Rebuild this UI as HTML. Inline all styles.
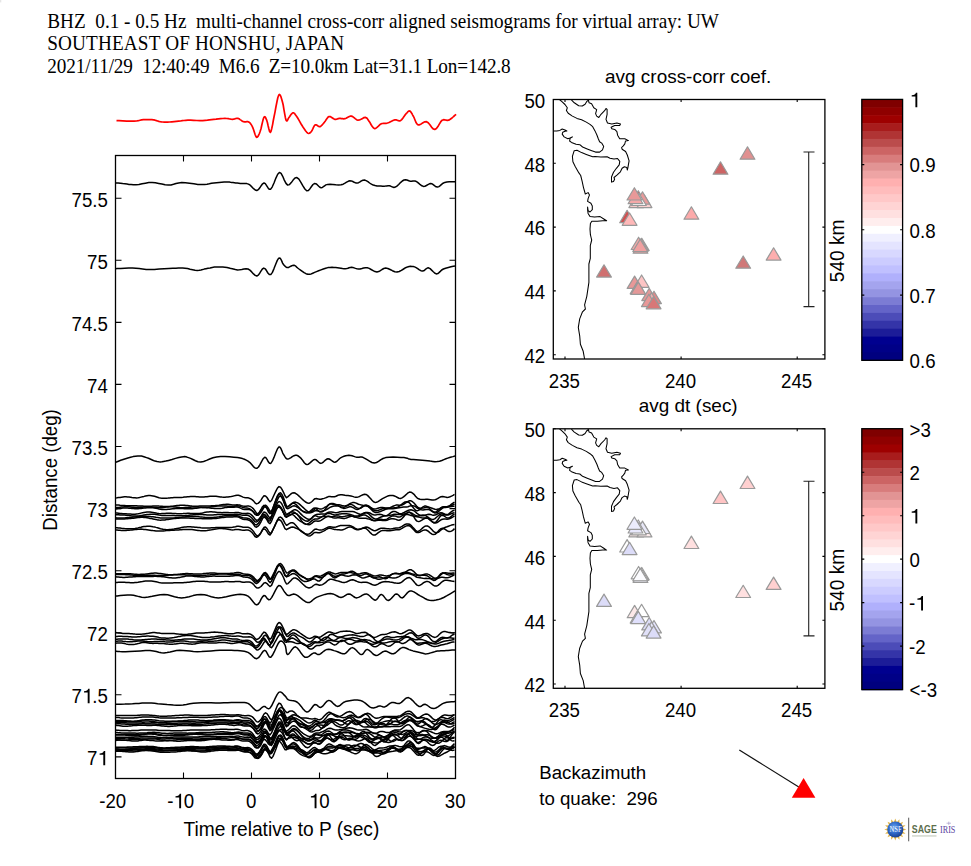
<!DOCTYPE html><html><head><meta charset="utf-8"><style>
html,body{margin:0;padding:0;background:#fff;overflow:hidden}svg{display:block}
.t{font-family:"Liberation Sans",sans-serif;font-size:18.7px;fill:#000;white-space:pre}
.s{font-family:"Liberation Serif",serif;font-size:19.2px;fill:#000;white-space:pre}
</style></head><body>
<svg width="971" height="866" viewBox="0 0 971 866">
<rect width="971" height="866" fill="#fff"/>
<rect x="0" y="0" width="1.3" height="2.4" fill="#e6e6e6"/>
<text transform="translate(47.3,27.9) scale(1,1.09)" class="s" style="font-size:19.2px" xml:space="preserve">BHZ  0.1 - 0.5 Hz  multi-channel cross-corr aligned seismograms for virtual array: UW</text>
<text transform="translate(47.3,50.4) scale(1,1.09)" class="s" style="font-size:19.2px" xml:space="preserve" textLength="296.9">SOUTHEAST OF HONSHU, JAPAN</text>
<text transform="translate(47.3,73) scale(1,1.09)" class="s" style="font-size:19.2px" xml:space="preserve" textLength="463.4">2021/11/29  12:40:49  M6.6  Z=10.0km Lat=31.1 Lon=142.8</text>
<polyline points="116.5,120.6 119,120.7 122.7,120.9 126.8,121.1 130.8,121.2 134.1,121.2 136.5,121 138.4,120.7 140,120.3 141.6,119.9 143.4,119.7 145.4,119.6 147.6,119.6 149.7,119.6 151.8,119.7 153.6,119.9 155.1,120.2 156.4,120.6 157.6,121 158.8,121.4 160.1,121.7 161.5,121.9 162.8,122 164.2,122.1 165.8,122.1 167.5,122.1 169.5,122 171.8,121.8 174.1,121.6 176.4,121.4 178.6,121.2 180.5,121 182.2,120.7 183.9,120.5 185.7,120.3 187.9,120.2 190.6,120.2 193.6,120.3 196.8,120.5 199.9,120.6 202.7,120.6 205.2,120.4 207.4,120.2 209.5,119.9 211.6,119.6 213.8,119.3 216.1,119.1 218.4,118.8 220.7,118.6 222.9,118.5 224.9,118.4 226.7,118.5 228.3,118.7 229.7,119 231.1,119.2 232.4,119.3 233.6,119.2 234.7,118.9 235.8,118.5 236.8,118.3 237.9,118.4 239,118.8 240.1,119.6 241.3,120.4 242.4,121.2 243.5,121.7 244.6,121.9 245.8,121.8 246.9,121.7 248,121.7 249,122.1 249.9,122.8 250.6,123.7 251.4,124.9 252.1,126.1 252.8,127.6 253.5,129.5 254.3,131.9 255,134.3 255.8,136.3 256.5,137.3 257.2,137.2 258,136.4 258.7,135 259.5,133.3 260.2,131.3 261,128.8 261.7,125.5 262.5,122.1 263.2,119.2 263.9,117.4 264.5,116.7 265,116.9 265.6,117.6 266.1,118.8 266.7,120.2 267.4,122.5 268.1,125.7 268.9,129 269.6,131.5 270.4,132.3 271.1,131 271.8,128.3 272.6,124.6 273.3,120.5 274.1,116.5 275,112.1 275.9,107 276.9,102 277.8,97.8 278.7,95.2 279.5,94.5 280.2,95.2 281,96.9 281.7,99.2 282.4,101.7 283.2,105 283.9,109.3 284.7,113.8 285.4,117.7 286.1,120.2 286.7,121 287.3,120.7 287.8,119.7 288.4,118.4 289,117.4 289.7,116.5 290.5,115.3 291.4,114.1 292.2,113.2 293,112.8 293.7,112.9 294.4,113.4 295.1,114.2 295.8,115.3 296.7,116.5 297.7,118 298.8,119.9 299.9,121.9 301.1,124 302.2,125.8 303.3,127.6 304.5,129.3 305.7,131 306.8,132.3 307.8,133.2 308.7,133.5 309.4,133.3 310.1,132.8 310.8,132.1 311.5,131.3 312.2,130.2 312.9,128.7 313.6,127.1 314.4,125.7 315.2,124.9 316.1,124.8 317,125.3 318,126 319,126.6 319.9,126.7 320.8,126.2 321.7,125.4 322.7,124.3 323.6,123.2 324.5,122.1 325.4,120.9 326.3,119.5 327.2,118.2 328.1,117.1 329.1,116.5 330.2,116.6 331.3,117.2 332.5,118 333.6,118.8 334.7,119.3 335.7,119.3 336.6,119.1 337.4,118.9 338.3,118.6 339.3,118.4 340.3,118.4 341.4,118.6 342.5,118.7 343.7,118.8 344.9,118.7 346.1,118.3 347.4,117.5 348.8,116.8 350.1,116.2 351.4,116.1 352.7,116.6 354,117.6 355.2,118.7 356.5,119.7 357.9,120.2 359.4,120 361,119.3 362.6,118.4 364,117.6 365.3,117.4 366.2,117.7 367,118.3 367.6,119.1 368.2,120.1 369,121.2 370,122.6 371,124.5 372.1,126.3 373.3,127.8 374.5,128.6 375.7,128.4 377,127.4 378.4,126.1 379.7,124.8 381,123.9 382.3,123.5 383.6,123.4 384.8,123.3 386.1,123.3 387.5,123 389,122.5 390.5,121.7 392,121 393.5,120.3 394.9,119.9 396.1,119.9 397.3,120.3 398.3,120.7 399.4,120.9 400.5,120.6 401.7,119.6 402.8,118.2 404,116.5 405.1,114.9 406.1,113.7 407,112.8 407.7,111.9 408.4,111.3 409.1,110.9 409.8,111 410.5,111.5 411.2,112.5 412,113.7 412.7,115.1 413.5,116.5 414.3,118.2 415.1,120.2 415.9,122.2 416.9,123.9 418.1,124.9 419.5,124.8 421.2,123.9 423,122.7 424.8,121.8 426.5,121.7 428.2,122.8 429.9,124.8 431.5,127.1 433.2,128.9 434.8,129.5 436.4,128.6 437.9,126.6 439.3,124.1 440.8,121.7 442.2,120.2 443.5,119.7 444.8,119.8 446.1,120.2 447.4,120.4 448.7,120.2 450.2,119.3 452,118 453.6,116.5 455.1,115.2 456.1,114.3" fill="none" stroke="#ff0000" stroke-width="1.7" stroke-linejoin="round"/>
<clipPath id="pc"><rect x="115.5" y="155.5" width="340" height="623"/></clipPath>
<g clip-path="url(#pc)" fill="none" stroke="#000" stroke-width="1.5" stroke-linejoin="round">
<polyline points="115,182.7 116.3,182.9 118.2,183.1 120.4,183.3 122.7,183.6 124.9,183.8 127,184.1 129,184.4 131.1,184.6 133.4,184.8 136,184.8 138.9,184.5 142.1,183.8 145.4,183.2 148.8,182.6 152.1,182.4 155.4,182.7 158.7,183.4 161.9,184.1 165.1,184.8 168.2,185.1 171,184.9 173.5,184.3 176,183.5 178.6,182.9 181.7,182.6 185.4,182.8 189.5,183.2 193.8,183.8 197.9,184.4 201.5,184.6 204.5,184.5 207,184.2 209.3,183.8 211.5,183.3 213.9,183 216.5,182.7 219.1,182.5 221.7,182.3 224.1,182.1 226.2,182 227.9,182 229.3,182.1 230.5,182.3 231.7,182.4 233,182.6 234.4,182.8 235.8,183 237.3,183.1 238.8,183.3 240.3,183.5 241.9,183.5 243.5,183.5 245.2,183.5 246.8,183.6 248.5,184.1 250.2,185.2 251.9,186.9 253.6,188.7 255.2,190 256.8,190.5 258.3,189.7 259.8,187.8 261.2,185.7 262.6,183.8 264,183 265.3,183.7 266.6,185.6 267.9,187.7 269.2,189.2 270.7,189.2 272.3,186.8 274.1,182.7 275.9,178.1 277.7,174.2 279.4,172.4 281.1,173.4 282.7,176.3 284.3,180.1 286,183.4 287.7,185.1 289.5,184.6 291.3,182.6 293.1,180.1 295,178.1 296.9,177.6 298.9,179.2 300.9,182.3 302.9,185.9 304.9,189 306.7,190.7 308.4,190.4 310,188.7 311.5,186.5 313,184.5 314.4,183.5 315.8,183.7 317.2,184.7 318.5,186 319.8,187.2 321.1,187.7 322.3,187.5 323.4,186.7 324.6,185.8 325.9,184.9 327.7,184.4 330,184.3 332.8,184.5 335.8,184.8 338.6,184.9 341.1,184.8 343.2,184.2 345,183.2 346.6,182.2 348.2,181.3 349.8,180.8 351.3,180.9 352.8,181.5 354.2,182.3 355.7,182.9 357.1,183.1 358.6,182.7 360,181.9 361.4,180.9 362.9,180.2 364.5,180 366.1,180.6 367.9,181.6 369.6,183 371.4,184.2 373.2,185.1 375.1,185.6 377,185.9 379,186.1 380.9,186.1 382.6,186.2 384.1,186.2 385.5,186.1 386.8,185.9 388,185.8 389.3,185.8 390.5,186.1 391.6,186.6 392.7,187.1 393.9,187.4 395.3,187.1 396.9,186.1 398.7,184.5 400.5,182.6 402.3,181 404,180 405.5,179.7 406.9,180 408.2,180.5 409.5,181 410.7,181.3 411.8,181.3 412.8,181.1 413.8,181 414.8,181 416,181.3 417.3,182.1 418.8,183.4 420.3,184.7 421.9,185.8 423.4,186.4 424.9,186.2 426.4,185.5 427.9,184.6 429.4,183.8 430.8,183.5 432.2,183.9 433.5,184.9 434.8,185.9 436.1,186.8 437.5,187.1 438.9,186.6 440.2,185.6 441.6,184.4 443.1,183.2 444.8,182.4 446.8,182 449.2,181.8 451.5,181.7 453.6,181.7 455,181.7"/>
<polyline points="115,268.7 117.4,268.6 120.7,268.4 124.7,268.2 128.7,268.1 132.5,268.1 135.9,268.3 139.2,268.6 142.6,269 146.2,269.4 150,269.5 154.4,269.4 159.2,269.1 164.2,268.8 168.8,268.5 172.8,268.3 175.9,268.2 178.4,268.1 180.6,268.1 182.7,268.1 185,268.3 187.5,268.6 190.1,269.2 192.6,269.7 195.1,270.2 197.3,270.4 199.2,270.3 201,270 202.6,269.6 204.2,269.1 206,268.7 208,268.3 210.1,267.9 212.2,267.4 214.4,267.1 216.5,266.9 218.6,266.9 220.7,266.9 222.8,267.1 224.9,267.3 227,267.6 229.1,268 231.2,268.6 233.3,269.1 235.4,269.6 237.5,269.9 239.6,269.8 241.8,269.4 243.9,268.9 246,268.7 248,269 249.9,270.1 251.7,271.9 253.5,273.9 255.2,275.4 256.8,276 258.3,275.1 259.7,273.2 261.1,270.9 262.4,269 263.8,268.1 265.2,268.8 266.6,270.8 267.9,273 269.3,274.5 270.8,274.6 272.4,272.4 274,268.6 275.7,264.2 277.3,260.4 278.7,258.2 279.9,258.1 280.9,259.2 281.8,261.1 282.6,263.1 283.5,264.5 284.3,265.4 285.1,266.2 285.8,266.9 286.7,267.4 287.6,267.6 288.7,267.4 290,266.7 291.3,266 292.6,265.4 293.8,265.2 294.8,265.5 295.8,266.2 296.7,267.1 297.7,268 299,269 300.5,270.1 302.3,271.4 304.1,272.7 306,273.7 307.8,274.3 309.5,274.3 311.2,273.9 312.8,273.2 314.6,272.4 316.5,271.6 318.6,270.8 321,269.9 323.3,269 325.7,268.2 327.9,267.6 330,267.4 332,267.3 333.9,267.5 335.7,267.6 337.5,267.8 339.2,268 340.9,268.2 342.5,268.5 344,268.7 345.4,268.7 346.7,268.5 347.9,268.2 349.1,267.7 350.3,267.4 351.5,267.3 352.8,267.5 354.1,267.9 355.5,268.4 357,268.8 358.5,269 360.1,268.9 361.9,268.5 363.6,268 365.5,267.7 367.3,267.8 369.2,268.4 371.1,269.5 373.1,270.6 375,271.6 376.9,272 378.7,271.6 380.4,270.6 382,269.5 383.8,268.5 385.7,268.1 387.8,268.5 390.1,269.5 392.4,270.7 394.8,271.7 397,272 399.2,271.5 401.4,270.4 403.6,269 405.6,267.7 407.5,266.9 409.1,266.5 410.6,266.3 411.9,266.4 413.2,266.5 414.6,266.9 416.1,267.6 417.7,268.6 419.4,269.8 420.9,270.7 422.4,271.1 423.7,270.8 424.9,269.9 426.1,268.8 427.3,268 428.6,267.8 430.1,268.6 431.6,270.1 433.3,271.8 434.9,273.2 436.4,273.9 437.8,273.6 439,272.6 440.3,271.4 441.7,270 443.4,269 445.6,268.2 448.3,267.5 451,266.8 453.3,266.3 455,265.9"/>
<polyline points="115,462.5 116.4,462 118.4,461.2 120.7,460.3 123.1,459.5 125.5,458.7 127.9,458 130.5,457.3 133.1,456.6 135.5,456.2 137.8,455.9 139.7,455.9 141.5,456.1 143.1,456.5 144.7,457 146.5,457.6 148.5,458.3 150.7,459.3 152.8,460.2 155,461.1 157,461.6 158.8,461.8 160.3,461.9 161.9,461.8 163.6,461.5 165.8,461.1 168.6,460.4 172,459.5 175.5,458.4 178.8,457.5 181.5,456.9 183.4,456.7 184.7,456.6 185.7,456.8 186.9,457.1 188.5,457.6 190.6,458.4 192.9,459.5 195.4,460.7 198,461.7 200.8,462 203.6,461.5 206.6,460.4 209.7,459 213,457.7 216.5,456.9 220.5,456.6 225,456.6 229.6,456.8 233.9,457.2 237.5,457.6 240.3,458.1 242.5,458.6 244.4,459.3 246.2,460.1 248,461.1 249.9,462.6 251.7,464.6 253.4,466.6 255.1,468 256.8,468.3 258.5,467 260.1,464.4 261.7,461.3 263.2,458.7 264.7,457.3 266,457.8 267.2,459.6 268.3,461.8 269.5,463.3 270.8,463.4 272.3,461.2 274,457.4 275.7,453 277.3,449.2 278.7,447.1 279.9,447.1 280.9,448.5 281.8,450.6 282.6,452.8 283.5,454.5 284.3,455.7 285,456.9 285.7,457.9 286.5,458.7 287.6,459 289,458.7 290.6,457.8 292.3,456.6 294,455.7 295.5,455.2 296.7,455.3 297.8,455.7 298.7,456.4 299.7,457.2 300.8,458.1 301.9,459.4 303.1,461 304.3,462.7 305.6,464 306.9,464.6 308.4,464.2 310,462.9 311.7,461.4 313.3,460 314.8,459.4 316.1,459.8 317.3,460.8 318.5,462 319.7,463 320.9,463.4 322.2,462.9 323.6,461.8 325.1,460.4 326.5,459.3 327.9,458.7 329.3,459 330.7,459.9 332.2,461 333.6,461.9 334.9,462.2 336.1,461.8 337.3,460.8 338.5,459.7 339.7,458.5 341,457.6 342.5,456.9 344,456.3 345.7,455.7 347.3,455.4 348.9,455.2 350.5,455.4 352.1,455.8 353.8,456.4 355.3,456.9 356.8,457.3 358.1,457.3 359.1,457.2 360.2,457 361.4,457 362.9,457.3 364.8,458.3 367.1,459.7 369.5,461.2 371.9,462.5 374.3,463 376.5,462.5 378.5,461.4 380.6,459.9 383,458.5 385.7,457.6 389.1,457.2 393.1,457.1 397.2,457.2 401,457.4 404,457.6 406,457.9 407.3,458.2 408.2,458.7 409.3,459.1 411,459.4 413.4,459.6 416.2,459.8 419.2,460 422.2,460.2 425,460.4 427.6,460.7 430.1,461.1 432.6,461.4 435,461.7 437.3,461.6 439.6,461.2 441.8,460.5 443.9,459.6 445.9,458.8 447.8,458.1 449.6,457.5 451.3,457 452.8,456.6 454.1,456.2 455,455.9"/>
<polyline points="115.5,497.9 117,497.8 118.5,497.6 120,497.4 121.5,497.2 123,497 124.5,496.8 126,496.8 127.5,496.9 129,497 130.5,497.2 132,497.5 133.5,497.7 135,497.8 136.5,497.9 138,497.8 139.5,497.5 141,497.1 142.5,496.7 144,496.4 145.5,496 147,495.8 148.5,495.6 150,495.6 151.5,495.7 153,495.9 154.5,496.2 156,496.7 157.5,497.2 159,497.7 160.5,498 162,498.2 163.5,498.3 165,498.3 166.5,498.2 168,498.1 169.5,497.9 171,497.8 172.5,497.7 174,497.6 175.5,497.5 177,497.5 178.5,497.5 180,497.5 181.5,497.4 183,497.3 184.5,497.1 186,497 187.5,496.8 189,496.7 190.5,496.6 192,496.5 193.5,496.5 195,496.6 196.5,496.7 198,496.8 199.5,496.9 201,496.9 202.5,497 204,496.9 205.5,496.8 207,496.7 208.5,496.5 210,496.3 211.5,496.2 213,496.2 214.5,496.2 216,496.3 217.5,496.5 219,496.7 220.5,496.9 222,497.1 223.5,497.2 225,497.2 226.5,497.1 228,497 229.5,496.8 231,496.6 232.5,496.3 234,495.9 235.5,495.5 237,495.2 238.5,495.3 240,495.8 241.5,496.4 243,497.1 244.5,497.5 246,497.7 247.5,497.8 249,498.1 250.5,498.7 252,499.6 253.5,500.9 255,502.8 256.5,503.9 258,503.4 259.5,502.1 261,500.2 262.5,497.6 264,495.7 265.5,495.9 267,497.5 268.5,500 270,501.8 271.5,500.5 273,497.2 274.5,494 276,490.9 277.5,488 279,486.6 280.5,487.2 282,489.4 283.5,492.3 285,495.8 286.5,497.7 288,496.6 289.5,495.2 291,493.9 292.5,492.9 294,492.7 295.5,493.3 297,494.3 298.5,495.6 300,497 301.5,498.5 303,499.9 304.5,501.2 306,502.3 307.5,503 309,503.2 310.5,502.6 312,501.5 313.5,499.9 315,498.7 316.5,498.6 318,498.9 319.5,499.3 321,499.2 322.5,498.8 324,498.4 325.5,497.9 327,497.2 328.5,496.6 330,496.5 331.5,496.7 333,496.8 334.5,496.7 336,496.2 337.5,495.5 339,494.9 340.5,494.7 342,494.7 343.5,494.9 345,495.2 346.5,495.4 348,495.5 349.5,495.7 351,496 352.5,496.4 354,496.9 355.5,497.3 357,497.3 358.5,496.9 360,496.2 361.5,495.4 363,494.7 364.5,494.3 366,494.4 367.5,495.4 369,496.9 370.5,498.5 372,500.3 373.5,501.7 375,502.4 376.5,502.3 378,501.6 379.5,500.7 381,499.6 382.5,498.7 384,497.9 385.5,497.1 387,496.4 388.5,495.8 390,495.5 391.5,495.4 393,495.5 394.5,496 396,496.6 397.5,497.5 399,498.2 400.5,498.5 402,497.9 403.5,496.9 405,495.6 406.5,494.2 408,492.9 409.5,492.1 411,492.2 412.5,493.1 414,494.3 415.5,496.2 417,497.8 418.5,498.8 420,499.3 421.5,499.5 423,499.5 424.5,499.4 426,499.3 427.5,499.3 429,499.5 430.5,499.7 432,500 433.5,500 435,499.8 436.5,499.2 438,498.3 439.5,497.4 441,496.7 442.5,496.4 444,496.7 445.5,497.1 447,497.4 448.5,497.3 450,496.8 451.5,496.1 453,495.3 454.5,494.4"/>
<polyline points="115.5,505 117,505 118.5,505.1 120,505.3 121.5,505.4 123,505.5 124.5,505.6 126,505.7 127.5,505.7 129,505.7 130.5,505.7 132,505.7 133.5,505.7 135,505.8 136.5,505.8 138,505.9 139.5,506 141,506 142.5,506.1 144,506.2 145.5,506.3 147,506.3 148.5,506.3 150,506.3 151.5,506.2 153,506 154.5,505.9 156,505.9 157.5,505.9 159,506.1 160.5,506.2 162,506.3 163.5,506.4 165,506.4 166.5,506.5 168,506.5 169.5,506.4 171,506.3 172.5,506.2 174,506 175.5,505.8 177,505.6 178.5,505.4 180,505.3 181.5,505.2 183,505.2 184.5,505.3 186,505.4 187.5,505.5 189,505.7 190.5,505.9 192,506.1 193.5,506.2 195,506.2 196.5,506.2 198,506.2 199.5,506.1 201,506.1 202.5,506 204,505.9 205.5,505.9 207,505.9 208.5,505.9 210,505.9 211.5,505.8 213,505.8 214.5,505.7 216,505.6 217.5,505.5 219,505.3 220.5,505 222,504.8 223.5,504.6 225,504.4 226.5,504.3 228,504.3 229.5,504.5 231,504.7 232.5,504.9 234,505 235.5,504.9 237,504.8 238.5,504.9 240,505.1 241.5,505.6 243,506 244.5,506.2 246,506.2 247.5,506.1 249,506.1 250.5,506.5 252,507.5 253.5,508.9 255,511 256.5,513.2 258,513.8 259.5,512.9 261,511.3 262.5,508.9 264,506.2 265.5,505.2 267,506.3 268.5,508.5 270,511.1 271.5,511.4 273,508.3 274.5,504.1 276,500.1 277.5,496.2 279,493.4 280.5,492.8 282,494.6 283.5,497.7 285,501.9 286.5,505.9 288,507 289.5,505.7 291,504.5 292.5,503.1 294,502.2 295.5,502.1 297,502.6 298.5,503.4 300,504.6 301.5,506 303,507.4 304.5,508.8 306,510.2 307.5,511.4 309,512.1 310.5,512.1 312,511.4 313.5,510.2 315,508.7 316.5,508.1 318,508.4 319.5,508.9 321,509 322.5,508.6 324,507.9 325.5,507 327,506 328.5,504.8 330,504.1 331.5,503.9 333,504.2 334.5,504.5 336,504.7 337.5,504.8 339,504.8 340.5,505.1 342,505.5 343.5,505.8 345,505.9 346.5,505.6 348,504.9 349.5,504 351,503.1 352.5,502.6 354,502.5 355.5,502.9 357,503.5 358.5,504.2 360,504.6 361.5,505 363,505.3 364.5,505.5 366,505.7 367.5,506.2 369,507 370.5,507.6 372,508.3 373.5,508.9 375,509.1 376.5,508.8 378,508.2 379.5,507.7 381,507.4 382.5,507.5 384,507.8 385.5,508.1 387,508.2 388.5,508 390,507.6 391.5,507 393,506.3 394.5,505.6 396,505.1 397.5,505 399,505.2 400.5,505.3 402,505 403.5,504.3 405,503.3 406.5,502.4 408,501.5 409.5,500.8 411,500.8 412.5,501.7 414,503 415.5,504.7 417,506.6 418.5,507.8 420,508.3 421.5,508.3 423,508.1 424.5,507.7 426,507.3 427.5,507 429,507.1 430.5,507.6 432,508.2 433.5,508.8 435,509.3 436.5,509.4 438,509.1 439.5,508.6 441,507.9 442.5,507.3 444,507.1 445.5,506.9 447,506.7 448.5,506.2 450,505.3 451.5,504.2 453,503.1 454.5,502.1"/>
<polyline points="115.5,507.6 117,507.5 118.5,507.4 120,507.2 121.5,507 123,506.9 124.5,506.8 126,506.7 127.5,506.8 129,506.8 130.5,507 132,507.2 133.5,507.3 135,507.5 136.5,507.5 138,507.5 139.5,507.4 141,507.3 142.5,507.2 144,507.1 145.5,507.1 147,507 148.5,507 150,507.1 151.5,507.1 153,507.2 154.5,507.4 156,507.5 157.5,507.7 159,507.8 160.5,507.8 162,507.7 163.5,507.5 165,507.3 166.5,507.1 168,506.9 169.5,506.8 171,506.7 172.5,506.8 174,506.9 175.5,507 177,507.2 178.5,507.4 180,507.6 181.5,507.7 183,507.7 184.5,507.6 186,507.6 187.5,507.4 189,507.3 190.5,507.2 192,507.1 193.5,507 195,507 196.5,507 198,507.1 199.5,507.2 201,507.3 202.5,507.4 204,507.5 205.5,507.5 207,507.4 208.5,507.3 210,507.1 211.5,506.8 213,506.6 214.5,506.4 216,506.2 217.5,506.1 219,505.9 220.5,505.9 222,505.9 223.5,505.9 225,506 226.5,506.1 228,506.2 229.5,506.3 231,506.4 232.5,506.4 234,506.2 235.5,505.9 237,505.8 238.5,505.9 240,506.4 241.5,506.9 243,507.5 244.5,507.8 246,507.9 247.5,508.1 249,508.5 250.5,509.4 252,510.6 253.5,512.2 255,514.2 256.5,514.9 258,513.9 259.5,512 261,509.5 262.5,506.7 264,505.3 265.5,506.3 267,508.7 268.5,512.1 270,513.8 271.5,511.9 273,507.8 274.5,503.7 276,499.4 277.5,495.7 279,494.1 280.5,495 282,497.6 283.5,501.3 285,505.5 286.5,507.5 288,506.5 289.5,505.4 291,504.1 292.5,503.2 294,503.3 295.5,504.1 297,505.4 298.5,507 300,508.7 301.5,510.2 303,511.5 304.5,512.4 306,512.9 307.5,512.8 309,512.1 310.5,510.9 312,509.6 313.5,508.2 315,507.9 316.5,508.9 318,510.5 319.5,511.7 321,512.1 322.5,511.7 324,510.6 325.5,509 327,506.9 328.5,505 330,503.8 331.5,503.4 333,503.5 334.5,504 336,504.5 337.5,505.1 339,505.9 340.5,506.6 342,507.1 343.5,507.2 345,506.9 346.5,506.1 348,505.3 349.5,504.6 351,504.4 352.5,504.9 354,505.9 355.5,507.1 357,508 358.5,508.4 360,508.3 361.5,507.7 363,506.7 364.5,505.8 366,505.2 367.5,505.5 369,506.2 370.5,507.3 372,508.8 373.5,510 375,510.8 376.5,510.8 378,510.5 379.5,509.9 381,509.3 382.5,508.8 384,508.5 385.5,508.3 387,508.1 388.5,508.1 390,508.1 391.5,508.1 393,508 394.5,507.7 396,507.5 397.5,507.1 399,506.5 400.5,505.4 402,504.1 403.5,502.9 405,502 406.5,501.8 408,502 409.5,502.9 411,504.7 412.5,506.8 414,508.6 415.5,510.3 417,510.9 418.5,510.4 420,509.3 421.5,508 423,506.9 424.5,506.1 426,506.1 427.5,506.8 429,508 430.5,509.5 432,510.9 433.5,511.9 435,512.1 436.5,511.6 438,510.4 439.5,509 441,507.7 442.5,507 444,506.7 445.5,506.7 447,506.8 448.5,506.6 450,506.2 451.5,505.5 453,504.8 454.5,504"/>
<polyline points="115.5,509.1 117,508.8 118.5,508.6 120,508.4 121.5,508.3 123,508.1 124.5,508.1 126,508 127.5,508.1 129,508.2 130.5,508.3 132,508.5 133.5,508.6 135,508.8 136.5,508.8 138,508.8 139.5,508.6 141,508.4 142.5,508.2 144,508.1 145.5,507.9 147,507.8 148.5,507.7 150,507.7 151.5,507.7 153,507.8 154.5,508 156,508.3 157.5,508.6 159,509 160.5,509.2 162,509.4 163.5,509.5 165,509.5 166.5,509.5 168,509.3 169.5,509.2 171,509 172.5,508.8 174,508.7 175.5,508.6 177,508.5 178.5,508.5 180,508.5 181.5,508.6 183,508.6 184.5,508.7 186,508.7 187.5,508.8 189,508.8 190.5,508.7 192,508.7 193.5,508.5 195,508.3 196.5,508.2 198,508 199.5,507.8 201,507.6 202.5,507.6 204,507.5 205.5,507.6 207,507.7 208.5,507.8 210,508 211.5,508.2 213,508.3 214.5,508.5 216,508.6 217.5,508.6 219,508.5 220.5,508.4 222,508.2 223.5,507.9 225,507.6 226.5,507.4 228,507.2 229.5,507.2 231,507.2 232.5,507.2 234,507.2 235.5,507.1 237,507.1 238.5,507.3 240,507.9 241.5,508.6 243,509.2 244.5,509.5 246,509.6 247.5,509.5 249,509.5 250.5,509.9 252,510.7 253.5,511.9 255,513.8 256.5,515.3 258,515.3 259.5,514.1 261,512.3 262.5,509.8 264,507.4 265.5,506.9 267,508.2 268.5,510.7 270,513.3 271.5,513.3 273,510.5 274.5,507.1 276,503.5 277.5,499.7 279,496.7 280.5,496 282,497.5 283.5,500.2 285,504.5 286.5,508.2 288,508.7 289.5,507.9 291,507 292.5,506.1 294,505.7 295.5,506.1 297,507 298.5,508 300,509.2 301.5,510.3 303,511.1 304.5,511.6 306,512.1 307.5,512.6 309,512.9 310.5,512.8 312,512.4 313.5,511.6 315,510.7 316.5,510.6 318,511 319.5,511.4 321,511.3 322.5,511 324,510.6 325.5,510.2 327,509.4 328.5,508.3 330,507.4 331.5,506.7 333,506.2 334.5,505.9 336,505.8 337.5,505.9 339,506.4 340.5,507.2 342,507.9 343.5,508.4 345,508.3 346.5,507.9 348,507.3 349.5,506.8 351,506.8 352.5,507.4 354,508.2 355.5,509.1 357,509.5 358.5,509.2 360,508.3 361.5,507.1 363,506.1 364.5,505.4 366,505.3 367.5,506 369,507.3 370.5,508.7 372,510.2 373.5,511.6 375,512.4 376.5,512.6 378,512.3 379.5,511.8 381,511.2 382.5,510.6 384,510 385.5,509.4 387,509 388.5,508.7 390,508.7 391.5,508.7 393,508.8 394.5,508.6 396,508.3 397.5,508 399,507.7 400.5,507.4 402,507.2 403.5,507 405,506.9 406.5,506.9 408,506.7 409.5,506.1 411,505.7 412.5,505.7 414,505.9 415.5,506.7 417,507.8 418.5,508.8 420,509.4 421.5,509.7 423,509.9 424.5,509.7 426,509.5 427.5,509.3 429,509.6 430.5,510.4 432,511.4 433.5,512.4 435,513 436.5,512.8 438,512 439.5,510.7 441,509.3 442.5,508.1 444,507.5 445.5,507.4 447,507.3 448.5,507.1 450,506.8 451.5,506.4 453,506.2 454.5,506.2"/>
<polyline points="115.5,512.9 117,513.1 118.5,513.3 120,513.5 121.5,513.6 123,513.7 124.5,513.7 126,513.8 127.5,513.9 129,514 130.5,514.1 132,514.2 133.5,514.2 135,514.2 136.5,514 138,513.8 139.5,513.5 141,513.1 142.5,512.7 144,512.4 145.5,512.2 147,512.1 148.5,512 150,512.1 151.5,512.3 153,512.5 154.5,512.7 156,513 157.5,513.4 159,513.6 160.5,513.7 162,513.6 163.5,513.6 165,513.4 166.5,513.3 168,513.3 169.5,513.3 171,513.3 172.5,513.4 174,513.5 175.5,513.6 177,513.7 178.5,513.8 180,513.7 181.5,513.7 183,513.6 184.5,513.4 186,513.4 187.5,513.3 189,513.3 190.5,513.4 192,513.4 193.5,513.5 195,513.6 196.5,513.6 198,513.6 199.5,513.4 201,513.2 202.5,513 204,512.6 205.5,512.3 207,512.1 208.5,511.9 210,511.8 211.5,511.8 213,511.9 214.5,512 216,512.2 217.5,512.4 219,512.6 220.5,512.6 222,512.7 223.5,512.6 225,512.6 226.5,512.6 228,512.6 229.5,512.7 231,512.8 232.5,512.8 234,512.7 235.5,512.6 237,512.5 238.5,512.6 240,512.9 241.5,513.3 243,513.5 244.5,513.5 246,513.4 247.5,513.3 249,513.4 250.5,514.1 252,515.3 253.5,516.9 255,519.1 256.5,520.4 258,519.9 259.5,518.5 261,516.5 262.5,513.8 264,512.1 265.5,512.4 267,514.1 268.5,516.5 270,517.9 271.5,516.2 273,512.7 274.5,509.3 276,506 277.5,503 279,501.5 280.5,502.1 282,504.2 283.5,507.5 285,511.8 286.5,514.5 288,514.2 289.5,513.3 291,512 292.5,510.6 294,509.8 295.5,509.8 297,510.4 298.5,511.5 300,513.1 301.5,514.6 303,516 304.5,517.2 306,518.2 307.5,519 309,519.3 310.5,519 312,518.1 313.5,516.5 315,515.1 316.5,514.5 318,514.3 319.5,514.2 321,514.1 322.5,514 324,513.9 325.5,513.7 327,513 328.5,512.3 330,512 331.5,512 333,512.3 334.5,512.6 336,512.7 337.5,512.5 339,512.1 340.5,511.8 342,511.6 343.5,511.5 345,511.5 346.5,511.5 348,511.6 349.5,511.5 351,511.4 352.5,511.5 354,511.8 355.5,512.4 357,513.1 358.5,513.8 360,514.3 361.5,514.4 363,514 364.5,513.3 366,512.6 367.5,512.4 369,512.7 370.5,513.3 372,514.2 373.5,514.8 375,515 376.5,514.8 378,514.4 379.5,514.2 381,514.4 382.5,515 384,515.6 385.5,515.8 387,515.5 388.5,514.6 390,513.4 391.5,512.2 393,511.5 394.5,511.4 396,511.8 397.5,512.6 399,513.5 400.5,513.8 402,513.4 403.5,512.8 405,512 406.5,511.2 408,510.5 409.5,509.9 411,509.8 412.5,510.2 414,510.7 415.5,512 417,513.4 418.5,514.4 420,515.3 421.5,515.8 423,515.8 424.5,515.5 426,514.9 427.5,514.5 429,514.3 430.5,514.5 432,514.9 433.5,515.2 435,515.1 436.5,514.5 438,513.7 439.5,513 441,512.7 442.5,513 444,513.8 445.5,514.4 447,514.6 448.5,514.1 450,512.9 451.5,511.7 453,510.7 454.5,510.1"/>
<polyline points="115.5,514.8 117,514.8 118.5,514.8 120,514.9 121.5,514.9 123,515 124.5,515.1 126,515.2 127.5,515.4 129,515.5 130.5,515.7 132,515.9 133.5,516.1 135,516.1 136.5,516.1 138,516 139.5,515.8 141,515.5 142.5,515.3 144,515 145.5,514.8 147,514.6 148.5,514.4 150,514.3 151.5,514.2 153,514.2 154.5,514.3 156,514.6 157.5,514.8 159,515.1 160.5,515.3 162,515.4 163.5,515.5 165,515.6 166.5,515.6 168,515.6 169.5,515.6 171,515.6 172.5,515.6 174,515.6 175.5,515.7 177,515.7 178.5,515.8 180,515.8 181.5,515.8 183,515.8 184.5,515.7 186,515.6 187.5,515.5 189,515.3 190.5,515.1 192,515 193.5,514.8 195,514.7 196.5,514.6 198,514.5 199.5,514.5 201,514.5 202.5,514.6 204,514.7 205.5,514.8 207,514.9 208.5,514.9 210,514.9 211.5,514.9 213,514.9 214.5,514.8 216,514.7 217.5,514.6 219,514.5 220.5,514.4 222,514.4 223.5,514.4 225,514.4 226.5,514.5 228,514.6 229.5,514.7 231,514.8 232.5,514.7 234,514.6 235.5,514.3 237,514.2 238.5,514.4 240,514.7 241.5,515 243,515.2 244.5,515.2 246,515.1 247.5,515.3 249,515.8 250.5,516.8 252,518.1 253.5,519.9 255,521.7 256.5,522 258,521 259.5,519.5 261,517.2 262.5,514.9 264,514.2 265.5,515.2 267,517 268.5,519 270,518.9 271.5,516.1 273,512.8 274.5,509.8 276,507 277.5,505.2 279,505.3 280.5,507 282,509.3 283.5,512.4 285,515 286.5,515 288,513.6 289.5,512.7 291,511.9 292.5,511.7 294,512.2 295.5,513.2 297,514.2 298.5,515.5 300,516.8 301.5,518.1 303,519.3 304.5,520.3 306,521.1 307.5,521.2 309,520.5 310.5,519.3 312,517.7 313.5,516.1 315,515.6 316.5,516.1 318,516.8 319.5,517.1 321,516.9 322.5,516.4 324,515.6 325.5,514.6 327,513.6 328.5,513.2 330,513.4 331.5,514 333,514.6 334.5,514.9 336,514.8 337.5,514.5 339,514.1 340.5,513.9 342,513.7 343.5,513.7 345,513.7 346.5,513.8 348,514 349.5,514.2 351,514.6 352.5,515.1 354,515.6 355.5,516 357,516 358.5,515.6 360,515 361.5,514.2 363,513.4 364.5,512.7 366,512.6 367.5,513.2 369,514.2 370.5,515.6 372,517.1 373.5,518.3 375,518.9 376.5,518.9 378,518.4 379.5,517.7 381,517 382.5,516.5 384,516.1 385.5,515.8 387,515.7 388.5,515.5 390,515.3 391.5,515 393,514.6 394.5,514.3 396,514.3 397.5,514.4 399,514.6 400.5,514.6 402,514.4 403.5,514.1 405,513.6 406.5,513.1 408,512.5 409.5,512.4 411,512.9 412.5,513.5 414,514.5 415.5,515.5 417,516 418.5,515.9 420,515.6 421.5,515.2 423,515.1 424.5,515.3 426,515.8 427.5,516.8 429,517.9 430.5,518.9 432,519.4 433.5,519.4 435,518.6 436.5,517.3 438,516 439.5,514.8 441,514.1 442.5,514.1 444,514.5 445.5,515 447,515.1 448.5,514.9 450,514.3 451.5,513.6 453,513 454.5,512.6"/>
<polyline points="115.5,517.7 117,517.9 118.5,518 120,518 121.5,518.1 123,518 124.5,517.9 126,517.8 127.5,517.7 129,517.6 130.5,517.4 132,517.3 133.5,517.1 135,517 136.5,516.8 138,516.6 139.5,516.5 141,516.3 142.5,516.3 144,516.3 145.5,516.3 147,516.4 148.5,516.5 150,516.6 151.5,516.7 153,516.8 154.5,517 156,517.3 157.5,517.5 159,517.7 160.5,517.9 162,518 163.5,518 165,518.1 166.5,518.1 168,518.1 169.5,518.1 171,518 172.5,518 174,517.9 175.5,517.8 177,517.7 178.5,517.6 180,517.4 181.5,517.3 183,517.1 184.5,516.9 186,516.7 187.5,516.6 189,516.5 190.5,516.4 192,516.4 193.5,516.4 195,516.4 196.5,516.5 198,516.6 199.5,516.8 201,516.9 202.5,517.1 204,517.2 205.5,517.4 207,517.4 208.5,517.5 210,517.5 211.5,517.5 213,517.4 214.5,517.3 216,517.2 217.5,517 219,516.8 220.5,516.5 222,516.3 223.5,516 225,515.8 226.5,515.7 228,515.7 229.5,515.7 231,515.7 232.5,515.7 234,515.6 235.5,515.5 237,515.6 238.5,516 240,516.7 241.5,517.3 243,517.8 244.5,518 246,518.1 247.5,518.2 249,518.7 250.5,519.6 252,520.9 253.5,522.7 255,524.6 256.5,524.9 258,523.7 259.5,521.8 261,519.1 262.5,516.5 264,515.7 265.5,516.8 267,518.9 268.5,521 270,520.9 271.5,517.9 273,514.4 274.5,511.6 276,509.1 277.5,507.3 279,507 280.5,508.1 282,509.9 283.5,512.8 285,516 286.5,517 288,516.2 289.5,515.6 291,514.7 292.5,513.7 294,513.2 295.5,513.3 297,514.1 298.5,515.9 300,518.2 301.5,520.6 303,522.6 304.5,523.9 306,524.4 307.5,524 309,523.1 310.5,521.9 312,520.7 313.5,519.5 315,519 316.5,519.1 318,518.9 319.5,518.2 321,517.3 322.5,516.6 324,516.4 325.5,516.4 327,516.5 328.5,516.6 330,516.7 331.5,516.7 333,516.5 334.5,516.2 336,515.9 337.5,515.9 339,516.1 340.5,516.5 342,516.7 343.5,516.6 345,516.3 346.5,515.9 348,515.7 349.5,515.6 351,515.9 352.5,516.4 354,516.9 355.5,517.1 357,517 358.5,516.6 360,516 361.5,515.5 363,515.1 364.5,515 366,515.3 367.5,516.3 369,517.4 370.5,518.6 372,519.8 373.5,520.5 375,520.5 376.5,520 378,519.5 379.5,519.2 381,519.2 382.5,519.5 384,519.7 385.5,519.6 387,519.1 388.5,518.1 390,517.1 391.5,516.3 393,515.8 394.5,515.9 396,516.3 397.5,516.9 399,517.1 400.5,516.7 402,515.8 403.5,515 405,514.6 406.5,514.5 408,514.6 409.5,514.9 411,515.5 412.5,515.8 414,516 415.5,516.5 417,516.7 418.5,517 420,517.4 421.5,517.8 423,518.1 424.5,518 426,517.9 427.5,518.1 429,518.9 430.5,520.1 432,521.5 433.5,522.6 435,522.6 436.5,521.5 438,519.5 439.5,517.3 441,515.6 442.5,515.2 444,515.8 445.5,517 447,518 448.5,518.1 450,517.4 451.5,516.2 453,514.8 454.5,513.8"/>
<polyline points="115.5,518.9 117,518.9 118.5,519 120,519 121.5,519 123,519 124.5,518.9 126,518.8 127.5,518.7 129,518.6 130.5,518.5 132,518.3 133.5,518.2 135,518 136.5,517.8 138,517.6 139.5,517.4 141,517.3 142.5,517.3 144,517.4 145.5,517.6 147,517.8 148.5,518.1 150,518.4 151.5,518.6 153,518.9 154.5,519.2 156,519.5 157.5,519.9 159,520.1 160.5,520.2 162,520.1 163.5,520 165,519.9 166.5,519.6 168,519.4 169.5,519.2 171,518.9 172.5,518.7 174,518.5 175.5,518.4 177,518.3 178.5,518.2 180,518.1 181.5,518.1 183,518 184.5,518 186,518 187.5,518.1 189,518.1 190.5,518.2 192,518.2 193.5,518.3 195,518.4 196.5,518.4 198,518.5 199.5,518.5 201,518.6 202.5,518.7 204,518.7 205.5,518.7 207,518.8 208.5,518.8 210,518.7 211.5,518.7 213,518.6 214.5,518.5 216,518.4 217.5,518.3 219,518.1 220.5,517.8 222,517.6 223.5,517.4 225,517.2 226.5,517 228,517 229.5,517 231,517 232.5,516.9 234,516.8 235.5,516.7 237,516.7 238.5,517.1 240,517.8 241.5,518.6 243,519.2 244.5,519.4 246,519.6 247.5,519.7 249,520.2 250.5,521.1 252,522.5 253.5,524.4 255,526.6 256.5,527.2 258,526.2 259.5,524.4 261,521.8 262.5,518.6 264,517 265.5,517.8 267,519.8 268.5,522.7 270,523.7 271.5,521.3 273,517.5 274.5,514.1 276,510.4 277.5,507.4 279,506.1 280.5,507.2 282,509.4 283.5,512.7 285,516.3 286.5,517.3 288,515.8 289.5,515 291,514.4 292.5,514.5 294,515.5 295.5,517.1 297,518.5 298.5,519.9 300,521 301.5,521.9 303,522.6 304.5,523.4 306,524.1 307.5,524.6 309,524.7 310.5,524.2 312,523.2 313.5,521.7 315,521 316.5,521 318,521.3 319.5,521.1 321,520.3 322.5,519.3 324,518.3 325.5,517.4 327,516.5 328.5,516.1 330,516.5 331.5,517.1 333,517.7 334.5,518 336,517.9 337.5,517.7 339,517.7 340.5,517.9 342,518.2 343.5,518.5 345,518.4 346.5,518 348,517.4 349.5,516.7 351,516.2 352.5,516.2 354,516.5 355.5,517.1 357,517.6 358.5,518 360,518.2 361.5,518.3 363,518.3 364.5,518.2 366,518.2 367.5,518.7 369,519.1 370.5,519.6 372,520.2 373.5,520.6 375,520.7 376.5,520.5 378,520.2 379.5,520.1 381,520.3 382.5,520.5 384,520.6 385.5,520.5 387,520.2 388.5,519.6 390,519.1 391.5,518.8 393,518.7 394.5,518.9 396,519.4 397.5,520 399,520.3 400.5,519.8 402,518.6 403.5,516.9 405,515.1 406.5,513.5 408,512.3 409.5,512.1 411,513.2 412.5,515 414,517.1 415.5,519.6 417,521.1 418.5,521.6 420,521.2 421.5,520.4 423,519.4 424.5,518.5 426,518 427.5,518.2 429,519.1 430.5,520.3 432,521.7 433.5,522.7 435,523.1 436.5,522.8 438,522 439.5,520.8 441,519.8 442.5,519.2 444,519 445.5,519.1 447,519.2 448.5,519 450,518.5 451.5,517.8 453,516.9 454.5,515.9"/>
<polyline points="115.5,527.7 117,527.8 118.5,527.9 120,528.1 121.5,528.3 123,528.4 124.5,528.6 126,528.7 127.5,528.8 129,528.8 130.5,528.8 132,528.8 133.5,528.7 135,528.5 136.5,528.2 138,527.9 139.5,527.5 141,527.2 142.5,526.8 144,526.6 145.5,526.4 147,526.3 148.5,526.3 150,526.3 151.5,526.4 153,526.7 154.5,526.9 156,527.4 157.5,527.8 159,528.3 160.5,528.8 162,529.1 163.5,529.4 165,529.5 166.5,529.7 168,529.7 169.5,529.6 171,529.5 172.5,529.3 174,529.1 175.5,528.8 177,528.5 178.5,528.2 180,527.9 181.5,527.6 183,527.3 184.5,527.1 186,526.9 187.5,526.8 189,526.8 190.5,526.8 192,526.9 193.5,527 195,527.2 196.5,527.3 198,527.5 199.5,527.6 201,527.8 202.5,527.9 204,527.9 205.5,528 207,528 208.5,527.9 210,527.9 211.5,527.8 213,527.7 214.5,527.7 216,527.6 217.5,527.6 219,527.5 220.5,527.5 222,527.5 223.5,527.4 225,527.4 226.5,527.4 228,527.4 229.5,527.4 231,527.4 232.5,527.3 234,527 235.5,526.7 237,526.3 238.5,526.3 240,526.5 241.5,526.8 243,527.2 244.5,527.3 246,527.3 247.5,527.3 249,527.6 250.5,528.4 252,529.7 253.5,531.4 255,533.8 256.5,535.6 258,535.7 259.5,534.5 261,532.6 262.5,529.7 264,527.3 265.5,527.1 267,528.5 268.5,531.1 270,533.3 271.5,532.7 273,529.7 274.5,526.6 276,523.3 277.5,519.8 279,517.4 280.5,517.1 282,518.2 283.5,520.3 285,523.4 286.5,525.3 288,524.5 289.5,523.4 291,522.8 292.5,522.7 294,523.4 295.5,525 297,526.8 298.5,528.6 300,530.3 301.5,531.7 303,532.7 304.5,533.5 306,534.1 307.5,534.3 309,534 310.5,533.1 312,531.9 313.5,530.3 315,529.2 316.5,529.1 318,529.6 319.5,530.1 321,530.1 322.5,529.7 324,529.1 325.5,528.4 327,527.6 328.5,526.9 330,526.7 331.5,526.9 333,527.2 334.5,527.3 336,527 337.5,526.5 339,525.9 340.5,525.6 342,525.4 343.5,525.4 345,525.4 346.5,525.4 348,525.4 349.5,525.5 351,525.9 352.5,526.6 354,527.5 355.5,528.5 357,529.2 358.5,529.3 360,529.1 361.5,528.6 363,527.9 364.5,527.4 366,527 367.5,527.3 369,528 370.5,528.9 372,529.8 373.5,530.5 375,530.7 376.5,530.2 378,529.5 379.5,528.8 381,528.3 382.5,528.2 384,528.3 385.5,528.5 387,528.7 388.5,528.8 390,528.9 391.5,528.8 393,528.6 394.5,528.3 396,528 397.5,527.9 399,527.7 400.5,527.2 402,526.4 403.5,525.4 405,524.5 406.5,524 408,523.9 409.5,524.2 411,525.3 412.5,527 414,528.6 415.5,530.3 417,531.4 418.5,531.2 420,530.3 421.5,529 423,527.6 424.5,526.5 426,525.9 427.5,526 429,526.8 430.5,528.2 432,529.8 433.5,531.4 435,532.5 436.5,532.8 438,532.3 439.5,531.3 441,530 442.5,528.9 444,528 445.5,527.3 447,526.8 448.5,526.2 450,525.6 451.5,525.1 453,524.8 454.5,524.6"/>
<polyline points="115.5,529.9 117,530 118.5,530.2 120,530.3 121.5,530.4 123,530.4 124.5,530.4 126,530.4 127.5,530.3 129,530.2 130.5,530.1 132,529.9 133.5,529.7 135,529.6 136.5,529.4 138,529.3 139.5,529.2 141,529.1 142.5,529.2 144,529.4 145.5,529.6 147,529.8 148.5,530 150,530.2 151.5,530.4 153,530.6 154.5,530.7 156,530.9 157.5,531.1 159,531.1 160.5,531.1 162,531 163.5,530.9 165,530.8 166.5,530.6 168,530.5 169.5,530.4 171,530.3 172.5,530.2 174,530.2 175.5,530.1 177,530 178.5,529.9 180,529.8 181.5,529.7 183,529.5 184.5,529.4 186,529.4 187.5,529.4 189,529.4 190.5,529.5 192,529.6 193.5,529.8 195,530 196.5,530.2 198,530.4 199.5,530.6 201,530.7 202.5,530.8 204,530.8 205.5,530.7 207,530.6 208.5,530.3 210,530 211.5,529.8 213,529.5 214.5,529.2 216,528.9 217.5,528.8 219,528.6 220.5,528.6 222,528.6 223.5,528.7 225,528.8 226.5,529 228,529.3 229.5,529.6 231,529.8 232.5,529.9 234,529.8 235.5,529.6 237,529.4 238.5,529.5 240,529.8 241.5,530.1 243,530.3 244.5,530.2 246,530 247.5,530 249,530.3 250.5,531.2 252,532.5 253.5,534.4 255,536.5 256.5,537.2 258,536.5 259.5,535 261,532.7 262.5,530 264,528.8 265.5,529.6 267,531.6 268.5,534.2 270,535 271.5,532.8 273,529.5 274.5,526.4 276,523.1 277.5,520.3 279,519.3 280.5,520.3 282,522.3 283.5,525.4 285,528.7 286.5,529.7 288,528.7 289.5,528 291,527.3 292.5,527 294,527.3 295.5,528 297,528.6 298.5,529.3 300,530.1 301.5,531 303,532.1 304.5,533.3 306,534.6 307.5,535.6 309,536 310.5,535.7 312,534.7 313.5,533.2 315,532.4 316.5,532.4 318,532.7 319.5,532.7 321,532.2 322.5,531.6 324,530.9 325.5,530 327,529 328.5,528.3 330,528.3 331.5,528.6 333,529.1 334.5,529.4 336,529.6 337.5,529.7 339,529.8 340.5,530 342,529.9 343.5,529.6 345,528.9 346.5,528.1 348,527.4 349.5,527 351,527 352.5,527.6 354,528.5 355.5,529.3 357,529.8 358.5,529.7 360,529.3 361.5,528.7 363,528.2 364.5,528 366,528.5 367.5,529.8 369,531.2 370.5,532.9 372,534.3 373.5,535.1 375,535 376.5,534.1 378,532.9 379.5,531.8 381,530.9 382.5,530.5 384,530.4 385.5,530.6 387,530.7 388.5,530.8 390,530.7 391.5,530.5 393,530.2 394.5,529.9 396,529.8 397.5,529.8 399,529.7 400.5,529.2 402,528.4 403.5,527.4 405,526.6 406.5,525.9 408,525.5 409.5,525.8 411,526.9 412.5,528.4 414,530.1 415.5,531.8 417,532.6 418.5,532.6 420,532 421.5,531.2 423,530.4 424.5,530 426,530 427.5,530.7 429,531.9 430.5,533.2 432,534.2 433.5,534.6 435,534.3 436.5,533.1 438,531.5 439.5,529.8 441,528.6 442.5,528.2 444,528.7 445.5,529.7 447,530.7 448.5,531.4 450,531.5 451.5,531.1 453,530.1 454.5,528.6"/>
<polyline points="115.5,573.7 117,573.8 118.5,573.8 120,573.8 121.5,573.8 123,573.8 124.5,573.7 126,573.7 127.5,573.7 129,573.8 130.5,573.8 132,573.9 133.5,574.1 135,574.2 136.5,574.3 138,574.4 139.5,574.4 141,574.3 142.5,574.3 144,574.2 145.5,574.1 147,573.9 148.5,573.7 150,573.5 151.5,573.3 153,573.2 154.5,573.1 156,573.1 157.5,573.2 159,573.4 160.5,573.6 162,573.8 163.5,574 165,574.2 166.5,574.4 168,574.6 169.5,574.7 171,574.7 172.5,574.7 174,574.6 175.5,574.5 177,574.4 178.5,574.2 180,574.1 181.5,573.9 183,573.8 184.5,573.7 186,573.6 187.5,573.6 189,573.7 190.5,573.8 192,573.8 193.5,573.9 195,574 196.5,574 198,574 199.5,574 201,573.9 202.5,573.8 204,573.6 205.5,573.5 207,573.3 208.5,573.2 210,573.1 211.5,573.1 213,573.1 214.5,573.1 216,573.2 217.5,573.4 219,573.5 220.5,573.5 222,573.6 223.5,573.6 225,573.6 226.5,573.5 228,573.4 229.5,573.4 231,573.3 232.5,573.2 234,573 235.5,572.7 237,572.4 238.5,572.4 240,572.7 241.5,573.2 243,573.7 244.5,574.1 246,574.2 247.5,574.3 249,574.5 250.5,575 252,575.9 253.5,577.1 255,578.9 256.5,580.4 258,580.3 259.5,579.1 261,577.4 262.5,575 264,572.9 265.5,572.5 267,574 268.5,576.4 270,578.8 271.5,578.9 273,576.2 274.5,572.8 276,569.5 277.5,566.3 279,563.9 280.5,563.5 282,564.9 283.5,567.1 285,570.3 286.5,572.9 288,572.8 289.5,571.4 291,570.6 292.5,569.9 294,570 295.5,570.9 297,572.3 298.5,573.7 300,575.1 301.5,576.3 303,577.3 304.5,577.9 306,578.5 307.5,578.9 309,578.9 310.5,578.6 312,577.9 313.5,576.9 315,575.9 316.5,575.7 318,576 319.5,576.3 321,576 322.5,575.3 324,574.3 325.5,573.5 327,572.6 328.5,572 330,572 331.5,572.6 333,573.2 334.5,573.8 336,573.9 337.5,573.5 339,573 340.5,572.6 342,572.4 343.5,572.4 345,572.4 346.5,572.4 348,572.5 349.5,572.5 351,572.6 352.5,572.9 354,573.3 355.5,573.7 357,573.9 358.5,573.9 360,573.7 361.5,573.3 363,573 364.5,572.8 366,572.7 367.5,573.1 369,573.9 370.5,574.5 372,575.3 373.5,575.8 375,576.1 376.5,575.8 378,575.4 379.5,575.1 381,575 382.5,575.3 384,575.6 385.5,575.8 387,575.9 388.5,575.6 390,575.1 391.5,574.4 393,573.8 394.5,573.4 396,573.2 397.5,573.4 399,573.8 400.5,574 402,573.8 403.5,573.2 405,572.3 406.5,571.3 408,570.4 409.5,569.7 411,569.7 412.5,570.6 414,571.7 415.5,573.3 417,574.7 418.5,575.6 420,575.7 421.5,575.3 423,574.8 424.5,574.3 426,574 427.5,574.1 429,574.6 430.5,575.6 432,576.7 433.5,577.7 435,578.2 436.5,578.1 438,577.2 439.5,576 441,574.6 442.5,573.5 444,572.9 445.5,572.7 447,572.9 448.5,573.2 450,573.3 451.5,573.3 453,573.1 454.5,572.7"/>
<polyline points="115.5,574.6 117,574.6 118.5,574.5 120,574.5 121.5,574.5 123,574.6 124.5,574.6 126,574.7 127.5,574.8 129,574.8 130.5,575 132,575.1 133.5,575.2 135,575.2 136.5,575.3 138,575.3 139.5,575.3 141,575.2 142.5,575.2 144,575.3 145.5,575.3 147,575.3 148.5,575.3 150,575.3 151.5,575.3 153,575.3 154.5,575.3 156,575.4 157.5,575.5 159,575.6 160.5,575.6 162,575.5 163.5,575.5 165,575.4 166.5,575.3 168,575.2 169.5,575.1 171,575 172.5,574.9 174,574.8 175.5,574.8 177,574.8 178.5,574.8 180,574.8 181.5,574.8 183,574.8 184.5,574.8 186,574.9 187.5,574.9 189,575 190.5,575.1 192,575.2 193.5,575.3 195,575.4 196.5,575.4 198,575.5 199.5,575.5 201,575.4 202.5,575.4 204,575.3 205.5,575.2 207,575.1 208.5,574.9 210,574.8 211.5,574.6 213,574.5 214.5,574.4 216,574.3 217.5,574.2 219,574.1 220.5,574 222,574 223.5,574 225,574 226.5,574.1 228,574.2 229.5,574.4 231,574.5 232.5,574.5 234,574.4 235.5,574.2 237,574.2 238.5,574.3 240,574.7 241.5,575.2 243,575.5 244.5,575.5 246,575.4 247.5,575.4 249,575.6 250.5,576.3 252,577.4 253.5,579 255,580.9 256.5,581.7 258,581.2 259.5,580 261,577.9 262.5,575.2 264,573.5 265.5,573.8 267,575.3 268.5,577.9 270,579.4 271.5,577.8 273,574.8 274.5,571.8 276,568.5 277.5,565.7 279,564.7 280.5,566.1 282,568.7 283.5,572.2 285,575.7 286.5,576.6 288,574.8 289.5,573 291,571.5 292.5,570.7 294,571 295.5,572.1 297,573.2 298.5,574.3 300,575.1 301.5,575.8 303,576.6 304.5,577.6 306,578.8 307.5,580 309,580.5 310.5,580.2 312,579.2 313.5,577.5 315,576.5 316.5,576.5 318,577.1 319.5,577.7 321,577.7 322.5,577.3 324,576.4 325.5,575.3 327,574 328.5,573.4 330,573.6 331.5,574.5 333,575.6 334.5,576.3 336,576.3 337.5,575.8 339,575.1 340.5,574.4 342,574.1 343.5,573.9 345,573.7 346.5,573.3 348,572.7 349.5,571.9 351,571.3 352.5,571.3 354,571.9 355.5,572.9 357,574.1 358.5,575 360,575.5 361.5,575.4 363,574.8 364.5,574.1 366,573.8 367.5,574.3 369,575.2 370.5,576.3 372,577.4 373.5,578 375,577.9 376.5,577.4 378,576.9 379.5,576.7 381,577.2 382.5,577.9 384,578.6 385.5,578.8 387,578.3 388.5,577.2 390,575.9 391.5,574.7 393,573.9 394.5,573.5 396,573.5 397.5,573.7 399,573.9 400.5,573.5 402,572.9 403.5,572.4 405,572.2 406.5,572.3 408,572.5 409.5,572.9 411,573.5 412.5,574 414,574.3 415.5,574.9 417,575.2 418.5,575.3 420,575.3 421.5,575.3 423,575.3 424.5,575.3 426,575.4 427.5,576 429,577 430.5,578.3 432,579.6 433.5,580.4 435,580.3 436.5,579.2 438,577.3 439.5,575.2 441,573.6 442.5,572.8 444,573 445.5,573.7 447,574.5 448.5,574.9 450,574.9 451.5,574.5 453,574.1 454.5,573.7"/>
<polyline points="115.5,576.8 117,577 118.5,577.1 120,577.2 121.5,577.3 123,577.4 124.5,577.4 126,577.3 127.5,577.2 129,577.1 130.5,577 132,576.9 133.5,576.8 135,576.7 136.5,576.6 138,576.5 139.5,576.5 141,576.4 142.5,576.5 144,576.5 145.5,576.6 147,576.6 148.5,576.6 150,576.6 151.5,576.5 153,576.4 154.5,576.3 156,576.3 157.5,576.4 159,576.5 160.5,576.6 162,576.7 163.5,576.8 165,577 166.5,577.2 168,577.4 169.5,577.7 171,577.8 172.5,578 174,578 175.5,578 177,577.8 178.5,577.6 180,577.4 181.5,577 183,576.7 184.5,576.4 186,576.1 187.5,576 189,575.9 190.5,575.9 192,576 193.5,576.2 195,576.4 196.5,576.5 198,576.7 199.5,576.8 201,576.9 202.5,576.9 204,576.9 205.5,576.8 207,576.6 208.5,576.5 210,576.3 211.5,576.2 213,576.1 214.5,576.1 216,576.2 217.5,576.2 219,576.2 220.5,576.3 222,576.3 223.5,576.3 225,576.3 226.5,576.3 228,576.3 229.5,576.2 231,576.1 232.5,576 234,575.7 235.5,575.4 237,575.3 238.5,575.5 240,575.9 241.5,576.4 243,576.9 244.5,577.1 246,577.2 247.5,577.3 249,577.7 250.5,578.4 252,579.5 253.5,581 255,582.8 256.5,583.5 258,582.7 259.5,581.1 261,578.8 262.5,576.1 264,574.7 265.5,575.6 267,577.7 268.5,580.9 270,582.6 271.5,581.2 273,578.1 274.5,574.7 276,570.7 277.5,567 279,565 280.5,565.5 282,567.5 283.5,570.9 285,574.9 286.5,576.7 288,576.2 289.5,575.5 291,574.5 292.5,573.7 294,573.6 295.5,574.3 297,575.3 298.5,576.8 300,578.5 301.5,579.9 303,580.9 304.5,581.5 306,581.6 307.5,581.3 309,580.6 310.5,579.8 312,579.2 313.5,578.7 315,579.1 316.5,580.1 318,581 319.5,580.9 321,579.6 322.5,577.8 324,575.9 325.5,574.2 327,573.2 328.5,573.3 330,574.4 331.5,576 333,577.3 334.5,577.9 336,577.6 337.5,576.7 339,575.8 340.5,575.1 342,575 343.5,575.2 345,575.7 346.5,576.1 348,576.3 349.5,576 351,575.5 352.5,575 354,574.8 355.5,574.9 357,575.4 358.5,576.1 360,576.9 361.5,577.7 363,578 364.5,577.8 366,577.2 367.5,576.8 369,576.2 370.5,576.1 372,576.6 373.5,577.3 375,578.1 376.5,578.8 378,579.2 379.5,579.3 381,579.1 382.5,578.6 384,578 385.5,577.5 387,577.2 388.5,577.2 390,577.5 391.5,577.8 393,578 394.5,577.9 396,577.7 397.5,577.2 399,576.6 400.5,575.6 402,574.7 403.5,574 405,573.6 406.5,573.6 408,573.5 409.5,573.7 411,574.2 412.5,574.9 414,575.5 415.5,576.5 417,577.2 418.5,577.5 420,577.8 421.5,578.1 423,578.3 424.5,578.4 426,578.3 427.5,578.4 429,578.5 430.5,578.7 432,578.8 433.5,579 435,579 436.5,578.7 438,578.2 439.5,577.7 441,577.3 442.5,577.3 444,577.4 445.5,577.7 447,577.8 448.5,577.5 450,577 451.5,576.3 453,575.5 454.5,574.6"/>
<polyline points="115.5,582.5 117,582.4 118.5,582.3 120,582.3 121.5,582.3 123,582.3 124.5,582.3 126,582.4 127.5,582.5 129,582.6 130.5,582.7 132,582.7 133.5,582.7 135,582.6 136.5,582.5 138,582.3 139.5,582 141,581.7 142.5,581.5 144,581.2 145.5,581.1 147,581 148.5,581 150,581 151.5,581.1 153,581.3 154.5,581.5 156,581.8 157.5,582.1 159,582.5 160.5,582.8 162,582.9 163.5,583.1 165,583.1 166.5,583.1 168,583.1 169.5,583 171,582.9 172.5,582.9 174,582.8 175.5,582.8 177,582.8 178.5,582.8 180,582.8 181.5,582.7 183,582.7 184.5,582.6 186,582.5 187.5,582.3 189,582.2 190.5,582 192,581.8 193.5,581.6 195,581.5 196.5,581.3 198,581.2 199.5,581.2 201,581.2 202.5,581.2 204,581.3 205.5,581.5 207,581.6 208.5,581.8 210,581.9 211.5,582 213,582.1 214.5,582.1 216,582.1 217.5,582.1 219,582 220.5,581.9 222,581.8 223.5,581.7 225,581.6 226.5,581.6 228,581.6 229.5,581.7 231,581.8 232.5,581.8 234,581.8 235.5,581.6 237,581.5 238.5,581.5 240,581.6 241.5,581.9 243,582.2 244.5,582.2 246,582.1 247.5,582 249,582 250.5,582.3 252,583.2 253.5,584.4 255,586.3 256.5,587.8 258,588.1 259.5,587.5 261,586.5 262.5,584.7 264,583 265.5,582.6 267,583.6 268.5,585.2 270,586.5 271.5,585.4 273,581.9 274.5,578.3 276,575.2 277.5,572.6 279,571.3 280.5,572.1 282,574.5 283.5,577.5 285,581.3 286.5,584 288,583.6 289.5,582 291,580.4 292.5,578.8 294,577.9 295.5,578 297,578.7 298.5,579.8 300,581.2 301.5,582.8 303,584.3 304.5,585.6 306,586.8 307.5,587.6 309,587.9 310.5,587.6 312,586.8 313.5,585.5 315,584.5 316.5,584.2 318,584.7 319.5,585.2 321,585.1 322.5,584.6 324,583.7 325.5,582.6 327,581.2 328.5,580 330,579.3 331.5,579.2 333,579.5 334.5,580 336,580.5 337.5,580.9 339,581.3 340.5,581.8 342,582.2 343.5,582.5 345,582.4 346.5,582 348,581.3 349.5,580.5 351,580 352.5,579.8 354,580.1 355.5,580.7 357,581.4 358.5,582 360,582.3 361.5,582.4 363,582.3 364.5,582.2 366,582.2 367.5,582.5 369,583.1 370.5,583.8 372,584.5 373.5,585.1 375,585.2 376.5,584.8 378,584.1 379.5,583.2 381,582.5 382.5,582 384,581.7 385.5,581.6 387,581.7 388.5,581.8 390,582.1 391.5,582.3 393,582.6 394.5,582.9 396,583.1 397.5,583.2 399,583.2 400.5,582.8 402,581.9 403.5,580.6 405,579.3 406.5,578.3 408,577.7 409.5,577.6 411,578.4 412.5,580 414,581.7 415.5,583.6 417,585.1 418.5,585.6 420,585.2 421.5,584.3 423,583.2 424.5,582.2 426,581.6 427.5,581.4 429,581.9 430.5,582.9 432,584.2 433.5,585.4 435,586.1 436.5,586.1 438,585.4 439.5,584.2 441,582.7 442.5,581.5 444,580.6 445.5,580.3 447,580.3 448.5,580.5 450,580.7 451.5,581 453,581.2 454.5,581.4"/>
<polyline points="115,596.1 117.2,595.9 120.3,595.5 123.9,595.2 127.5,594.9 130.8,594.9 133.6,595.3 136.3,595.9 138.9,596.6 141.7,597.2 144.8,597.4 148.3,597 152.2,596.3 156.2,595.4 160.2,594.7 164,594.4 167.6,594.8 171,595.7 174.5,596.7 177.9,597.5 181.5,597.9 185.3,597.5 189.2,596.7 193.1,595.6 197,594.8 200.8,594.4 204.4,594.8 207.8,595.6 211.3,596.7 214.7,597.5 218.3,597.9 222.2,597.6 226.3,596.8 230.4,595.8 234.2,594.9 237.5,594.4 240.2,594.3 242.4,594.4 244.3,594.7 246.1,595.2 248,596.1 249.9,597.7 251.7,600 253.5,602.3 255.2,604.2 256.8,604.9 258.3,604 259.8,601.8 261.1,599.2 262.5,596.9 263.8,595.6 265.1,595.8 266.2,597.1 267.4,598.7 268.6,599.7 270,599.6 271.6,597.6 273.4,594.3 275.3,590.6 277.1,587.3 278.7,585.6 280.2,585.7 281.5,587.1 282.8,589.1 284,591.1 285,592.6 285.8,593.5 286.4,594.3 287,594.9 287.6,595.3 288.5,595.6 289.6,595.5 290.8,595 292.2,594.4 293.7,594.1 295.5,594.4 297.7,595.7 300.2,597.6 302.9,599.8 305.5,601.7 307.8,602.6 309.7,602.4 311.3,601.4 312.8,600 314.5,598.6 316.5,597.4 319,596.4 321.9,595.4 324.9,594.4 327.8,593.8 330.5,593.5 332.9,593.9 335.1,594.9 337.2,596 339.1,597 341,597.4 342.7,597.1 344.3,596.2 345.9,595.1 347.4,594.2 348.9,593.9 350.5,594.3 352,595.3 353.5,596.5 355.1,597.5 356.8,597.9 358.6,597.4 360.6,596.4 362.5,595.1 364.5,594.2 366.4,593.9 368.3,594.7 370.1,596.3 371.9,598.1 373.6,599.5 375.2,600.2 376.6,599.6 377.8,598.2 378.9,596.4 380.1,595 381.3,594.4 382.6,595.1 384,596.6 385.4,598.4 386.8,599.9 388.3,600.5 389.9,599.8 391.5,598.3 393.1,596.4 394.7,594.7 396.2,593.9 397.5,594.2 398.7,595.3 399.8,596.6 401,597.6 402.3,597.9 403.7,597 405.2,595.3 406.8,593.4 408.5,591.7 410.2,590.9 412,591.1 413.9,591.9 415.9,593.2 417.9,594.5 419.8,595.6 421.7,596.6 423.6,597.7 425.4,598.8 427.4,599.7 429.4,600.2 431.5,600.4 433.7,600.4 436,600.1 438.3,599.6 440.8,598.8 443.7,597.5 447,595.7 450.2,593.8 453,592.1 455,590.9"/>
<polyline points="115.5,632.6 117,632.8 118.5,632.9 120,633.1 121.5,633.2 123,633.4 124.5,633.4 126,633.5 127.5,633.6 129,633.6 130.5,633.7 132,633.8 133.5,633.9 135,634.1 136.5,634.2 138,634.2 139.5,634.2 141,634.2 142.5,634.1 144,633.9 145.5,633.7 147,633.5 148.5,633.3 150,633 151.5,632.8 153,632.6 154.5,632.6 156,632.7 157.5,632.9 159,633.1 160.5,633.3 162,633.4 163.5,633.5 165,633.6 166.5,633.6 168,633.6 169.5,633.6 171,633.6 172.5,633.6 174,633.6 175.5,633.7 177,633.9 178.5,634.1 180,634.2 181.5,634.3 183,634.4 184.5,634.4 186,634.4 187.5,634.3 189,634.1 190.5,633.9 192,633.7 193.5,633.5 195,633.3 196.5,633.1 198,633 199.5,633 201,633 202.5,633 204,632.9 205.5,632.8 207,632.7 208.5,632.6 210,632.4 211.5,632.3 213,632.2 214.5,632.1 216,632.2 217.5,632.2 219,632.4 220.5,632.6 222,632.8 223.5,633.1 225,633.3 226.5,633.5 228,633.7 229.5,633.8 231,633.8 232.5,633.7 234,633.5 235.5,633.1 237,632.8 238.5,632.8 240,633 241.5,633.4 243,633.7 244.5,633.8 246,633.7 247.5,633.6 249,633.7 250.5,634.2 252,635.1 253.5,636.4 255,638.3 256.5,639.5 258,639 259.5,637.8 261,636 262.5,633.7 264,632.1 265.5,632.7 267,634.6 268.5,637.4 270,639.2 271.5,637.9 273,634.4 274.5,630.8 276,627.2 277.5,624.1 279,622.5 280.5,623.2 282,625.5 283.5,628.6 285,632.4 286.5,634.6 288,633.7 289.5,632.4 291,631.1 292.5,630 294,629.6 295.5,630.1 297,630.8 298.5,631.8 300,633 301.5,634.1 303,635.2 304.5,636.2 306,637.2 307.5,638 309,638.4 310.5,638.2 312,637.8 313.5,636.8 315,636.2 316.5,636.5 318,637 319.5,637.2 321,636.7 322.5,635.7 324,634.7 325.5,633.6 327,632.6 328.5,632 330,632 331.5,632.5 333,633 334.5,633.4 336,633.2 337.5,632.7 339,632.1 340.5,631.6 342,631.4 343.5,631.2 345,631.2 346.5,631.1 348,631.2 349.5,631.3 351,631.6 352.5,632 354,632.6 355.5,633.2 357,633.4 358.5,633.3 360,633 361.5,632.6 363,632.4 364.5,632.3 366,632.6 367.5,633.5 369,634.7 370.5,635.8 372,636.8 373.5,637.4 375,637.4 376.5,636.9 378,636.1 379.5,635.4 381,634.8 382.5,634.6 384,634.4 385.5,634.2 387,633.9 388.5,633.4 390,632.8 391.5,632.3 393,631.9 394.5,631.8 396,632.1 397.5,632.7 399,633.4 400.5,633.7 402,633.5 403.5,632.8 405,632 406.5,631.1 408,630.3 409.5,629.9 411,630.3 412.5,631.4 414,632.7 415.5,634.3 417,635.6 418.5,635.9 420,635.6 421.5,635 423,634.3 424.5,633.7 426,633.4 427.5,633.6 429,634.3 430.5,635.3 432,636.3 433.5,637.1 435,637.4 436.5,636.9 438,635.8 439.5,634.3 441,632.9 442.5,631.9 444,631.5 445.5,631.6 447,632 448.5,632.4 450,632.6 451.5,632.8 453,632.9 454.5,632.8"/>
<polyline points="115.5,636.4 117,636.4 118.5,636.3 120,636.3 121.5,636.3 123,636.4 124.5,636.5 126,636.5 127.5,636.6 129,636.7 130.5,636.8 132,636.9 133.5,636.9 135,636.9 136.5,636.9 138,636.8 139.5,636.7 141,636.5 142.5,636.3 144,636.2 145.5,636.2 147,636.1 148.5,636.1 150,636.2 151.5,636.2 153,636.3 154.5,636.5 156,636.7 157.5,637 159,637.4 160.5,637.7 162,637.9 163.5,638 165,638.1 166.5,638.2 168,638.2 169.5,638.1 171,637.9 172.5,637.7 174,637.5 175.5,637.2 177,636.9 178.5,636.6 180,636.4 181.5,636.1 183,635.8 184.5,635.7 186,635.5 187.5,635.5 189,635.5 190.5,635.6 192,635.8 193.5,636 195,636.2 196.5,636.5 198,636.8 199.5,637 201,637.2 202.5,637.4 204,637.5 205.5,637.5 207,637.5 208.5,637.4 210,637.3 211.5,637.1 213,636.9 214.5,636.7 216,636.4 217.5,636.2 219,636 220.5,635.9 222,635.7 223.5,635.7 225,635.6 226.5,635.6 228,635.7 229.5,635.9 231,636.1 232.5,636.2 234,636.3 235.5,636.2 237,636.1 238.5,636.1 240,636.3 241.5,636.6 243,636.9 244.5,637.1 246,637 247.5,636.9 249,636.8 250.5,636.9 252,637.5 253.5,638.5 255,640 256.5,641.8 258,642.4 259.5,641.7 261,640.2 262.5,638.1 264,635.8 265.5,635.1 267,636.5 268.5,639 270,642.1 271.5,643.2 273,641.1 274.5,637.4 276,633.8 277.5,630.3 279,627.7 280.5,626.9 282,628.3 283.5,630.5 285,633.4 286.5,636 288,636.5 289.5,634.9 291,633.9 292.5,633.1 294,633 295.5,633.7 297,634.7 298.5,635.6 300,636.4 301.5,637.1 303,637.9 304.5,638.9 306,640.1 307.5,641.2 309,642 310.5,641.9 312,641 313.5,639.5 315,637.8 316.5,637 318,637.5 319.5,638.6 321,639.8 322.5,640.3 324,640.2 325.5,639.4 327,637.9 328.5,636 330,634.6 331.5,634.2 333,634.5 334.5,635.4 336,636.3 337.5,637 339,637.1 340.5,637 342,636.6 343.5,636.2 345,635.7 346.5,635.4 348,635.2 349.5,635 351,634.9 352.5,634.8 354,635 355.5,635.3 357,635.7 358.5,636.1 360,636.4 361.5,636.6 363,636.5 364.5,636.1 366,635.4 367.5,634.8 369,634.8 370.5,635.3 372,636.5 373.5,638.2 375,640 376.5,641.2 378,641.7 379.5,641.2 381,640.2 382.5,638.9 384,637.7 385.5,636.9 387,636.6 388.5,636.8 390,637.1 391.5,637.5 393,637.6 394.5,637.4 396,637 397.5,636.7 399,636.7 400.5,636.7 402,636.6 403.5,636.2 405,635.6 406.5,634.7 408,633.8 409.5,632.9 411,632.7 412.5,633.3 414,634.6 415.5,636.1 417,637.7 418.5,638.3 420,638 421.5,637 423,635.9 424.5,635.1 426,635 427.5,635.6 429,637.1 430.5,638.9 432,640.6 433.5,641.6 435,641.8 436.5,641.1 438,639.9 439.5,638.7 441,637.7 442.5,637.3 444,637.4 445.5,637.8 447,637.9 448.5,637.6 450,636.8 451.5,635.7 453,634.7 454.5,634"/>
<polyline points="115.5,639.3 117,639.2 118.5,639.1 120,639 121.5,639 123,638.9 124.5,638.9 126,639 127.5,639.1 129,639.3 130.5,639.4 132,639.6 133.5,639.8 135,639.9 136.5,640 138,640 139.5,640 141,639.9 142.5,639.8 144,639.7 145.5,639.6 147,639.5 148.5,639.3 150,639.2 151.5,639.1 153,639 154.5,638.9 156,639 157.5,639.2 159,639.3 160.5,639.4 162,639.6 163.5,639.7 165,639.8 166.5,639.9 168,640.1 169.5,640.1 171,640.2 172.5,640.2 174,640.2 175.5,640.1 177,640 178.5,639.8 180,639.7 181.5,639.5 183,639.2 184.5,639.1 186,639 187.5,638.9 189,638.9 190.5,638.9 192,639 193.5,639.1 195,639.3 196.5,639.5 198,639.7 199.5,639.8 201,640 202.5,640 204,640.1 205.5,640 207,639.9 208.5,639.7 210,639.5 211.5,639.3 213,639 214.5,638.7 216,638.5 217.5,638.2 219,638 220.5,637.8 222,637.7 223.5,637.7 225,637.8 226.5,637.9 228,638.2 229.5,638.5 231,638.7 232.5,638.9 234,638.9 235.5,638.9 237,639 238.5,639.4 240,639.9 241.5,640.3 243,640.5 244.5,640.4 246,640.2 247.5,640.2 249,640.4 250.5,641.2 252,642.3 253.5,644.2 255,645.9 256.5,646.1 258,645.1 259.5,643.4 261,640.9 262.5,638.5 264,638 265.5,639.5 267,642.1 268.5,644.9 270,645.2 271.5,642.3 273,638.4 274.5,634.2 276,630 277.5,627.1 279,626.7 280.5,628.7 282,631.9 283.5,636.4 285,640.1 286.5,640.7 288,639.2 289.5,637.7 291,636 292.5,635 294,635.1 295.5,636.1 297,637.6 298.5,639.5 300,641.5 301.5,643.1 303,644.4 304.5,645.1 306,645.5 307.5,645.4 309,644.8 310.5,644 312,642.9 313.5,641.9 315,641.8 316.5,642.1 318,642.2 319.5,641.5 321,640.3 322.5,638.9 324,637.9 325.5,637.2 327,637 328.5,637.6 330,638.7 331.5,639.8 333,640.5 334.5,640.4 336,639.6 337.5,638.6 339,637.8 340.5,637.5 342,637.6 343.5,638 345,638.4 346.5,638.6 348,638.5 349.5,638.2 351,637.9 352.5,637.6 354,637.7 355.5,637.9 357,638.3 358.5,638.7 360,639.2 361.5,639.5 363,639.7 364.5,639.6 366,639.7 367.5,640 369,640.2 370.5,640.8 372,641.6 373.5,642.2 375,642.5 376.5,642.5 378,642.2 379.5,641.7 381,641.1 382.5,640.4 384,639.7 385.5,639.2 387,638.9 388.5,638.9 390,639.1 391.5,639.4 393,639.7 394.5,639.9 396,639.9 397.5,639.8 399,639.4 400.5,638.6 402,637.7 403.5,637.1 405,636.8 406.5,636.8 408,636.8 409.5,637.3 411,638.1 412.5,638.6 414,639.2 415.5,639.7 417,639.7 418.5,639.5 420,639.4 421.5,639.5 423,639.9 424.5,640.4 426,641 427.5,641.6 429,642.2 430.5,642.8 432,643.1 433.5,643.2 435,642.9 436.5,642.2 438,641.3 439.5,640.3 441,639.4 442.5,638.7 444,638.3 445.5,638 447,637.9 448.5,637.7 450,637.7 451.5,637.9 453,638.2 454.5,638.3"/>
<polyline points="115.5,641.3 117,641.2 118.5,641.1 120,641.1 121.5,641.1 123,641.3 124.5,641.4 126,641.6 127.5,641.7 129,641.7 130.5,641.7 132,641.7 133.5,641.5 135,641.4 136.5,641.2 138,641 139.5,640.9 141,640.9 142.5,641 144,641.2 145.5,641.4 147,641.6 148.5,641.7 150,641.8 151.5,641.8 153,641.7 154.5,641.6 156,641.6 157.5,641.6 159,641.5 160.5,641.5 162,641.5 163.5,641.6 165,641.8 166.5,641.9 168,642 169.5,642.1 171,642.1 172.5,642 174,641.8 175.5,641.6 177,641.4 178.5,641.2 180,641 181.5,640.9 183,640.9 184.5,641 186,641.2 187.5,641.4 189,641.7 190.5,641.9 192,642 193.5,642.1 195,642 196.5,641.9 198,641.7 199.5,641.5 201,641.3 202.5,641.2 204,641.1 205.5,641.1 207,641.1 208.5,641.2 210,641.2 211.5,641.2 213,641.2 214.5,641.1 216,640.9 217.5,640.7 219,640.4 220.5,640.2 222,640.1 223.5,640 225,640.1 226.5,640.2 228,640.5 229.5,640.8 231,641.1 232.5,641.3 234,641.3 235.5,641.2 237,641.1 238.5,641.2 240,641.5 241.5,641.7 243,641.8 244.5,641.8 246,641.7 247.5,641.8 249,642.3 250.5,643.1 252,644.3 253.5,646 255,647.6 256.5,647.8 258,646.8 259.5,645.2 261,642.8 262.5,640.4 264,639.6 265.5,640.6 267,642.5 268.5,644.8 270,645.1 271.5,642.8 273,639.6 274.5,636.7 276,633.9 277.5,632.2 279,632.3 280.5,634.1 282,636.5 283.5,639.6 285,642.1 286.5,642.2 288,640.5 289.5,639.3 291,638.3 292.5,638 294,638.6 295.5,639.6 297,640.6 298.5,641.6 300,642.4 301.5,643.2 303,643.9 304.5,644.8 306,645.7 307.5,646.4 309,646.6 310.5,646.1 312,645 313.5,643.5 315,642.7 316.5,642.5 318,642.7 319.5,642.7 321,642.5 322.5,642.3 324,642.1 325.5,641.6 327,640.8 328.5,640.3 330,640.2 331.5,640.4 333,640.7 334.5,641 336,641.2 337.5,641.4 339,641.5 340.5,641.6 342,641.4 343.5,640.9 345,640.3 346.5,639.7 348,639.2 349.5,639.1 351,639.4 352.5,639.9 354,640.5 355.5,641 357,641 358.5,640.7 360,640.4 361.5,640.1 363,640.1 364.5,640.4 366,641.1 367.5,642.2 369,643.1 370.5,643.8 372,644.2 373.5,644.2 375,643.8 376.5,643.2 378,642.8 379.5,642.6 381,642.7 382.5,642.9 384,642.9 385.5,642.8 387,642.5 388.5,642.1 390,641.8 391.5,641.6 393,641.6 394.5,641.7 396,641.9 397.5,642 399,641.6 400.5,640.7 402,639.6 403.5,638.4 405,637.6 406.5,637.2 408,637.2 409.5,637.9 411,639.1 412.5,640.4 414,641.7 415.5,642.8 417,643.3 418.5,643.3 420,643.1 421.5,642.9 423,642.7 424.5,642.6 426,642.5 427.5,642.5 429,642.7 430.5,643.1 432,643.5 433.5,643.8 435,644 436.5,643.9 438,643.5 439.5,642.9 441,642.2 442.5,641.7 444,641.3 445.5,641 447,640.7 448.5,640.5 450,640.2 451.5,640.1 453,639.8 454.5,639.5"/>
<polyline points="115.5,643.2 117,643.1 118.5,643 120,643 121.5,643.1 123,643.3 124.5,643.5 126,643.9 127.5,644.2 129,644.4 130.5,644.6 132,644.6 133.5,644.5 135,644.3 136.5,643.9 138,643.6 139.5,643.2 141,642.8 142.5,642.6 144,642.5 145.5,642.6 147,642.8 148.5,643 150,643.2 151.5,643.3 153,643.4 154.5,643.3 156,643.3 157.5,643.3 159,643.4 160.5,643.4 162,643.5 163.5,643.6 165,643.7 166.5,643.9 168,644.1 169.5,644.2 171,644.3 172.5,644.2 174,644.1 175.5,643.9 177,643.7 178.5,643.5 180,643.3 181.5,643.3 183,643.3 184.5,643.4 186,643.6 187.5,643.8 189,644 190.5,644.1 192,644.2 193.5,644.1 195,643.9 196.5,643.6 198,643.3 199.5,643 201,642.8 202.5,642.7 204,642.6 205.5,642.7 207,642.8 208.5,642.9 210,643.1 211.5,643.1 213,643.1 214.5,643.1 216,642.9 217.5,642.8 219,642.6 220.5,642.5 222,642.4 223.5,642.4 225,642.5 226.5,642.7 228,643 229.5,643.2 231,643.4 232.5,643.4 234,643.3 235.5,643 237,642.7 238.5,642.4 240,642.4 241.5,642.7 243,643.2 244.5,643.6 246,643.9 247.5,644.1 249,644.3 250.5,644.8 252,645.6 253.5,646.6 255,648.1 256.5,649.7 258,650 259.5,648.9 261,647.2 262.5,644.9 264,642.3 265.5,641.2 267,642.2 268.5,644.2 270,646.8 271.5,647.7 273,645.8 274.5,642.9 276,640.3 277.5,637.6 279,635.3 280.5,634.2 282,634.8 283.5,636.1 285,638.4 286.5,641 288,642 289.5,641.5 291,641.7 292.5,642 294,642.5 295.5,643.1 297,643.5 298.5,643.4 300,643.2 301.5,643.1 303,643.4 304.5,644.2 306,645.5 307.5,647.1 309,648.5 310.5,649.1 312,648.9 313.5,648 315,646.5 316.5,645.6 318,645.4 319.5,645.4 321,645.1 322.5,644.3 324,643.4 325.5,642.6 327,642.1 328.5,641.9 330,642.3 331.5,643.4 333,644.4 334.5,645 336,644.6 337.5,643.5 339,642 340.5,640.8 342,640.2 343.5,640.5 345,641.5 346.5,642.7 348,643.8 349.5,644.3 351,644.2 352.5,643.7 354,643 355.5,642.4 357,641.9 358.5,641.7 360,641.6 361.5,641.6 363,641.8 364.5,641.9 366,642.1 367.5,642.5 369,643.4 370.5,644.4 372,645.6 373.5,646.5 375,646.8 376.5,646.5 378,645.6 379.5,644.5 381,643.8 382.5,643.7 384,644.2 385.5,645.1 387,645.9 388.5,646.3 390,646.1 391.5,645.2 393,644 394.5,642.7 396,641.8 397.5,641.6 399,642.1 400.5,642.9 402,643.5 403.5,643.4 405,642.8 406.5,641.8 408,640.7 409.5,639.7 411,639.4 412.5,640.1 414,641.4 415.5,642.9 417,644.4 418.5,645.1 420,644.9 421.5,644.3 423,643.7 424.5,643.3 426,643.3 427.5,643.7 429,644.5 430.5,645.3 432,646 433.5,646.4 435,646.5 436.5,646.3 438,646 439.5,645.5 441,645 442.5,644.7 444,644.4 445.5,644.1 447,643.8 448.5,643.3 450,642.8 451.5,642.3 453,642.1 454.5,641.9"/>
<polyline points="115,651.1 116.2,651.2 117.8,651.4 119.8,651.6 122.3,651.7 125.5,651.7 129.7,651.5 134.8,651.2 140.3,650.9 145.5,650.6 150,650.6 153.4,650.9 156.3,651.5 158.8,652.2 161.3,652.7 164,652.9 167,652.6 170.1,652 173.3,651.3 176.5,650.6 179.8,650.3 183.1,650.4 186.4,650.7 189.8,651.1 193.4,651.5 197.3,651.7 201.6,651.6 206.3,651.3 211,650.9 215.7,650.5 220,650.3 223.9,650.2 227.7,650.2 231.3,650.3 234.5,650.4 237.5,650.6 240.1,650.8 242.3,651 244.3,651.3 246.1,651.7 248,652.4 249.9,653.6 251.7,655.3 253.4,657 255.1,658.3 256.8,658.7 258.5,657.7 260.1,655.7 261.7,653.3 263.2,651.2 264.7,650.3 266,651.1 267.1,653.1 268.3,655.4 269.4,657.1 270.8,657.3 272.4,655.3 274.3,651.7 276.2,647.5 278,643.8 279.6,641.5 280.9,640.9 282.1,641.2 283.2,642.2 284.2,643.6 285,645 285.6,646.8 286,649.2 286.3,651.7 286.8,653.7 287.6,654.6 288.8,653.9 290.3,651.9 292,649.4 293.7,647.5 295.5,646.8 297.3,648 299.3,650.4 301.2,653.3 303.2,655.9 305.1,657.3 307,657.3 308.9,656.3 310.7,654.9 312.4,653.6 313.9,652.9 315.1,653 316.1,653.5 317,654.1 317.9,654.6 319.1,654.6 320.5,653.9 322,652.7 323.6,651.3 325.3,650.1 327,649.4 328.7,649.3 330.5,649.5 332.2,650 334,650.6 335.8,651.1 337.6,651.7 339.3,652.5 341.1,653.3 342.8,653.8 344.5,653.8 346.1,652.9 347.7,651.3 349.2,649.6 350.8,648.1 352.4,647.6 354.1,648.4 356,650 357.8,652 359.6,653.8 361.2,654.6 362.6,654.2 363.7,652.9 364.8,651.3 366,649.9 367.3,649.4 368.9,650.1 370.6,651.5 372.4,653.3 374.2,654.8 376,655.5 377.8,655.2 379.5,654.2 381.3,652.9 383,651.7 384.8,651.1 386.5,651.3 388.3,652.1 390,653 391.8,653.7 393.5,653.8 395.3,653 397,651.5 398.8,649.9 400.5,648.4 402.3,647.6 404,647.6 405.7,648 407.4,648.8 409.1,649.6 411,650.3 413.1,650.9 415.4,651.4 417.7,652 419.8,652.5 421.6,652.9 422.9,653.2 423.8,653.6 424.6,653.8 425.5,653.9 426.8,653.8 428.6,653.5 430.7,652.9 433,652.2 435.2,651.6 437.3,651.1 439.2,650.9 440.9,650.8 442.7,650.7 444.4,650.7 446.1,650.6 448,650.5 450.1,650.3 452.1,650.1 453.8,650 455,649.9"/>
<polyline points="115,704.3 117.4,704.2 120.8,704.2 124.8,704.1 128.8,703.9 132.5,703.8 135.8,703.6 138.9,703.4 142.1,703.1 145.2,702.9 148.3,702.9 151.4,703 154.6,703.3 157.7,703.7 160.9,704 164,704.3 167.1,704.6 170.2,704.8 173.4,705.1 176.5,705.2 179.8,705.2 183.1,704.9 186.4,704.4 189.8,703.8 193.4,703.3 197.3,702.9 201.6,702.8 206.3,702.8 211,702.8 215.7,702.9 220,702.9 223.9,702.8 227.7,702.7 231.3,702.5 234.5,702.4 237.5,702.4 240.1,702.4 242.3,702.4 244.3,702.5 246.1,702.8 248,703.4 249.9,704.7 251.7,706.5 253.5,708.4 255.2,710 256.8,710.8 258.3,710.6 259.8,709.6 261.1,708.3 262.5,707.1 263.8,706.4 265.1,706.6 266.2,707.5 267.4,708.4 268.6,708.8 270,708.1 271.6,705.8 273.4,702.2 275.3,698.1 277.1,694.6 278.7,692.4 280.2,691.9 281.5,692.4 282.8,693.5 284,694.9 285,695.9 285.8,696.7 286.3,697.5 286.9,698.4 287.5,699.2 288.5,699.9 289.9,700.3 291.6,700.6 293.5,700.8 295.4,701.3 297.3,702.2 299.2,704 301.2,706.4 303.1,709 305.1,711.1 306.9,712.1 308.6,711.5 310.3,709.9 311.9,707.7 313.4,705.7 314.8,704.6 316.1,704.7 317.3,705.4 318.4,706.5 319.6,707.3 320.9,707.4 322.4,706.4 323.9,704.7 325.5,702.7 327.1,701.1 328.8,700.4 330.5,700.9 332.3,702.4 334,704.2 335.8,705.7 337.5,706.4 339,706.1 340.4,705.1 341.8,703.8 343.4,702.5 345.4,701.6 348,701 351,700.4 354.3,700.1 357.4,700 360.3,700.4 362.9,701.5 365.3,703.2 367.6,705.1 369.7,706.8 371.7,707.8 373.5,708 375.2,707.6 376.7,707 378.2,706.3 379.5,706 380.7,706.1 381.7,706.4 382.7,706.8 383.7,707 384.8,706.9 386.1,706.3 387.4,705.3 388.9,704.1 390.3,703.1 391.8,702.5 393.3,702.4 394.9,702.8 396.4,703.3 398.1,703.6 399.7,703.4 401.4,702.4 403,700.9 404.8,699.2 406.5,697.9 408.4,697.6 410.5,698.6 412.7,700.6 414.9,703 417.1,705.1 418.9,706.4 420.4,706.6 421.5,706 422.6,705.2 423.7,704.5 425,704.3 426.6,704.9 428.2,706 430,707.3 431.9,708.3 433.8,708.6 435.8,708 437.9,706.8 440,705.3 442.2,703.9 444.3,702.9 446.6,702.3 449.1,702 451.5,701.8 453.5,701.7 455,701.6"/>
<polyline points="115.5,715.4 117,715.4 118.5,715.4 120,715.4 121.5,715.4 123,715.5 124.5,715.5 126,715.5 127.5,715.5 129,715.5 130.5,715.5 132,715.5 133.5,715.5 135,715.5 136.5,715.4 138,715.3 139.5,715.2 141,715.1 142.5,715.1 144,715 145.5,715 147,715.1 148.5,715.1 150,715.2 151.5,715.3 153,715.4 154.5,715.5 156,715.7 157.5,715.9 159,716.1 160.5,716.2 162,716.3 163.5,716.3 165,716.3 166.5,716.2 168,716.1 169.5,716 171,715.9 172.5,715.8 174,715.7 175.5,715.6 177,715.5 178.5,715.4 180,715.3 181.5,715.2 183,715.2 184.5,715.1 186,715.1 187.5,715.1 189,715.1 190.5,715.2 192,715.3 193.5,715.4 195,715.4 196.5,715.5 198,715.6 199.5,715.6 201,715.6 202.5,715.6 204,715.6 205.5,715.5 207,715.4 208.5,715.3 210,715.2 211.5,715.1 213,715 214.5,714.9 216,714.8 217.5,714.7 219,714.7 220.5,714.6 222,714.6 223.5,714.6 225,714.6 226.5,714.7 228,714.8 229.5,714.9 231,715 232.5,715.1 234,715.1 235.5,714.9 237,714.7 238.5,714.7 240,714.9 241.5,715.2 243,715.6 244.5,715.8 246,715.7 247.5,715.6 249,715.6 250.5,715.9 252,716.7 253.5,717.9 255,719.7 256.5,721.6 258,722 259.5,721.1 261,719.5 262.5,716.8 264,714 265.5,712.8 267,713.6 268.5,715.8 270,718.6 271.5,719.8 273,718.4 274.5,716.4 276,714.3 277.5,711.4 279,708.8 280.5,707.5 282,707.7 283.5,708.6 285,710.6 286.5,712.5 288,712.4 289.5,711.2 291,710.9 292.5,711.1 294,712 295.5,713.5 297,715.2 298.5,716.5 300,717.4 301.5,717.9 303,718 304.5,718 306,718.1 307.5,718.3 309,718.6 310.5,718.8 312,718.9 313.5,718.8 315,718.5 316.5,718.9 318,719.5 319.5,719.8 321,719.3 322.5,718 324,716.3 325.5,714.7 327,713.3 328.5,712.3 330,712.3 331.5,713.1 333,714.4 334.5,715.7 336,716.6 337.5,716.9 339,716.7 340.5,716.1 342,715.3 343.5,714.4 345,713.4 346.5,712.5 348,711.9 349.5,711.6 351,711.9 352.5,712.8 354,714.2 355.5,715.7 357,716.9 358.5,717.6 360,717.4 361.5,716.7 363,715.7 364.5,714.5 366,713.6 367.5,713.2 369,713.7 370.5,714.5 372,715.8 373.5,717 375,718 376.5,718.3 378,718.1 379.5,717.6 381,717.1 382.5,716.7 384,716.5 385.5,716.4 387,716.4 388.5,716.4 390,716.5 391.5,716.6 393,716.6 394.5,716.6 396,716.4 397.5,716.3 399,716.1 400.5,715.6 402,714.7 403.5,713.6 405,712.5 406.5,711.6 408,711.2 409.5,711.2 411,711.9 412.5,713.3 414,714.8 415.5,716.3 417,717.5 418.5,717.8 420,717.2 421.5,716.2 423,715.2 424.5,714.4 426,714 427.5,714.2 429,715.1 430.5,716.4 432,717.9 433.5,719.2 435,720 436.5,720 438,719.3 439.5,718.1 441,716.8 442.5,715.7 444,715.1 445.5,715 447,715.2 448.5,715.5 450,715.6 451.5,715.4 453,715.1 454.5,714.6"/>
<polyline points="115.5,717.4 117,717.5 118.5,717.6 120,717.8 121.5,717.9 123,717.9 124.5,718 126,718 127.5,718 129,718 130.5,718 132,717.9 133.5,717.9 135,717.8 136.5,717.7 138,717.5 139.5,717.3 141,717.2 142.5,717 144,717 145.5,716.9 147,716.9 148.5,717 150,717 151.5,717 153,717.1 154.5,717.2 156,717.4 157.5,717.6 159,717.8 160.5,717.9 162,718 163.5,718 165,718 166.5,718 168,718 169.5,718 171,717.9 172.5,717.9 174,717.9 175.5,717.9 177,717.8 178.5,717.8 180,717.7 181.5,717.7 183,717.6 184.5,717.5 186,717.4 187.5,717.4 189,717.3 190.5,717.3 192,717.3 193.5,717.3 195,717.3 196.5,717.3 198,717.3 199.5,717.4 201,717.4 202.5,717.4 204,717.4 205.5,717.4 207,717.4 208.5,717.3 210,717.3 211.5,717.2 213,717.1 214.5,717.1 216,717 217.5,716.9 219,716.8 220.5,716.6 222,716.5 223.5,716.4 225,716.3 226.5,716.2 228,716.2 229.5,716.3 231,716.4 232.5,716.4 234,716.2 235.5,716 237,715.9 238.5,716.1 240,716.6 241.5,717.2 243,717.7 244.5,718 246,718.1 247.5,718.1 249,718.4 250.5,719.2 252,720.5 253.5,722.2 255,724.7 256.5,726.1 258,725.7 259.5,724.3 261,722.1 262.5,719 264,716.7 265.5,716.8 267,718.5 268.5,721.3 270,723.2 271.5,721.6 273,717.5 274.5,713.3 276,709 277.5,705.2 279,703.1 280.5,703.7 282,706.2 283.5,710 285,714.8 286.5,718 288,717.7 289.5,716.8 291,715.9 292.5,715 294,714.8 295.5,715.2 297,715.8 298.5,716.5 300,717.5 301.5,718.5 303,719.5 304.5,720.6 306,721.7 307.5,722.6 309,723 310.5,722.7 312,722.1 313.5,720.9 315,720.2 316.5,720.7 318,721.8 319.5,722.5 321,722.4 322.5,721.6 324,720.3 325.5,718.6 327,716.6 328.5,714.8 330,713.8 331.5,713.6 333,713.9 334.5,714.5 336,715.1 337.5,715.7 339,716.4 340.5,717.1 342,717.6 343.5,717.8 345,717.6 346.5,716.9 348,716.1 349.5,715.5 351,715.1 352.5,715.4 354,716.1 355.5,716.9 357,717.4 358.5,717.4 360,716.8 361.5,715.9 363,715 364.5,714.3 366,714.1 367.5,715.1 369,716.8 370.5,718.9 372,721.2 373.5,723 375,723.8 376.5,723.6 378,722.5 379.5,721 381,719.5 382.5,718.3 384,717.5 385.5,717.1 387,717 388.5,717.2 390,717.5 391.5,717.8 393,718 394.5,718 396,717.8 397.5,717.7 399,717.4 400.5,716.9 402,715.9 403.5,715 405,714.3 406.5,713.9 408,713.6 409.5,713.7 411,714.4 412.5,715.4 414,716.4 415.5,717.5 417,718.3 418.5,718.3 420,718 421.5,717.8 423,717.8 424.5,718.1 426,718.6 427.5,719.4 429,720.3 430.5,721.1 432,721.6 433.5,721.6 435,721.2 436.5,720.3 438,719.1 439.5,718.1 441,717.4 442.5,717.3 444,717.7 445.5,718.3 447,718.7 448.5,718.5 450,717.8 451.5,716.8 453,715.7 454.5,714.7"/>
<polyline points="115.5,720.5 117,720.4 118.5,720.4 120,720.4 121.5,720.5 123,720.6 124.5,720.7 126,720.8 127.5,720.9 129,721 130.5,721.1 132,721.2 133.5,721.2 135,721.1 136.5,721 138,720.8 139.5,720.6 141,720.3 142.5,720.1 144,719.9 145.5,719.8 147,719.8 148.5,719.7 150,719.8 151.5,719.8 153,719.9 154.5,720.1 156,720.3 157.5,720.5 159,720.8 160.5,721 162,721.1 163.5,721.1 165,721.2 166.5,721.2 168,721.2 169.5,721.2 171,721.2 172.5,721.2 174,721.2 175.5,721.2 177,721.2 178.5,721.1 180,721 181.5,720.9 183,720.8 184.5,720.6 186,720.4 187.5,720.3 189,720.1 190.5,720 192,720 193.5,719.9 195,720 196.5,720 198,720.1 199.5,720.3 201,720.4 202.5,720.5 204,720.6 205.5,720.7 207,720.7 208.5,720.6 210,720.5 211.5,720.4 213,720.3 214.5,720.1 216,720 217.5,719.9 219,719.8 220.5,719.7 222,719.7 223.5,719.7 225,719.8 226.5,719.9 228,720 229.5,720.2 231,720.3 232.5,720.4 234,720.3 235.5,720 237,719.8 238.5,719.8 240,719.9 241.5,720.2 243,720.4 244.5,720.5 246,720.4 247.5,720.4 249,720.6 250.5,721.1 252,722.1 253.5,723.5 255,725.4 256.5,726.9 258,726.8 259.5,725.7 261,724 262.5,721.4 264,719.2 265.5,719 267,720.3 268.5,722.8 270,725.1 271.5,725.1 273,722.8 274.5,720 276,716.9 277.5,713.5 279,711.1 280.5,710.7 282,711.8 283.5,714 285,717.2 286.5,719.7 288,719.7 289.5,719 291,718.4 292.5,717.8 294,717.7 295.5,718.1 297,718.8 298.5,719.6 300,720.7 301.5,721.9 303,723.1 304.5,724.2 306,725.3 307.5,726 309,726.1 310.5,725.5 312,724.5 313.5,723 315,721.8 316.5,721.6 318,722 319.5,722.5 321,722.6 322.5,722.4 324,721.9 325.5,721.2 327,720.2 328.5,719.2 330,718.7 331.5,718.7 333,719.1 334.5,719.5 336,719.9 337.5,720.2 339,720.4 340.5,720.6 342,720.7 343.5,720.4 345,719.8 346.5,718.8 348,717.8 349.5,717.1 351,716.8 352.5,717.3 354,718.4 355.5,720 357,721.5 358.5,722.5 360,722.9 361.5,722.7 363,722 364.5,720.9 366,719.8 367.5,719.2 369,719.2 370.5,719.6 372,720.5 373.5,721.7 375,722.6 376.5,723.1 378,723.2 379.5,722.9 381,722.5 382.5,722.1 384,721.6 385.5,721.2 387,720.9 388.5,720.7 390,720.7 391.5,720.9 393,721.2 394.5,721.4 396,721.5 397.5,721.5 399,721.1 400.5,720.4 402,719.1 403.5,717.8 405,716.7 406.5,716.1 408,716.1 409.5,716.6 411,718 412.5,719.9 414,721.7 415.5,723.3 417,724.1 418.5,723.9 420,722.8 421.5,721.4 423,720 424.5,719 426,718.6 427.5,718.9 429,719.8 430.5,721.2 432,722.6 433.5,723.8 435,724.5 436.5,724.4 438,723.8 439.5,722.8 441,721.9 442.5,721.2 444,720.9 445.5,720.8 447,720.8 448.5,720.5 450,719.9 451.5,719.1 453,718.3 454.5,717.5"/>
<polyline points="115.5,721.6 117,721.6 118.5,721.5 120,721.5 121.5,721.5 123,721.5 124.5,721.5 126,721.6 127.5,721.6 129,721.7 130.5,721.7 132,721.8 133.5,721.8 135,721.8 136.5,721.7 138,721.6 139.5,721.4 141,721.2 142.5,721.1 144,721 145.5,721 147,721 148.5,721.1 150,721.2 151.5,721.3 153,721.5 154.5,721.7 156,721.9 157.5,722.2 159,722.4 160.5,722.5 162,722.5 163.5,722.5 165,722.4 166.5,722.2 168,722.1 169.5,721.9 171,721.8 172.5,721.6 174,721.5 175.5,721.4 177,721.4 178.5,721.3 180,721.3 181.5,721.3 183,721.3 184.5,721.3 186,721.3 187.5,721.3 189,721.4 190.5,721.5 192,721.6 193.5,721.7 195,721.8 196.5,721.9 198,722 199.5,722 201,722 202.5,722 204,721.9 205.5,721.8 207,721.6 208.5,721.4 210,721.2 211.5,721 213,720.8 214.5,720.6 216,720.4 217.5,720.3 219,720.3 220.5,720.3 222,720.3 223.5,720.3 225,720.4 226.5,720.6 228,720.7 229.5,720.9 231,721.1 232.5,721.1 234,721 235.5,720.7 237,720.6 238.5,720.7 240,721.1 241.5,721.6 243,721.9 244.5,722.1 246,722 247.5,722.1 249,722.3 250.5,723.1 252,724.3 253.5,725.9 255,728 256.5,729 258,728.2 259.5,726.4 261,723.8 262.5,720.7 264,719 265.5,719.9 267,722.3 268.5,725.8 270,727.8 271.5,726.2 273,722.4 274.5,718.7 276,714.8 277.5,711.6 279,710.4 280.5,711.5 282,713.8 283.5,716.8 285,720 286.5,720.9 288,719.1 289.5,717.6 291,716.7 292.5,716.8 294,718 295.5,719.9 297,721.7 298.5,723 300,723.9 301.5,724.2 303,724.3 304.5,724.5 306,725.2 307.5,726.1 309,726.9 310.5,727.2 312,726.8 313.5,725.5 315,724.3 316.5,723.7 318,723.5 319.5,723.2 321,722.8 322.5,722.6 324,722.6 325.5,722.5 327,722 328.5,721.4 330,720.8 331.5,720.4 333,720.1 334.5,719.9 336,719.8 337.5,719.9 339,720.2 340.5,720.6 342,720.8 343.5,720.5 345,719.8 346.5,718.8 348,718 349.5,717.9 351,718.5 352.5,720 354,721.9 355.5,723.6 357,724.5 358.5,724.3 360,723.2 361.5,721.5 363,719.9 364.5,718.7 366,718.4 367.5,719.3 369,720.7 370.5,722.3 372,723.8 373.5,724.7 375,724.8 376.5,724.4 378,723.9 379.5,723.7 381,724 382.5,724.6 384,725.1 385.5,724.9 387,724.1 388.5,722.6 390,720.7 391.5,719 393,717.9 394.5,717.7 396,718.6 397.5,720.3 399,722.2 400.5,723.3 402,723.5 403.5,722.7 405,721.3 406.5,719.7 408,718.1 409.5,717.3 411,717.6 412.5,718.7 414,719.8 415.5,721.2 417,721.9 418.5,721.7 420,721.2 421.5,720.8 423,721 424.5,721.8 426,723.2 427.5,724.9 429,726.4 430.5,727.4 432,727.5 433.5,726.6 435,725.1 436.5,723.1 438,721.2 439.5,720 441,719.6 442.5,720.1 444,721.1 445.5,722 447,722.5 448.5,722.3 450,721.6 451.5,720.8 453,720 454.5,719.5"/>
<polyline points="115.5,722.5 117,722.5 118.5,722.5 120,722.5 121.5,722.5 123,722.6 124.5,722.7 126,722.8 127.5,722.9 129,722.9 130.5,723 132,723 133.5,723 135,723 136.5,723 138,723 139.5,723 141,722.9 142.5,722.8 144,722.8 145.5,722.9 147,722.9 148.5,722.9 150,722.9 151.5,722.8 153,722.8 154.5,722.7 156,722.7 157.5,722.7 159,722.9 160.5,723 162,723 163.5,723.1 165,723.1 166.5,723.2 168,723.2 169.5,723.3 171,723.3 172.5,723.3 174,723.3 175.5,723.2 177,723.2 178.5,723.1 180,723.1 181.5,723 183,723 184.5,723 186,723 187.5,723 189,723 190.5,723.1 192,723.2 193.5,723.2 195,723.2 196.5,723.1 198,723 199.5,722.9 201,722.8 202.5,722.6 204,722.5 205.5,722.4 207,722.3 208.5,722.2 210,722.1 211.5,722 213,722 214.5,722 216,722 217.5,722 219,722 220.5,722 222,721.9 223.5,721.9 225,721.9 226.5,721.9 228,722 229.5,722.1 231,722.3 232.5,722.5 234,722.5 235.5,722.4 237,722.2 238.5,722.2 240,722.3 241.5,722.7 243,723.1 244.5,723.4 246,723.3 247.5,723.1 249,723 250.5,723.3 252,724.2 253.5,725.5 255,727.5 256.5,729.8 258,730.8 259.5,730.2 261,728.7 262.5,726.1 264,723 265.5,721.4 267,722.2 268.5,724.4 270,727.6 271.5,728.7 273,726.1 274.5,721.7 276,717.7 277.5,713.6 279,710.6 280.5,709.9 282,711.8 283.5,714.9 285,718.7 286.5,722.3 288,723 289.5,721.1 291,719.8 292.5,718.9 294,718.8 295.5,719.8 297,721.3 298.5,722.5 300,723.5 301.5,724.3 303,725 304.5,725.7 306,726.7 307.5,727.7 309,728.4 310.5,728.3 312,727.4 313.5,726 315,724.5 316.5,724.1 318,725.1 319.5,726.7 321,728 322.5,728.2 324,727.4 325.5,726 327,723.8 328.5,721.5 330,719.8 331.5,719.2 333,719.4 334.5,719.9 336,720.3 337.5,720.3 339,720.3 340.5,720.5 342,721.2 343.5,722.2 345,723.3 346.5,724.1 348,724.3 349.5,723.7 351,722.6 352.5,721.3 354,720.5 355.5,720.2 357,720.4 358.5,721 360,721.5 361.5,721.8 363,721.8 364.5,721.6 366,721.5 367.5,721.7 369,722.8 370.5,724.2 372,725.8 373.5,727 375,727.5 376.5,727 378,725.8 379.5,724.5 381,723.6 382.5,723.4 384,723.8 385.5,724.4 387,724.8 388.5,724.7 390,724 391.5,722.9 393,721.9 394.5,721.3 396,721.2 397.5,721.8 399,722.7 400.5,723.5 402,723.6 403.5,723 405,722 406.5,721.1 408,720.5 409.5,720 411,720 412.5,720.5 414,720.9 415.5,721.2 417,721.6 418.5,721.6 420,721.5 421.5,721.6 423,722.2 424.5,723.2 426,724.1 427.5,725 429,725.9 430.5,726.7 432,727.4 433.5,728 435,728.2 436.5,727.8 438,726.6 439.5,724.8 441,722.8 442.5,721 444,720.1 445.5,720.2 447,721.2 448.5,722.5 450,723.6 451.5,724.1 453,723.8 454.5,722.9"/>
<polyline points="115.5,723.9 117,723.8 118.5,723.8 120,723.8 121.5,723.9 123,724 124.5,724.1 126,724.2 127.5,724.3 129,724.4 130.5,724.5 132,724.5 133.5,724.5 135,724.4 136.5,724.3 138,724.2 139.5,724 141,723.9 142.5,723.8 144,723.8 145.5,723.9 147,724 148.5,724 150,724.1 151.5,724.1 153,724.1 154.5,724.1 156,724.2 157.5,724.4 159,724.5 160.5,724.5 162,724.5 163.5,724.5 165,724.5 166.5,724.6 168,724.6 169.5,724.6 171,724.6 172.5,724.6 174,724.6 175.5,724.5 177,724.4 178.5,724.4 180,724.3 181.5,724.2 183,724.1 184.5,724.1 186,724 187.5,724.1 189,724.2 190.5,724.2 192,724.3 193.5,724.4 195,724.4 196.5,724.4 198,724.4 199.5,724.4 201,724.3 202.5,724.2 204,724.1 205.5,723.9 207,723.8 208.5,723.7 210,723.5 211.5,723.4 213,723.4 214.5,723.3 216,723.2 217.5,723.1 219,723.1 220.5,723 222,722.9 223.5,722.9 225,722.9 226.5,723 228,723.2 229.5,723.4 231,723.6 232.5,723.7 234,723.6 235.5,723.4 237,723.4 238.5,723.5 240,723.9 241.5,724.4 243,724.8 244.5,724.9 246,724.8 247.5,724.8 249,725 250.5,725.7 252,726.9 253.5,728.6 255,730.9 256.5,732.1 258,731.6 259.5,729.9 261,727.4 262.5,723.9 264,721.7 265.5,722.1 267,724.4 268.5,728.2 270,730.8 271.5,729.5 273,725.3 274.5,720.5 276,715.5 277.5,711.2 279,709.7 280.5,711.4 282,715.2 283.5,720 285,724.8 286.5,726.8 288,724.7 289.5,722.1 291,719.7 292.5,718.5 294,718.9 295.5,720.8 297,723.2 298.5,725.3 300,726.7 301.5,727.3 303,727.3 304.5,727.3 306,727.7 307.5,728.6 309,729.6 310.5,730.2 312,730 313.5,728.6 315,727 316.5,726 318,725.4 319.5,725.1 321,725 322.5,725.3 324,725.8 325.5,725.9 327,725.3 328.5,724.1 330,722.9 331.5,722 333,721.6 334.5,721.7 336,722.4 337.5,723.3 339,724.3 340.5,725.1 342,725.1 343.5,724.3 345,723 346.5,721.6 348,720.8 349.5,720.7 351,721.4 352.5,722.6 354,723.8 355.5,724.5 357,724.4 358.5,723.5 360,722.5 361.5,721.7 363,721.6 364.5,722.2 366,723.2 367.5,724.7 369,725.9 370.5,726.7 372,727.1 373.5,727.1 375,726.9 376.5,726.7 378,726.6 379.5,726.7 381,726.9 382.5,726.9 384,726.5 385.5,725.7 387,724.8 388.5,724.1 390,723.8 391.5,724 393,724.4 394.5,724.7 396,724.8 397.5,724.8 399,724.3 400.5,723.3 402,722.1 403.5,721.1 405,720.4 406.5,720.2 408,720 409.5,720.1 411,720.7 412.5,721.7 414,722.8 415.5,724.4 417,725.7 418.5,726.3 420,726.5 421.5,726.2 423,725.6 424.5,724.9 426,724.3 427.5,724.3 429,725.1 430.5,726.4 432,728 433.5,729.4 435,729.9 436.5,729.3 438,727.6 439.5,725.5 441,723.5 442.5,722.4 444,722.2 445.5,722.8 447,723.6 448.5,724.1 450,724 451.5,723.4 453,722.5 454.5,721.5"/>
<polyline points="115.5,725.2 117,725.4 118.5,725.6 120,725.8 121.5,726 123,726.2 124.5,726.3 126,726.3 127.5,726.2 129,726.1 130.5,725.9 132,725.8 133.5,725.6 135,725.5 136.5,725.4 138,725.3 139.5,725.2 141,725.2 142.5,725.2 144,725.2 145.5,725.3 147,725.4 148.5,725.4 150,725.4 151.5,725.4 153,725.3 154.5,725.2 156,725.3 157.5,725.4 159,725.6 160.5,725.8 162,726 163.5,726.1 165,726.2 166.5,726.3 168,726.4 169.5,726.4 171,726.3 172.5,726.2 174,726.1 175.5,725.9 177,725.8 178.5,725.6 180,725.5 181.5,725.4 183,725.4 184.5,725.3 186,725.4 187.5,725.4 189,725.5 190.5,725.6 192,725.7 193.5,725.7 195,725.8 196.5,725.8 198,725.8 199.5,725.7 201,725.7 202.5,725.6 204,725.6 205.5,725.5 207,725.4 208.5,725.3 210,725.2 211.5,725 213,724.9 214.5,724.7 216,724.6 217.5,724.4 219,724.3 220.5,724.2 222,724.2 223.5,724.2 225,724.3 226.5,724.4 228,724.6 229.5,724.9 231,725.1 232.5,725.3 234,725.4 235.5,725.2 237,724.9 238.5,724.8 240,724.9 241.5,725.3 243,725.7 244.5,725.9 246,726 247.5,725.9 249,726 250.5,726.4 252,727.4 253.5,728.8 255,730.9 256.5,733.3 258,734 259.5,733 261,730.9 262.5,727.9 264,724.5 265.5,722.7 267,723.4 268.5,725.5 270,728.6 271.5,729.8 273,727.6 274.5,724.2 276,721.1 277.5,717.9 279,715.3 280.5,714.6 282,716.1 283.5,718.5 285,721.9 286.5,725.2 288,725.8 289.5,723.9 291,722.5 292.5,721.4 294,721 295.5,721.7 297,723 298.5,724.3 300,725.5 301.5,726.6 303,727.4 304.5,728.1 306,728.9 307.5,730 309,731 310.5,731.7 312,731.9 313.5,731.6 315,730.8 316.5,730.4 318,730.4 319.5,730.2 321,729.2 322.5,727.5 324,725.5 325.5,723.7 327,722.1 328.5,721 330,720.7 331.5,721.5 333,722.8 334.5,724.3 336,725.5 337.5,726.3 339,726.8 340.5,727.3 342,727.6 343.5,727.7 345,727.3 346.5,726.4 348,724.9 349.5,723.2 351,721.6 352.5,720.5 354,720.3 355.5,720.9 357,722.1 358.5,723.5 360,724.9 361.5,726 363,726.7 364.5,727.1 366,727 367.5,726.8 369,726.9 370.5,726.9 372,727.1 373.5,727.5 375,727.7 376.5,727.7 378,727.3 379.5,726.9 381,726.6 382.5,726.5 384,726.6 385.5,726.7 387,726.8 388.5,726.8 390,726.7 391.5,726.6 393,726.5 394.5,726.5 396,726.4 397.5,726.4 399,726.4 400.5,726.3 402,725.6 403.5,724.5 405,723.3 406.5,722.2 408,721.3 409.5,720.6 411,720.4 412.5,721.1 414,722.1 415.5,723.3 417,724.9 418.5,726 420,726.6 421.5,727.1 423,727.6 424.5,728.1 426,728.6 427.5,728.9 429,729.3 430.5,729.5 432,729.4 433.5,729 435,728.2 436.5,727.2 438,726 439.5,725 441,724.3 442.5,724.2 444,724.7 445.5,725.6 447,726.5 448.5,727.1 450,727.1 451.5,726.6 453,725.8 454.5,724.8"/>
<polyline points="115.5,730.1 117,730.2 118.5,730.3 120,730.4 121.5,730.5 123,730.5 124.5,730.6 126,730.6 127.5,730.6 129,730.7 130.5,730.7 132,730.6 133.5,730.6 135,730.6 136.5,730.5 138,730.4 139.5,730.2 141,730.1 142.5,730 144,730 145.5,729.9 147,729.9 148.5,729.9 150,729.9 151.5,729.9 153,729.9 154.5,730 156,730.1 157.5,730.3 159,730.5 160.5,730.5 162,730.6 163.5,730.6 165,730.6 166.5,730.6 168,730.6 169.5,730.6 171,730.7 172.5,730.7 174,730.7 175.5,730.8 177,730.8 178.5,730.8 180,730.7 181.5,730.7 183,730.6 184.5,730.5 186,730.4 187.5,730.3 189,730.2 190.5,730.1 192,730.1 193.5,730.1 195,730 196.5,730 198,730 199.5,730.1 201,730.1 202.5,730.1 204,730.1 205.5,730.1 207,730 208.5,730 210,729.9 211.5,729.8 213,729.7 214.5,729.7 216,729.6 217.5,729.5 219,729.4 220.5,729.3 222,729.3 223.5,729.2 225,729.2 226.5,729.3 228,729.4 229.5,729.5 231,729.6 232.5,729.6 234,729.5 235.5,729.3 237,729.3 238.5,729.4 240,729.9 241.5,730.4 243,730.7 244.5,730.7 246,730.6 247.5,730.6 249,730.9 250.5,731.7 252,732.9 253.5,734.8 255,737 256.5,738 258,737.3 259.5,735.9 261,733.6 262.5,730.7 264,729 265.5,729.4 267,731 268.5,733.6 270,734.9 271.5,732.9 273,729.5 274.5,726.4 276,722.9 277.5,719.7 279,718.1 280.5,719.1 282,721.5 283.5,725.3 285,729.7 286.5,731.4 288,730.2 289.5,728.8 291,727.2 292.5,725.9 294,725.7 295.5,726.4 297,727.6 298.5,729.2 300,730.8 301.5,732.2 303,733.3 304.5,734.3 306,735.2 307.5,736 309,736.4 310.5,736.3 312,735.6 313.5,734.2 315,733.3 316.5,733.1 318,733.1 319.5,733 321,732.3 322.5,731.6 324,731 325.5,730.1 327,729.1 328.5,728.4 330,728.3 331.5,728.6 333,729.2 334.5,729.7 336,729.9 337.5,729.9 339,729.8 340.5,729.6 342,729.4 343.5,729 345,728.7 346.5,728.3 348,728 349.5,727.8 351,727.9 352.5,728.2 354,728.7 355.5,729.3 357,729.7 358.5,729.9 360,729.9 361.5,729.9 363,729.7 364.5,729.4 366,729.3 367.5,729.8 369,730.5 370.5,731.5 372,732.6 373.5,733.4 375,733.6 376.5,733.3 378,732.5 379.5,731.8 381,731.4 382.5,731.5 384,731.8 385.5,732.3 387,732.6 388.5,732.6 390,732.2 391.5,731.5 393,730.7 394.5,730.1 396,729.9 397.5,730 399,730.1 400.5,729.7 402,728.7 403.5,727.4 405,726.1 406.5,725.2 408,724.6 409.5,725 411,726.5 412.5,728.3 414,730.2 415.5,732 417,732.7 418.5,732.6 420,732.1 421.5,731.5 423,731.1 424.5,730.8 426,730.7 427.5,730.8 429,731.1 430.5,731.6 432,732.2 433.5,732.9 435,733.5 436.5,733.7 438,733.5 439.5,733 441,732.3 442.5,731.7 444,731.4 445.5,731.4 447,731.5 448.5,731.4 450,731 451.5,730.2 453,728.9 454.5,727.3"/>
<polyline points="115.5,732.6 117,732.6 118.5,732.8 120,732.8 121.5,732.9 123,733 124.5,733 126,733 127.5,733 129,733 130.5,733 132,733 133.5,733.1 135,733.1 136.5,733.2 138,733.2 139.5,733.1 141,733.1 142.5,733 144,732.9 145.5,732.9 147,732.8 148.5,732.6 150,732.5 151.5,732.4 153,732.3 154.5,732.3 156,732.4 157.5,732.6 159,732.8 160.5,733 162,733.2 163.5,733.3 165,733.3 166.5,733.4 168,733.4 169.5,733.3 171,733.2 172.5,733.2 174,733.1 175.5,733 177,733 178.5,733 180,733 181.5,733.1 183,733.1 184.5,733.1 186,733.1 187.5,733.2 189,733.1 190.5,733.1 192,733 193.5,733 195,732.9 196.5,732.8 198,732.7 199.5,732.6 201,732.6 202.5,732.6 204,732.6 205.5,732.6 207,732.6 208.5,732.6 210,732.5 211.5,732.4 213,732.3 214.5,732.2 216,732.1 217.5,732 219,731.9 220.5,731.8 222,731.8 223.5,731.8 225,731.9 226.5,732 228,732.2 229.5,732.4 231,732.6 232.5,732.7 234,732.6 235.5,732.4 237,732.2 238.5,732.1 240,732.3 241.5,732.6 243,732.9 244.5,733.1 246,733.1 247.5,733.1 249,733.2 250.5,733.8 252,734.8 253.5,736.1 255,738 256.5,739.5 258,739.4 259.5,738.1 261,736.1 262.5,733.5 264,731.2 265.5,731 267,732.6 268.5,735.5 270,738.1 271.5,738 273,735.1 274.5,731.7 276,728 277.5,724.4 279,722 280.5,722 282,723.9 283.5,726.8 285,730.6 286.5,733.4 288,733.1 289.5,731.6 291,730.2 292.5,728.9 294,728.4 295.5,728.9 297,730.1 298.5,731.7 300,733.5 301.5,735.2 303,736.6 304.5,737.6 306,738.2 307.5,738.4 309,738.2 310.5,737.5 312,736.6 313.5,735.4 315,734.6 316.5,734.6 318,735.1 319.5,735.4 321,735 322.5,734 324,732.9 325.5,732 327,731.3 328.5,731 330,731.5 331.5,732.5 333,733.6 334.5,734.2 336,734.1 337.5,733.3 339,732.2 340.5,731.1 342,730.3 343.5,729.9 345,729.8 346.5,730 348,730.3 349.5,730.7 351,731.3 352.5,731.9 354,732.5 355.5,733.2 357,733.6 358.5,733.8 360,733.8 361.5,733.6 363,733.4 364.5,733 366,732.6 367.5,732.4 369,732.3 370.5,732.3 372,732.5 373.5,732.9 375,733.3 376.5,733.7 378,734.3 379.5,735 381,735.8 382.5,736.4 384,736.8 385.5,736.5 387,735.8 388.5,734.7 390,733.4 391.5,732.2 393,731.4 394.5,730.9 396,730.8 397.5,731.2 399,731.7 400.5,731.9 402,731.7 403.5,731.2 405,730.7 406.5,730.5 408,730.5 409.5,730.8 411,731.7 412.5,733 414,733.9 415.5,734.7 417,734.8 418.5,734.1 420,732.7 421.5,731.4 423,730.5 424.5,730.4 426,731 427.5,732.2 429,733.9 430.5,735.7 432,737.2 433.5,738.1 435,738.2 436.5,737.5 438,736.3 439.5,734.8 441,733.6 442.5,732.7 444,732.5 445.5,732.5 447,732.4 448.5,732.1 450,731.4 451.5,730.6 453,730 454.5,729.6"/>
<polyline points="115.5,734.5 117,734.5 118.5,734.6 120,734.5 121.5,734.5 123,734.4 124.5,734.3 126,734.3 127.5,734.2 129,734.2 130.5,734.2 132,734.3 133.5,734.3 135,734.4 136.5,734.5 138,734.5 139.5,734.5 141,734.3 142.5,734.2 144,734 145.5,733.9 147,733.8 148.5,733.6 150,733.5 151.5,733.4 153,733.5 154.5,733.5 156,733.7 157.5,734.1 159,734.4 160.5,734.7 162,735 163.5,735.2 165,735.3 166.5,735.3 168,735.3 169.5,735.2 171,735 172.5,734.9 174,734.8 175.5,734.6 177,734.6 178.5,734.5 180,734.5 181.5,734.5 183,734.4 184.5,734.4 186,734.3 187.5,734.3 189,734.2 190.5,734.1 192,734 193.5,733.9 195,733.8 196.5,733.7 198,733.6 199.5,733.6 201,733.7 202.5,733.8 204,733.9 205.5,734 207,734.2 208.5,734.2 210,734.3 211.5,734.3 213,734.2 214.5,734.1 216,734 217.5,733.8 219,733.7 220.5,733.5 222,733.4 223.5,733.3 225,733.3 226.5,733.3 228,733.4 229.5,733.6 231,733.7 232.5,733.8 234,733.8 235.5,733.6 237,733.4 238.5,733.2 240,733.4 241.5,733.7 243,734.1 244.5,734.3 246,734.3 247.5,734.3 249,734.5 250.5,735 252,736 253.5,737.4 255,739.4 256.5,741.4 258,741.7 259.5,740.6 261,738.7 262.5,736.1 264,733.3 265.5,732.3 267,733.4 268.5,735.6 270,738.3 271.5,738.7 273,736.2 274.5,732.9 276,729.7 277.5,726.4 279,724.1 280.5,723.7 282,725.4 283.5,727.9 285,731.5 286.5,734.6 288,734.8 289.5,733.1 291,731.7 292.5,730.3 294,729.6 295.5,729.8 297,730.8 298.5,732.1 300,733.8 301.5,735.6 303,737.3 304.5,738.9 306,740.1 307.5,741 309,741.1 310.5,740.5 312,739.1 313.5,737.2 315,735.2 316.5,734.3 318,734.4 319.5,735 321,735.4 322.5,735.5 324,735.5 325.5,735.4 327,735 328.5,734.6 330,734.3 331.5,734.3 333,734.4 334.5,734.4 336,734 337.5,733.4 339,732.8 340.5,732.5 342,732.4 343.5,732.6 345,732.7 346.5,732.7 348,732.6 349.5,732.4 351,732.4 352.5,732.5 354,733 355.5,733.6 357,734.2 358.5,734.5 360,734.3 361.5,733.9 363,733.4 364.5,732.9 366,732.5 367.5,732.5 369,733.2 370.5,734.1 372,735.2 373.5,736.4 375,737.3 376.5,737.6 378,737.6 379.5,737.5 381,737.3 382.5,737.1 384,737 385.5,736.7 387,736.1 388.5,735.4 390,734.5 391.5,733.6 393,733 394.5,732.6 396,732.6 397.5,733 399,733.7 400.5,734.3 402,734.5 403.5,734.1 405,733.3 406.5,732.5 408,731.5 409.5,730.6 411,730.4 412.5,730.9 414,731.8 415.5,733.1 417,734.6 418.5,735.4 420,735.7 421.5,735.6 423,735.3 424.5,735 426,734.8 427.5,734.8 429,735.2 430.5,735.9 432,736.8 433.5,737.7 435,738.2 436.5,738.3 438,737.8 439.5,736.9 441,735.9 442.5,734.9 444,734.2 445.5,733.8 447,733.5 448.5,733.2 450,732.7 451.5,732.3 453,732.1 454.5,732"/>
<polyline points="115.5,734.9 117,734.9 118.5,734.9 120,735 121.5,735 123,735 124.5,735.1 126,735.2 127.5,735.3 129,735.4 130.5,735.6 132,735.7 133.5,735.7 135,735.7 136.5,735.7 138,735.5 139.5,735.2 141,734.9 142.5,734.7 144,734.4 145.5,734.2 147,734.1 148.5,734 150,734 151.5,734 153,734.2 154.5,734.3 156,734.6 157.5,735 159,735.3 160.5,735.5 162,735.6 163.5,735.7 165,735.7 166.5,735.7 168,735.6 169.5,735.6 171,735.5 172.5,735.5 174,735.5 175.5,735.5 177,735.5 178.5,735.6 180,735.5 181.5,735.5 183,735.4 184.5,735.2 186,735.1 187.5,734.9 189,734.7 190.5,734.6 192,734.4 193.5,734.3 195,734.3 196.5,734.3 198,734.4 199.5,734.5 201,734.6 202.5,734.7 204,734.8 205.5,734.9 207,735 208.5,734.9 210,734.9 211.5,734.8 213,734.7 214.5,734.6 216,734.4 217.5,734.3 219,734.3 220.5,734.2 222,734.2 223.5,734.2 225,734.2 226.5,734.3 228,734.3 229.5,734.4 231,734.5 232.5,734.4 234,734.1 235.5,733.7 237,733.5 238.5,733.5 240,733.8 241.5,734.3 243,734.7 244.5,734.9 246,734.9 247.5,735.1 249,735.5 250.5,736.5 252,737.9 253.5,739.7 255,742 256.5,743.2 258,742.8 259.5,741.4 261,739.1 262.5,735.7 264,733.2 265.5,733 267,734.5 268.5,737.6 270,740.1 271.5,739.6 273,737.1 274.5,734.4 276,730.6 277.5,726.3 279,723.5 280.5,722.9 282,724.2 283.5,727 285,730.9 286.5,733.1 288,732.4 289.5,731.7 291,731 292.5,730.7 294,731.3 295.5,732.7 297,734.4 298.5,736.1 300,737.6 301.5,738.7 303,739.3 304.5,739.6 306,739.8 307.5,739.9 309,739.9 310.5,739.6 312,739.2 313.5,738.3 315,737.8 316.5,738 318,738.1 319.5,737.9 321,737 322.5,736 324,735.1 325.5,734.4 327,733.8 328.5,733.5 330,733.8 331.5,734.3 333,734.7 334.5,734.8 336,734.5 337.5,734 339,733.4 340.5,733 342,732.6 343.5,732.2 345,731.9 346.5,731.9 348,732.2 349.5,733 351,734.2 352.5,735.6 354,736.8 355.5,737.2 357,736.7 358.5,735.3 360,733.5 361.5,732.1 363,731.4 364.5,731.6 366,732.8 367.5,734.8 369,736.8 370.5,738.3 372,739 373.5,738.8 375,737.8 376.5,736.6 378,735.7 379.5,735.4 381,735.8 382.5,736.6 384,737.4 385.5,737.7 387,737.4 388.5,736.7 390,735.8 391.5,735.2 393,734.8 394.5,734.7 396,734.9 397.5,735 399,734.8 400.5,734 402,732.6 403.5,731.3 405,730.5 406.5,730.4 408,730.9 409.5,732 411,733.6 412.5,735.1 414,735.9 415.5,736.5 417,736.3 418.5,735.5 420,734.7 421.5,734.4 423,734.6 424.5,735.2 426,736 427.5,736.9 429,737.6 430.5,738.1 432,738.2 433.5,738.2 435,737.9 436.5,737.4 438,736.8 439.5,736.3 441,735.9 442.5,735.8 444,736 445.5,736.2 447,736.2 448.5,735.7 450,734.8 451.5,733.5 453,732.1 454.5,730.8"/>
<polyline points="115.5,737.2 117,737.2 118.5,737.2 120,737.2 121.5,737.3 123,737.3 124.5,737.3 126,737.3 127.5,737.3 129,737.2 130.5,737.2 132,737.2 133.5,737.2 135,737.1 136.5,737 138,736.9 139.5,736.7 141,736.5 142.5,736.4 144,736.3 145.5,736.3 147,736.3 148.5,736.4 150,736.4 151.5,736.5 153,736.6 154.5,736.8 156,737 157.5,737.2 159,737.4 160.5,737.6 162,737.7 163.5,737.7 165,737.7 166.5,737.6 168,737.5 169.5,737.4 171,737.3 172.5,737.2 174,737.1 175.5,737.1 177,737 178.5,737 180,737 181.5,737 183,737 184.5,737 186,737 187.5,737 189,737.1 190.5,737.1 192,737.1 193.5,737.1 195,737 196.5,737 198,736.9 199.5,736.8 201,736.8 202.5,736.7 204,736.6 205.5,736.5 207,736.5 208.5,736.4 210,736.4 211.5,736.4 213,736.4 214.5,736.4 216,736.4 217.5,736.4 219,736.5 220.5,736.5 222,736.4 223.5,736.4 225,736.4 226.5,736.4 228,736.4 229.5,736.5 231,736.5 232.5,736.6 234,736.5 235.5,736.3 237,736.1 238.5,736.1 240,736.4 241.5,736.7 243,737.1 244.5,737.2 246,737.2 247.5,737.1 249,737.2 250.5,737.6 252,738.4 253.5,739.5 255,741.2 256.5,742.6 258,742.7 259.5,741.8 261,740.4 262.5,738.2 264,736.2 265.5,735.8 267,737.1 268.5,739.4 270,741.9 271.5,742.2 273,740.1 274.5,737.2 276,734 277.5,730.4 279,727.5 280.5,726.4 282,727 283.5,728.7 285,731.9 286.5,734.9 288,735.6 289.5,735.4 291,735.5 292.5,735.4 294,735.5 295.5,736 297,736.6 298.5,737.2 300,737.8 301.5,738.4 303,738.9 304.5,739.4 306,739.9 307.5,740.3 309,740.5 310.5,740.3 312,739.9 313.5,739.3 315,738.8 316.5,739.1 318,740 319.5,740.7 321,740.6 322.5,739.9 324,738.7 325.5,737.4 327,735.9 328.5,734.8 330,734.4 331.5,734.7 333,735.4 334.5,736.2 336,736.7 337.5,736.7 339,736.5 340.5,736.2 342,735.9 343.5,735.8 345,735.7 346.5,735.8 348,735.9 349.5,736 351,736.2 352.5,736.4 354,736.5 355.5,736.4 357,736.2 358.5,735.7 360,735.2 361.5,734.9 363,735 364.5,735.4 366,736.1 367.5,737.2 369,738.3 370.5,739.1 372,739.6 373.5,739.8 375,739.5 376.5,739 378,738.5 379.5,738.4 381,738.6 382.5,739.1 384,739.5 385.5,739.6 387,739.1 388.5,738 390,736.6 391.5,735.3 393,734.4 394.5,734 396,734.5 397.5,735.5 399,736.9 400.5,738.1 402,738.4 403.5,737.9 405,736.8 406.5,735.4 408,734 409.5,732.9 411,732.7 412.5,733.6 414,735 415.5,736.8 417,738.5 418.5,739.3 420,739.2 421.5,738.6 423,737.7 424.5,737 426,736.7 427.5,737 429,737.9 430.5,739.3 432,740.5 433.5,741.4 435,741.4 436.5,740.5 438,738.9 439.5,736.9 441,735.1 442.5,733.9 444,733.8 445.5,734.5 447,735.8 448.5,737.1 450,738 451.5,738.4 453,738.3 454.5,737.7"/>
<polyline points="115.5,738.5 117,738.5 118.5,738.4 120,738.4 121.5,738.3 123,738.2 124.5,738.2 126,738.1 127.5,738.1 129,738.2 130.5,738.2 132,738.3 133.5,738.3 135,738.4 136.5,738.4 138,738.4 139.5,738.3 141,738.1 142.5,738.1 144,738 145.5,738 147,737.9 148.5,737.9 150,737.9 151.5,737.9 153,738 154.5,738.1 156,738.2 157.5,738.5 159,738.7 160.5,738.8 162,738.9 163.5,738.9 165,738.9 166.5,738.8 168,738.8 169.5,738.7 171,738.6 172.5,738.6 174,738.5 175.5,738.4 177,738.4 178.5,738.4 180,738.4 181.5,738.3 183,738.3 184.5,738.3 186,738.2 187.5,738.2 189,738.2 190.5,738.2 192,738.2 193.5,738.1 195,738.1 196.5,738.1 198,738.1 199.5,738.1 201,738.2 202.5,738.2 204,738.2 205.5,738.3 207,738.3 208.5,738.2 210,738.2 211.5,738.1 213,738 214.5,737.9 216,737.8 217.5,737.6 219,737.4 220.5,737.2 222,737.1 223.5,736.9 225,736.9 226.5,736.9 228,737 229.5,737.1 231,737.3 232.5,737.4 234,737.4 235.5,737.4 237,737.4 238.5,737.7 240,738.1 241.5,738.6 243,739 244.5,739.1 246,739 247.5,738.9 249,739.1 250.5,739.7 252,740.8 253.5,742.4 255,744.4 256.5,745.6 258,745.1 259.5,743.5 261,740.9 262.5,737.6 264,735.5 265.5,736 267,738.3 268.5,742.3 270,745.1 271.5,744.2 273,740.6 274.5,736.1 276,730.8 277.5,726.2 279,724.2 280.5,725.5 282,728.8 283.5,733.4 285,738 286.5,740 288,738.4 289.5,736.5 291,734.8 292.5,733.9 294,734.3 295.5,735.7 297,737.3 298.5,738.6 300,739.7 301.5,740.4 303,741 304.5,741.8 306,742.8 307.5,743.7 309,744.1 310.5,743.8 312,742.9 313.5,741.4 315,740.6 316.5,740.9 318,741.5 319.5,741.7 321,740.9 322.5,739.3 324,737.5 325.5,735.7 327,734.6 328.5,734.7 330,736.1 331.5,738.3 333,740.1 334.5,740.8 336,739.8 337.5,737.7 339,735.4 340.5,733.9 342,733.7 343.5,734.7 345,736.6 346.5,738.5 348,739.8 349.5,739.9 351,739.1 352.5,737.7 354,736.5 355.5,735.7 357,735.5 358.5,735.8 360,736.4 361.5,737.2 363,737.9 364.5,738.6 366,739.3 367.5,740.3 369,741.1 370.5,741.4 372,741.3 373.5,740.5 375,739.4 376.5,738.3 378,737.8 379.5,738.3 381,739.6 382.5,741.1 384,742 385.5,741.9 387,740.6 388.5,738.6 390,736.7 391.5,735.5 393,735.4 394.5,736.4 396,738 397.5,739.6 399,740.2 400.5,739.7 402,738 403.5,736.1 405,734.6 406.5,734 408,734.1 409.5,734.8 411,736.2 412.5,737.4 414,738.2 415.5,739 417,739.4 418.5,739.3 420,739.3 421.5,739.3 423,739.4 424.5,739.4 426,739.4 427.5,739.6 429,740.2 430.5,740.9 432,741.6 433.5,741.9 435,741.6 436.5,740.5 438,739 439.5,737.7 441,737.1 442.5,737.5 444,738.7 445.5,740 447,740.5 448.5,739.8 450,737.9 451.5,735.4 453,733.3 454.5,732.1"/>
<polyline points="115.5,739.7 117,739.8 118.5,740 120,740.1 121.5,740.2 123,740.2 124.5,740.2 126,740.1 127.5,739.9 129,739.8 130.5,739.7 132,739.6 133.5,739.5 135,739.5 136.5,739.5 138,739.5 139.5,739.4 141,739.4 142.5,739.3 144,739.3 145.5,739.2 147,739.2 148.5,739.1 150,739 151.5,738.9 153,738.9 154.5,738.9 156,739 157.5,739.3 159,739.6 160.5,740 162,740.2 163.5,740.4 165,740.6 166.5,740.7 168,740.7 169.5,740.6 171,740.5 172.5,740.3 174,740.1 175.5,739.9 177,739.7 178.5,739.6 180,739.5 181.5,739.5 183,739.5 184.5,739.5 186,739.5 187.5,739.6 189,739.7 190.5,739.7 192,739.7 193.5,739.7 195,739.6 196.5,739.5 198,739.5 199.5,739.4 201,739.4 202.5,739.3 204,739.3 205.5,739.3 207,739.2 208.5,739.2 210,739.1 211.5,739 213,738.9 214.5,738.8 216,738.7 217.5,738.6 219,738.5 220.5,738.4 222,738.4 223.5,738.5 225,738.6 226.5,738.8 228,739 229.5,739.2 231,739.4 232.5,739.5 234,739.4 235.5,739.1 237,738.8 238.5,738.5 240,738.6 241.5,738.9 243,739.3 244.5,739.6 246,739.7 247.5,739.7 249,739.8 250.5,740.4 252,741.4 253.5,742.9 255,745 256.5,747.4 258,748.1 259.5,747 261,744.8 262.5,741.4 264,737.7 265.5,736.2 267,737.4 268.5,740.3 270,744 271.5,745.4 273,743.2 274.5,739.7 276,736.5 277.5,733.2 279,730.6 280.5,729.4 282,729.7 283.5,730.4 285,732.1 286.5,734.4 288,735.2 289.5,735.1 291,736.4 292.5,737.9 294,739.3 295.5,740.3 297,740.7 298.5,740.3 300,740.1 301.5,740.3 303,741 304.5,742.1 306,743.2 307.5,743.9 309,744.1 310.5,743.8 312,743.3 313.5,743 315,742.8 316.5,743.4 318,744.1 319.5,744.1 321,742.9 322.5,740.9 324,739 325.5,738.2 327,738.1 328.5,738.5 330,739.2 331.5,739.8 333,739.6 334.5,738.8 336,737.7 337.5,737 339,736.9 340.5,737.7 342,738.8 343.5,739.6 345,739.8 346.5,739.4 348,738.7 349.5,738.3 351,738.3 352.5,738.7 354,739.2 355.5,739.3 357,738.6 358.5,737.4 360,736.1 361.5,735.6 363,736.1 364.5,737.5 366,739.2 367.5,740.9 369,742.2 370.5,742.5 372,742.5 373.5,742.6 375,742.8 376.5,742.9 378,742.8 379.5,742.3 381,741.3 382.5,740.1 384,739.1 385.5,738.5 387,738.8 388.5,739.6 390,740.7 391.5,741.5 393,741.5 394.5,740.9 396,739.9 397.5,739.4 399,739.6 400.5,740.1 402,740.5 403.5,740 405,738.6 406.5,736.5 408,734.2 409.5,732.5 411,732.4 412.5,734.2 414,737.1 415.5,740.2 417,742.8 418.5,743.6 420,742.8 421.5,741.3 423,740 424.5,739.3 426,739.4 427.5,740 429,740.8 430.5,741.5 432,741.9 433.5,742.2 435,742.6 436.5,743 438,743.2 439.5,743 441,742 442.5,740.5 444,738.9 445.5,737.8 447,737.6 448.5,738.2 450,739.4 451.5,740.6 453,741.1 454.5,740.5"/>
<polyline points="115.5,740.5 117,740.3 118.5,740.1 120,740 121.5,740 123,740 124.5,740.1 126,740.2 127.5,740.4 129,740.6 130.5,740.8 132,741 133.5,741.1 135,741.1 136.5,741 138,740.9 139.5,740.6 141,740.4 142.5,740.2 144,740.1 145.5,740.1 147,740.2 148.5,740.3 150,740.4 151.5,740.5 153,740.6 154.5,740.8 156,740.9 157.5,741.1 159,741.1 160.5,741 162,740.9 163.5,740.7 165,740.6 166.5,740.5 168,740.4 169.5,740.5 171,740.6 172.5,740.7 174,740.9 175.5,741 177,741.2 178.5,741.2 180,741.2 181.5,741.1 183,741 184.5,740.8 186,740.7 187.5,740.5 189,740.4 190.5,740.4 192,740.4 193.5,740.5 195,740.6 196.5,740.7 198,740.7 199.5,740.8 201,740.7 202.5,740.6 204,740.5 205.5,740.3 207,740 208.5,739.8 210,739.5 211.5,739.4 213,739.3 214.5,739.3 216,739.4 217.5,739.5 219,739.6 220.5,739.7 222,739.9 223.5,740 225,740.1 226.5,740.1 228,740.2 229.5,740.3 231,740.3 232.5,740.1 234,739.9 235.5,739.6 237,739.5 238.5,739.7 240,740.2 241.5,740.7 243,741 244.5,741.1 246,741 247.5,741 249,741.3 250.5,742.1 252,743.4 253.5,745.3 255,747.4 256.5,748 258,747.1 259.5,745.5 261,743.2 262.5,740.4 264,739.2 265.5,740 267,741.7 268.5,744.1 270,744.6 271.5,742.2 273,739.1 274.5,736.7 276,734 277.5,731.7 279,730.6 280.5,731.2 282,732.7 283.5,735.3 285,738.4 286.5,739.4 288,738.4 289.5,738 291,737.5 292.5,737.2 294,737.3 295.5,737.7 297,738.2 298.5,739.2 300,740.7 301.5,742.5 303,744.4 304.5,746.1 306,747.3 307.5,747.7 309,747.1 310.5,745.8 312,744.3 313.5,742.7 315,742.4 316.5,743.1 318,743.9 319.5,744 321,743.1 322.5,741.7 324,740.2 325.5,738.9 327,738.1 328.5,738.3 330,739.5 331.5,740.8 333,741.7 334.5,741.7 336,740.7 337.5,739.2 339,737.9 340.5,737.2 342,737.2 343.5,737.9 345,738.7 346.5,739.4 348,739.8 349.5,739.8 351,739.6 352.5,739.6 354,739.8 355.5,740.2 357,740.7 358.5,740.9 360,740.8 361.5,740.3 363,739.5 364.5,738.7 366,738.3 367.5,739 369,740.1 370.5,741.9 372,743.8 373.5,745.1 375,745.5 376.5,744.7 378,743.4 379.5,741.9 381,740.8 382.5,740.5 384,740.8 385.5,741.5 387,742.2 388.5,742.5 390,742.3 391.5,741.5 393,740.4 394.5,739.4 396,738.9 397.5,739.2 399,739.9 400.5,740.4 402,740.5 403.5,740.1 405,739.2 406.5,737.9 408,736.6 409.5,736 411,736.5 412.5,737.7 414,739.4 415.5,741.4 417,742.4 418.5,742.4 420,741.8 421.5,740.9 423,740.3 424.5,740.2 426,740.7 427.5,742 429,743.5 430.5,744.8 432,745.4 433.5,745.3 435,744.3 436.5,742.9 438,741.5 439.5,740.5 441,740.2 442.5,740.6 444,741.2 445.5,741.6 447,741.4 448.5,740.5 450,739.3 451.5,738.2 453,737.4 454.5,737.2"/>
<polyline points="115.5,747.3 117,747.3 118.5,747.3 120,747.3 121.5,747.3 123,747.3 124.5,747.2 126,747.2 127.5,747.1 129,747 130.5,746.9 132,746.9 133.5,746.8 135,746.8 136.5,746.8 138,746.7 139.5,746.6 141,746.5 142.5,746.4 144,746.4 145.5,746.4 147,746.3 148.5,746.4 150,746.4 151.5,746.4 153,746.5 154.5,746.7 156,747 157.5,747.3 159,747.5 160.5,747.7 162,747.8 163.5,747.9 165,747.9 166.5,747.8 168,747.8 169.5,747.7 171,747.6 172.5,747.5 174,747.4 175.5,747.3 177,747.3 178.5,747.2 180,747.2 181.5,747.1 183,747 184.5,746.9 186,746.8 187.5,746.7 189,746.7 190.5,746.6 192,746.6 193.5,746.6 195,746.7 196.5,746.7 198,746.8 199.5,746.9 201,746.9 202.5,747 204,746.9 205.5,746.9 207,746.8 208.5,746.7 210,746.5 211.5,746.4 213,746.3 214.5,746.2 216,746.2 217.5,746.1 219,746.1 220.5,746.1 222,746.1 223.5,746.1 225,746.1 226.5,746.2 228,746.2 229.5,746.3 231,746.4 232.5,746.4 234,746.3 235.5,746.1 237,746 238.5,746.2 240,746.7 241.5,747.2 243,747.6 244.5,747.7 246,747.7 247.5,747.6 249,747.8 250.5,748.4 252,749.5 253.5,751 255,753 256.5,754.1 258,753.6 259.5,752 261,749.5 262.5,746.3 264,744.2 265.5,744.5 267,746.4 268.5,749.6 270,751.8 271.5,750.8 273,747.8 274.5,744.6 276,740.9 277.5,737.4 279,735.6 280.5,736.3 282,738.6 283.5,742.1 285,746.2 286.5,748.2 288,747 289.5,745.7 291,744.1 292.5,742.9 294,742.6 295.5,743.4 297,744.8 298.5,746.6 300,748.7 301.5,750.5 303,751.9 304.5,752.7 306,752.9 307.5,752.5 309,751.5 310.5,750.1 312,748.9 313.5,747.7 315,747.5 316.5,748.5 318,749.9 319.5,750.7 321,750.5 322.5,749.5 324,748.1 325.5,746.6 327,745 328.5,744.1 330,744.1 331.5,744.8 333,745.7 334.5,746.4 336,746.5 337.5,746.3 339,745.9 340.5,745.7 342,745.7 343.5,746 345,746.5 346.5,747 348,747.5 349.5,747.7 351,747.7 352.5,747.4 354,746.9 355.5,746.1 357,745.2 358.5,744.2 360,743.6 361.5,743.5 363,744 364.5,744.9 366,746.1 367.5,747.7 369,749 370.5,750 372,750.5 373.5,750.5 375,750 376.5,749.3 378,748.5 379.5,748 381,747.9 382.5,747.9 384,747.8 385.5,747.5 387,747 388.5,746.4 390,746 391.5,746 393,746.4 394.5,747.3 396,748.4 397.5,749.5 399,750.2 400.5,749.8 402,748.4 403.5,746.4 405,744.2 406.5,742.4 408,741.1 409.5,740.9 411,741.9 412.5,743.8 414,745.8 415.5,748 417,749.3 418.5,749.4 420,748.8 421.5,747.9 423,747.1 424.5,746.6 426,746.8 427.5,747.6 429,748.7 430.5,749.7 432,750.5 433.5,750.6 435,750.1 436.5,749 438,747.7 439.5,746.6 441,746.2 442.5,746.5 444,747.4 445.5,748.5 447,749.1 448.5,748.9 450,748 451.5,746.6 453,745 454.5,743.6"/>
<polyline points="115.5,747.9 117,747.9 118.5,747.9 120,747.8 121.5,747.8 123,747.8 124.5,747.8 126,747.8 127.5,747.8 129,747.9 130.5,747.9 132,748 133.5,748 135,748.1 136.5,748.1 138,748 139.5,747.9 141,747.7 142.5,747.6 144,747.6 145.5,747.6 147,747.5 148.5,747.5 150,747.5 151.5,747.6 153,747.6 154.5,747.7 156,747.8 157.5,748.1 159,748.3 160.5,748.4 162,748.4 163.5,748.5 165,748.5 166.5,748.5 168,748.4 169.5,748.4 171,748.3 172.5,748.3 174,748.2 175.5,748.2 177,748.2 178.5,748.1 180,748.1 181.5,748 183,747.9 184.5,747.9 186,747.8 187.5,747.8 189,747.8 190.5,747.8 192,747.8 193.5,747.8 195,747.8 196.5,747.8 198,747.8 199.5,747.8 201,747.7 202.5,747.7 204,747.7 205.5,747.7 207,747.6 208.5,747.5 210,747.5 211.5,747.4 213,747.4 214.5,747.3 216,747.3 217.5,747.2 219,747.1 220.5,747 222,746.9 223.5,746.8 225,746.7 226.5,746.7 228,746.7 229.5,746.8 231,746.8 232.5,746.9 234,746.7 235.5,746.6 237,746.5 238.5,746.7 240,747.2 241.5,747.9 243,748.4 244.5,748.7 246,748.8 247.5,748.8 249,749 250.5,749.8 252,751 253.5,752.7 255,755.1 256.5,756.3 258,755.5 259.5,753.7 261,751.3 262.5,748 264,745.8 265.5,746.1 267,748.1 268.5,751.4 270,753.9 271.5,753.2 273,749.9 274.5,746.5 276,742.5 277.5,738.3 279,735.4 280.5,734.9 282,736.4 283.5,739.3 285,743.5 286.5,746.5 288,746.2 289.5,745.4 291,744.6 292.5,743.9 294,743.9 295.5,744.9 297,746.3 298.5,748 300,750 301.5,751.7 303,753 304.5,753.8 306,754.2 307.5,754.2 309,753.7 310.5,752.7 312,751.6 313.5,750.2 315,749.3 316.5,749.4 318,749.9 319.5,750.1 321,749.7 322.5,749.1 324,748.7 325.5,748.4 327,748.1 328.5,747.9 330,748 331.5,748.1 333,747.9 334.5,747.4 336,746.6 337.5,745.7 339,745.2 340.5,745.2 342,745.3 343.5,745.5 345,745.4 346.5,745.1 348,744.9 349.5,745.1 351,745.8 352.5,747.1 354,748.8 355.5,750.2 357,750.8 358.5,750.5 360,749.3 361.5,747.8 363,746.2 364.5,745 366,744.5 367.5,745 369,746.1 370.5,747.3 372,748.6 373.5,749.7 375,750.4 376.5,750.8 378,751.1 379.5,751.6 381,752.1 382.5,752.4 384,752.3 385.5,751.6 387,750.4 388.5,748.9 390,747.5 391.5,746.4 393,745.7 394.5,745.4 396,745.6 397.5,746 399,746.5 400.5,746.7 402,746.5 403.5,746.2 405,746.1 406.5,746.1 408,746 409.5,745.9 411,746.2 412.5,746.6 414,746.9 415.5,747.6 417,748.2 418.5,748.3 420,748.2 421.5,748.1 423,747.9 424.5,747.8 426,747.9 427.5,748.4 429,749.3 430.5,750.7 432,752.2 433.5,753.4 435,753.9 436.5,753.3 438,751.7 439.5,749.6 441,747.5 442.5,746.1 444,745.6 445.5,745.9 447,746.5 448.5,747.1 450,747.2 451.5,747 453,746.4 454.5,745.7"/>
<polyline points="115.5,749 117,749.1 118.5,749.2 120,749.2 121.5,749.3 123,749.3 124.5,749.2 126,749.1 127.5,749 129,748.9 130.5,748.7 132,748.6 133.5,748.4 135,748.3 136.5,748.2 138,748 139.5,747.9 141,747.9 142.5,748 144,748.1 145.5,748.2 147,748.4 148.5,748.5 150,748.6 151.5,748.7 153,748.7 154.5,748.8 156,749 157.5,749.1 159,749.2 160.5,749.2 162,749.2 163.5,749.1 165,749.1 166.5,749.1 168,749.1 169.5,749.1 171,749.1 172.5,749.1 174,749.1 175.5,749 177,749 178.5,748.9 180,748.9 181.5,748.8 183,748.7 184.5,748.6 186,748.6 187.5,748.5 189,748.5 190.5,748.6 192,748.6 193.5,748.6 195,748.6 196.5,748.6 198,748.6 199.5,748.6 201,748.6 202.5,748.5 204,748.4 205.5,748.3 207,748.2 208.5,748.2 210,748.1 211.5,748.1 213,748 214.5,748 216,748 217.5,748 219,747.9 220.5,747.9 222,747.8 223.5,747.8 225,747.7 226.5,747.7 228,747.8 229.5,747.9 231,748 232.5,747.9 234,747.8 235.5,747.7 237,747.8 238.5,748.2 240,748.8 241.5,749.3 243,749.6 244.5,749.6 246,749.5 247.5,749.5 249,749.8 250.5,750.6 252,751.7 253.5,753.4 255,755 256.5,755.1 258,753.9 259.5,752.1 261,749.5 262.5,746.9 264,746.1 265.5,747.4 267,749.9 268.5,752.9 270,753.8 271.5,751.9 273,749.2 274.5,746.4 276,742.9 277.5,739.8 279,738.3 280.5,738.5 282,739.9 283.5,742.7 285,745.8 286.5,746.8 288,746.7 289.5,747 291,747.3 292.5,747.7 294,748.2 295.5,748.7 297,748.8 298.5,749 300,749.3 301.5,749.7 303,750.4 304.5,751.4 306,752.4 307.5,753 309,753 310.5,752.5 312,751.5 313.5,750.4 315,750.4 316.5,751.2 318,752.1 319.5,752.4 321,752 322.5,751.2 324,750.1 325.5,748.6 327,747.2 328.5,746.4 330,746.3 331.5,746.6 333,747 334.5,747.3 336,747.4 337.5,747.5 339,747.8 340.5,748.3 342,748.8 343.5,749.3 345,749.5 346.5,749.2 348,748.5 349.5,747.6 351,746.5 352.5,745.7 354,745.3 355.5,745.2 357,745.5 358.5,746 360,746.9 361.5,747.8 363,748.7 364.5,749.3 366,749.9 367.5,750.5 369,750.7 370.5,751 372,751.3 373.5,751.4 375,751.3 376.5,751.1 378,750.8 379.5,750.5 381,750.3 382.5,750.1 384,749.8 385.5,749.4 387,749 388.5,748.6 390,748.4 391.5,748.3 393,748.3 394.5,748.4 396,748.7 397.5,749.2 399,749.3 400.5,749.1 402,748.4 403.5,747.4 405,746.3 406.5,745.2 408,744.1 409.5,743.7 411,744.2 412.5,745.2 414,746.9 415.5,748.9 417,750.4 418.5,751.3 420,751.7 421.5,751.6 423,751 424.5,750.2 426,749.4 427.5,749.1 429,749.3 430.5,750 432,750.9 433.5,751.7 435,752 436.5,751.6 438,750.7 439.5,749.6 441,748.6 442.5,748 444,748.1 445.5,748.5 447,748.9 448.5,749.2 450,749.1 451.5,748.7 453,747.9 454.5,746.8"/>
<polyline points="115.5,749.9 117,749.9 118.5,749.9 120,749.9 121.5,749.9 123,749.9 124.5,749.8 126,749.8 127.5,749.7 129,749.7 130.5,749.7 132,749.7 133.5,749.6 135,749.7 136.5,749.6 138,749.6 139.5,749.5 141,749.3 142.5,749.2 144,749.2 145.5,749.2 147,749.2 148.5,749.2 150,749.3 151.5,749.3 153,749.4 154.5,749.5 156,749.7 157.5,749.9 159,750.2 160.5,750.4 162,750.5 163.5,750.5 165,750.6 166.5,750.5 168,750.5 169.5,750.4 171,750.3 172.5,750.2 174,750 175.5,749.9 177,749.8 178.5,749.7 180,749.6 181.5,749.5 183,749.4 184.5,749.3 186,749.3 187.5,749.3 189,749.4 190.5,749.5 192,749.6 193.5,749.7 195,749.8 196.5,749.9 198,750 199.5,750 201,750 202.5,750 204,749.9 205.5,749.8 207,749.6 208.5,749.4 210,749.2 211.5,749.1 213,748.9 214.5,748.8 216,748.7 217.5,748.6 219,748.5 220.5,748.5 222,748.5 223.5,748.5 225,748.5 226.5,748.6 228,748.7 229.5,748.8 231,749 232.5,749.1 234,749.1 235.5,748.9 237,748.7 238.5,748.6 240,748.8 241.5,749.3 243,749.8 244.5,750.2 246,750.3 247.5,750.2 249,750.2 250.5,750.6 252,751.5 253.5,752.9 255,755 256.5,757.4 258,758.3 259.5,757.4 261,755.6 262.5,752.8 264,749.4 265.5,747.6 267,748.1 268.5,749.7 270,752.4 271.5,753.4 273,751.2 274.5,748.3 276,746 277.5,743.4 279,740.9 280.5,739.6 282,740.1 283.5,741.2 285,743.5 286.5,746.4 288,747.4 289.5,746.4 291,746.2 292.5,746.1 294,746.2 295.5,746.7 297,747.4 298.5,748 300,749 301.5,750.3 303,751.9 304.5,753.6 306,755.3 307.5,756.6 309,757.3 310.5,757.1 312,756.1 313.5,754.7 315,752.9 316.5,751.9 318,751.7 319.5,751.7 321,751.2 322.5,750.4 324,749.6 325.5,749.4 327,749.5 328.5,749.8 330,750.3 331.5,750.7 333,750.6 334.5,749.6 336,748 337.5,746.1 339,744.8 340.5,744.6 342,745.6 343.5,747.3 345,749.1 346.5,750.4 348,750.9 349.5,750.6 351,749.8 352.5,749 354,748.6 355.5,748.4 357,748.4 358.5,748.3 360,747.9 361.5,747.5 363,747.3 364.5,747.6 366,748.3 367.5,749.5 369,751.2 370.5,752.4 372,753.1 373.5,753.3 375,752.9 376.5,752.2 378,751.5 379.5,751.2 381,751.5 382.5,752.1 384,752.5 385.5,752.3 387,751.4 388.5,750.1 390,748.7 391.5,747.8 393,747.6 394.5,748.2 396,749.3 397.5,750.6 399,751.8 400.5,752.1 402,751.4 403.5,749.9 405,747.9 406.5,745.9 408,744.2 409.5,742.8 411,742.4 412.5,743.3 414,745.1 415.5,747.6 417,750.8 418.5,753.4 420,755.1 421.5,755.6 423,755 424.5,753.4 426,751.3 427.5,749.2 429,748.1 430.5,748.3 432,749.6 433.5,751.6 435,753.7 436.5,755 438,755.1 439.5,754 441,752.1 442.5,750.2 444,748.9 445.5,748.3 447,748.3 448.5,748.6 450,748.6 451.5,748.3 453,747.7 454.5,747.1"/>
<polyline points="115.5,750.3 117,750.3 118.5,750.3 120,750.3 121.5,750.4 123,750.4 124.5,750.5 126,750.5 127.5,750.6 129,750.7 130.5,750.8 132,750.8 133.5,750.9 135,750.9 136.5,750.9 138,750.8 139.5,750.7 141,750.6 142.5,750.6 144,750.6 145.5,750.6 147,750.6 148.5,750.6 150,750.5 151.5,750.5 153,750.6 154.5,750.6 156,750.7 157.5,750.9 159,751 160.5,751 162,751 163.5,750.9 165,750.8 166.5,750.8 168,750.7 169.5,750.6 171,750.5 172.5,750.5 174,750.4 175.5,750.4 177,750.4 178.5,750.4 180,750.4 181.5,750.4 183,750.4 184.5,750.4 186,750.5 187.5,750.6 189,750.7 190.5,750.8 192,750.9 193.5,751 195,751.1 196.5,751.1 198,751.2 199.5,751.2 201,751.1 202.5,751.1 204,751 205.5,750.8 207,750.6 208.5,750.4 210,750.2 211.5,750 213,749.8 214.5,749.7 216,749.5 217.5,749.3 219,749.2 220.5,749.1 222,749 223.5,749 225,749 226.5,749.1 228,749.2 229.5,749.4 231,749.5 232.5,749.6 234,749.5 235.5,749.5 237,749.6 238.5,749.9 240,750.5 241.5,751.1 243,751.4 244.5,751.5 246,751.5 247.5,751.6 249,752.1 250.5,752.9 252,754.2 253.5,756.1 255,757.9 256.5,758.3 258,757.4 259.5,755.9 261,753.3 262.5,750.4 264,749 265.5,749.4 267,750.9 268.5,752.9 270,753.1 271.5,750.7 273,747.8 274.5,745.4 276,743 277.5,741.1 279,740.8 280.5,742.2 282,744.1 283.5,747 285,749.7 286.5,749.8 288,748.3 289.5,747.5 291,746.8 292.5,746.8 294,747.6 295.5,748.7 297,749.7 298.5,750.6 300,751.6 301.5,752.5 303,753.6 304.5,754.8 306,756.2 307.5,757.2 309,757.7 310.5,757.4 312,756.2 313.5,754.5 315,753.2 316.5,752.5 318,751.8 319.5,751 321,750 322.5,749.3 324,749.2 325.5,749.2 327,749.5 328.5,750.2 330,751.1 331.5,751.7 333,751.9 334.5,751.2 336,750.1 337.5,748.8 339,747.9 340.5,747.5 342,747.6 343.5,748 345,748.5 346.5,749 348,749.2 349.5,749.4 351,749.5 352.5,749.7 354,750 355.5,750.2 357,750.3 358.5,750.2 360,750.1 361.5,750.1 363,750.1 364.5,750.1 366,750.3 367.5,750.9 369,751.3 370.5,751.9 372,752.4 373.5,752.7 375,752.8 376.5,752.9 378,753 379.5,753.3 381,753.7 382.5,754 384,753.8 385.5,753.2 387,752.1 388.5,750.7 390,749.3 391.5,748.2 393,747.6 394.5,747.7 396,748.6 397.5,749.8 399,750.9 400.5,751.4 402,751.1 403.5,750.2 405,748.9 406.5,747.4 408,746.1 409.5,745.5 411,746.1 412.5,747.2 414,749 415.5,751.1 417,752.5 418.5,753.1 420,753.2 421.5,752.9 423,752.3 424.5,751.8 426,751.6 427.5,751.9 429,752.7 430.5,753.7 432,754.7 433.5,755.4 435,755.3 436.5,754.4 438,752.8 439.5,751.1 441,749.4 442.5,748.4 444,748 445.5,748.2 447,748.7 448.5,749.3 450,749.9 451.5,750.3 453,750.4 454.5,750"/>
<polyline points="115.5,751.3 117,751.2 118.5,751.2 120,751.2 121.5,751.3 123,751.4 124.5,751.6 126,751.7 127.5,751.8 129,751.9 130.5,752 132,752 133.5,751.9 135,751.8 136.5,751.6 138,751.4 139.5,751.1 141,750.8 142.5,750.5 144,750.4 145.5,750.3 147,750.3 148.5,750.4 150,750.6 151.5,750.8 153,751 154.5,751.2 156,751.4 157.5,751.7 159,752 160.5,752.2 162,752.3 163.5,752.3 165,752.3 166.5,752.3 168,752.2 169.5,752.2 171,752.1 172.5,752 174,752 175.5,751.9 177,751.8 178.5,751.6 180,751.5 181.5,751.3 183,751.1 184.5,750.9 186,750.7 187.5,750.6 189,750.5 190.5,750.6 192,750.7 193.5,750.8 195,751 196.5,751.3 198,751.5 199.5,751.7 201,751.9 202.5,752 204,752 205.5,752 207,751.8 208.5,751.6 210,751.4 211.5,751.1 213,750.9 214.5,750.7 216,750.5 217.5,750.4 219,750.3 220.5,750.3 222,750.2 223.5,750.2 225,750.3 226.5,750.3 228,750.4 229.5,750.4 231,750.5 232.5,750.6 234,750.5 235.5,750.4 237,750.2 238.5,750.1 240,750.4 241.5,750.9 243,751.5 244.5,751.9 246,752.1 247.5,752.1 249,752.2 250.5,752.6 252,753.4 253.5,754.5 255,756.3 256.5,758.1 258,758.4 259.5,757.3 261,755.5 262.5,753.1 264,750.4 265.5,749.5 267,750.9 268.5,753.5 270,756.9 271.5,758.3 273,756.4 274.5,752.8 276,749 277.5,744.6 279,740.8 280.5,738.9 282,739.2 283.5,740.9 285,744 286.5,747.6 288,749 289.5,748.5 291,748.4 292.5,748.4 294,748.7 295.5,749.8 297,751.3 298.5,752.6 300,753.8 301.5,754.9 303,755.6 304.5,756.1 306,756.5 307.5,756.6 309,756.4 310.5,755.6 312,754.4 313.5,752.9 315,751.3 316.5,750.7 318,751.2 319.5,752.2 321,753 322.5,753.5 324,753.7 325.5,753.8 327,753.6 328.5,753 330,752.5 331.5,752.2 333,751.8 334.5,751.2 336,750.2 337.5,748.9 339,747.8 340.5,747.1 342,747 343.5,747.5 345,748.3 346.5,749.4 348,750.4 349.5,751.4 351,752.2 352.5,752.9 354,753.4 355.5,753.7 357,753.4 358.5,752.6 360,751.2 361.5,749.6 363,748.2 364.5,747.2 366,746.7 367.5,747.1 369,748.6 370.5,750.4 372,752.5 373.5,754.5 375,756 376.5,756.5 378,756.3 379.5,755.5 381,754.6 382.5,753.8 384,753.2 385.5,752.7 387,752.4 388.5,752.1 390,751.8 391.5,751.5 393,751.3 394.5,751 396,750.8 397.5,750.7 399,750.6 400.5,750.4 402,749.9 403.5,749 405,748.2 406.5,747.6 408,747.4 409.5,747.5 411,748.3 412.5,749.9 414,751.6 415.5,753.3 417,754.8 418.5,755.2 420,754.6 421.5,753.3 423,751.8 424.5,750.4 426,749.3 427.5,748.7 429,749.1 430.5,750.2 432,751.7 433.5,753.5 435,755 436.5,756.1 438,756.4 439.5,756 441,755.2 442.5,754.3 444,753.4 445.5,752.7 447,752 448.5,751.2 450,750.1 451.5,749.1 453,748.1 454.5,747.3"/>
</g>
<rect x="115.5" y="155.5" width="340" height="623" fill="none" stroke="#000" stroke-width="1.3"/>
<path d="M115.5 198.2h6M455.5 198.2h-6M115.5 260.3h6M455.5 260.3h-6M115.5 322.4h6M455.5 322.4h-6M115.5 384.4h6M455.5 384.4h-6M115.5 446.5h6M455.5 446.5h-6M115.5 508.6h6M455.5 508.6h-6M115.5 570.7h6M455.5 570.7h-6M115.5 632.8h6M455.5 632.8h-6M115.5 694.8h6M455.5 694.8h-6M115.5 756.9h6M455.5 756.9h-6M183.5 778.5v-6M183.5 155.5v6M251.5 778.5v-6M251.5 155.5v6M319.5 778.5v-6M319.5 155.5v6M387.5 778.5v-6M387.5 155.5v6" stroke="#000" stroke-width="1.1" fill="none"/>
<text transform="translate(107.9,206.6) scale(1,1.075)" text-anchor="end" class="t" style="font-size:18.7px">75.5</text>
<text transform="translate(107.9,268.7) scale(1,1.075)" text-anchor="end" class="t" style="font-size:18.7px">75</text>
<text transform="translate(107.9,330.8) scale(1,1.075)" text-anchor="end" class="t" style="font-size:18.7px">74.5</text>
<text transform="translate(107.9,392.8) scale(1,1.075)" text-anchor="end" class="t" style="font-size:18.7px">74</text>
<text transform="translate(107.9,454.9) scale(1,1.075)" text-anchor="end" class="t" style="font-size:18.7px">73.5</text>
<text transform="translate(107.9,517) scale(1,1.075)" text-anchor="end" class="t" style="font-size:18.7px">73</text>
<text transform="translate(107.9,579.1) scale(1,1.075)" text-anchor="end" class="t" style="font-size:18.7px">72.5</text>
<text transform="translate(107.9,641.2) scale(1,1.075)" text-anchor="end" class="t" style="font-size:18.7px">72</text>
<text transform="translate(71.5,703.2) scale(1,1.075)" class="t" style="font-size:18.7px">7</text><path d="M89.6 703.2L89.6 688.8L88.2 688.8C87.9 690.4 86.6 691.2 84 691.3L84 692.6L87.7 692.6L87.7 703.2Z" fill="#000"/><text transform="translate(92.3,703.2) scale(1,1.075)" class="t" style="font-size:18.7px">.5</text>
<text transform="translate(87.1,765.3) scale(1,1.075)" class="t" style="font-size:18.7px">7</text><path d="M105.2 765.3L105.2 750.9L103.8 750.9C103.5 752.5 102.2 753.3 99.6 753.4L99.6 754.7L103.3 754.7L103.3 765.3Z" fill="#000"/>
<text transform="translate(112.7,808.2) scale(1,1.075)" text-anchor="middle" class="t" style="font-size:18.7px">-20</text>
<text transform="translate(167.2,808.2) scale(1,1.075)" class="t" style="font-size:18.7px">-</text><path d="M181.1 808.2L181.1 793.8L179.7 793.8C179.4 795.3 178.1 796.1 175.5 796.2L175.5 797.5L179.2 797.5L179.2 808.2Z" fill="#000"/><text transform="translate(183.8,808.2) scale(1,1.075)" class="t" style="font-size:18.7px">0</text>
<text transform="translate(251.2,808.2) scale(1,1.075)" text-anchor="middle" class="t" style="font-size:18.7px">0</text>
<path d="M316.5 808.2L316.5 793.8L315.1 793.8C314.8 795.3 313.5 796.1 310.9 796.2L310.9 797.5L314.6 797.5L314.6 808.2Z" fill="#000"/><text transform="translate(319.2,808.2) scale(1,1.075)" class="t" style="font-size:18.7px">0</text>
<text transform="translate(387.2,808.2) scale(1,1.075)" text-anchor="middle" class="t" style="font-size:18.7px">20</text>
<text transform="translate(455.2,808.2) scale(1,1.075)" text-anchor="middle" class="t" style="font-size:18.7px">30</text>
<text transform="translate(281.4,835.8) scale(1,1.07)" text-anchor="middle" class="t" style="font-size:19.15px">Time relative to P (sec)</text>
<text transform="translate(56.9,469.9) rotate(-90) scale(1,1.06)" text-anchor="middle" class="t" style="font-size:18.7px">Distance (deg)</text>
<g transform="translate(0,0)">
<text transform="translate(688.2,82.6) scale(1,0.98)" text-anchor="middle" class="t" style="font-size:18.95px">avg cross-corr coef.</text>
<clipPath id="mc0"><rect x="553.3" y="99.5" width="271.6" height="259.5"/></clipPath>
<g clip-path="url(#mc0)" fill="none" stroke="#000" stroke-width="1.05" stroke-linejoin="round">
<polyline points="559.5,99.5 562.2,101.8 565,104.5 567.3,107.8 566.4,110.5 568.2,113.3 572.4,116.1 577,118.4 581.6,119.8 586.3,122.1 590,124.4 592.7,126.7 595,130.9 596.9,135 598.3,138.7 599.6,141.7 601.7,143.1 603.7,146.4 602.5,149.8 599.6,152.1 595.5,152.1 591.8,150.7 587.2,148.9 582.6,147 579.8,144.7 576.1,144.3 571.5,142.4 569.6,141 570.1,138.3 572.4,136.9 570,138 567.8,138.7 564.1,136.9 562.2,134.1 562.7,132.3 565,131.3 566.9,130.9 565,130 562.2,129 559.9,130.4 556.7,130.9 553.5,130.9"/>
<polyline points="571.4,99.9 574.3,102.8 578.7,105.7 582.3,106 585.1,104.2 586.6,101.7 588.4,100.2 589.1,102.8 591.6,103.8 593.8,107.8 596.7,109.6 595.6,113.6 596.7,116.1 598.8,117.5 601,114.3 604.6,110.7 606,108.5 607.1,109.3 607.1,114.3 606,119.4 607.5,123 611.8,124 616.9,123 620.5,124 619.7,125.5 614.7,125.5 611.1,127.3 611.8,128.7 614.7,129.4 616.9,131.6 617.6,135.2 619.7,138.8 624.8,138.8 628.4,140.6 625.5,141 624.8,143.9 623.3,145.8 621.6,147.5 622.1,149.2 625.6,151.5 627.3,155 629.1,160.8 628.5,164.2 627.9,167.7 627.3,170 626.8,167.4 624.4,166.8 622.1,168.3 620.4,171.8 616.9,175.2 614,177.5 614.6,179.3 613.5,181.6 611.5,182.1 611.5,177 613.5,172.3 616.4,168.3 619.2,164.8 619.8,161.4 617.5,158.5 614,159.1 610,158.2 607.1,156.7 600.8,157 595,156.5 592.7,156.7 586.3,154.4 581.6,152.6 577,150.3 574.2,150.7 572.4,156.3 572.9,161.8 575.2,166.4 578.9,172.9 580.7,175.5 582.1,181.1 583.5,187.6 585.3,194 588.1,192.6 589.5,194.9 588.1,198.6 587.6,201.4 590.9,203.3 592.3,206 592.3,209.7 590,212 588.1,210.6 587.6,207 587.6,210 588.1,213.4 590,216.6 594.6,217.1 600.1,216.6 603.8,219 606.6,220.8 602.9,220.8 597.3,221.3 591.8,221.3 590.4,223.6 590,229.1 590.4,234.7 591.2,238 591.7,240 590.3,245.6 590.3,258.3 588.9,264 588.9,282.3 586.8,296.3 584.6,304.8 585.4,309 582.5,311.8 579.7,318.9 578.3,327.3 579.7,335.8 580.4,344.2 583.2,351.3 584.6,359"/>
</g>
<g stroke="#999" stroke-width="1.2" stroke-linejoin="round">
<path d="M636.3 195.2L643.7 207.6L628.9 207.6Z" fill="#f8c8c8"/>
<path d="M644.5 195.2L651.9 207.6L637.1 207.6Z" fill="#fad0d0"/>
<path d="M638.3 190.7L645.7 203L630.9 203Z" fill="#d05050"/>
<path d="M642.5 191.8L649.9 204.2L635.1 204.2Z" fill="#e89a9a"/>
<path d="M638.9 193.2L646.3 205.5L631.5 205.5Z" fill="#ffffff"/>
<path d="M635.5 191.3L642.9 203.7L628.1 203.7Z" fill="#f4a8a8"/>
<path d="M634.4 187.7L641.8 200L627 200Z" fill="#e89898"/>
<path d="M627.1 210.3L634.5 222.7L619.7 222.7Z" fill="#d05050"/>
<path d="M629.6 213L637 225.3L622.2 225.3Z" fill="#ffb8b8"/>
<path d="M640.5 240.8L647.9 253.2L633.1 253.2Z" fill="#e0a0a0"/>
<path d="M638.6 237.2L646 249.5L631.2 249.5Z" fill="#f0a8a8"/>
<path d="M641.8 238.2L649.2 250.6L634.4 250.6Z" fill="#e8a0a0"/>
<path d="M641 238.7L648.4 251L633.6 251Z" fill="#e8a0a0"/>
<path d="M640.2 239.2L647.6 251.5L632.8 251.5Z" fill="#f0a0a0"/>
<path d="M634.6 276.1L642 288.4L627.2 288.4Z" fill="#e89898"/>
<path d="M641.6 275L649 287.3L634.2 287.3Z" fill="#fcc4c4"/>
<path d="M637.6 281.4L645 293.8L630.2 293.8Z" fill="#e49898"/>
<path d="M638.3 282.1L645.7 294.4L630.9 294.4Z" fill="#e49898"/>
<path d="M649.2 288.2L656.6 300.6L641.8 300.6Z" fill="#e49898"/>
<path d="M654 291.2L661.4 303.6L646.6 303.6Z" fill="#e08888"/>
<path d="M651.5 292.6L658.9 304.9L644.1 304.9Z" fill="#f0b0b0"/>
<path d="M648.9 294.2L656.3 306.6L641.5 306.6Z" fill="#e89898"/>
<path d="M653.6 296.5L661 308.8L646.2 308.8Z" fill="#d87878"/>
<path d="M604 264.8L611.4 277.1L596.6 277.1Z" fill="#d07070"/>
<path d="M691.4 206.8L698.8 219.2L684 219.2Z" fill="#fcaaaa"/>
<path d="M720.5 161.8L727.9 174.2L713.1 174.2Z" fill="#cd6464"/>
<path d="M747.5 146.8L754.9 159.2L740.1 159.2Z" fill="#e09090"/>
<path d="M743.2 256L750.6 268.2L735.8 268.2Z" fill="#d07878"/>
<path d="M773.6 247.8L781 260.1L766.2 260.1Z" fill="#fdaeae"/>
</g>
<rect x="553.3" y="99.5" width="271.6" height="259.5" fill="none" stroke="#000" stroke-width="1.3"/>
<path d="M553.3 99.5h2.5M824.9 99.5h-2.5M553.3 163.3h2.5M824.9 163.3h-2.5M553.3 227.1h2.5M824.9 227.1h-2.5M553.3 290.9h2.5M824.9 290.9h-2.5M553.3 354.7h2.5M824.9 354.7h-2.5M565 359v-2.5M565 99.5v2.5M681.1 359v-2.5M681.1 99.5v2.5M797.2 359v-2.5M797.2 99.5v2.5" stroke="#000" stroke-width="1.1" fill="none"/>
<text transform="translate(545.2,107.8) scale(1,1.075)" text-anchor="end" class="t" style="font-size:18.7px">50</text>
<text transform="translate(545.2,171.6) scale(1,1.075)" text-anchor="end" class="t" style="font-size:18.7px">48</text>
<text transform="translate(545.2,235.4) scale(1,1.075)" text-anchor="end" class="t" style="font-size:18.7px">46</text>
<text transform="translate(545.2,299.2) scale(1,1.075)" text-anchor="end" class="t" style="font-size:18.7px">44</text>
<text transform="translate(545.2,363) scale(1,1.075)" text-anchor="end" class="t" style="font-size:18.7px">42</text>
<text transform="translate(564.4,387.8) scale(1,1.075)" text-anchor="middle" class="t" style="font-size:18.7px">235</text>
<text transform="translate(680.5,387.8) scale(1,1.075)" text-anchor="middle" class="t" style="font-size:18.7px">240</text>
<text transform="translate(796.6,387.8) scale(1,1.075)" text-anchor="middle" class="t" style="font-size:18.7px">245</text>
<path d="M808.7 152v154.6M803.5 152h11M803.5 306.6h11" stroke="#222" stroke-width="1.1" fill="none"/>
<text transform="translate(844.2,250.9) rotate(-90) scale(1,1.04)" text-anchor="middle" class="t" style="font-size:19.1px">540 km</text>
<rect x="861.8" y="99.4" width="40.8" height="8.5" fill="#7f0000"/>
<rect x="861.8" y="107.3" width="40.8" height="8.5" fill="#8f0000"/>
<rect x="861.8" y="115.2" width="40.8" height="8.5" fill="#9e0000"/>
<rect x="861.8" y="123.1" width="40.8" height="8.5" fill="#a81c1c"/>
<rect x="861.8" y="131" width="40.8" height="8.5" fill="#b03434"/>
<rect x="861.8" y="138.9" width="40.8" height="8.5" fill="#bb4c4c"/>
<rect x="861.8" y="146.8" width="40.8" height="8.5" fill="#cc6464"/>
<rect x="861.8" y="154.7" width="40.8" height="8.5" fill="#d87c7c"/>
<rect x="861.8" y="162.6" width="40.8" height="8.5" fill="#e29494"/>
<rect x="861.8" y="170.6" width="40.8" height="8.5" fill="#eea4a4"/>
<rect x="861.8" y="178.5" width="40.8" height="8.5" fill="#ffb0b0"/>
<rect x="861.8" y="186.4" width="40.8" height="8.5" fill="#ffbcbc"/>
<rect x="861.8" y="194.3" width="40.8" height="8.5" fill="#ffc8c8"/>
<rect x="861.8" y="202.2" width="40.8" height="8.5" fill="#ffd4d4"/>
<rect x="861.8" y="210.1" width="40.8" height="8.5" fill="#ffe0e0"/>
<rect x="861.8" y="218" width="40.8" height="8.5" fill="#ffeeee"/>
<rect x="861.8" y="225.9" width="40.8" height="8.5" fill="#ffffff"/>
<rect x="861.8" y="233.8" width="40.8" height="8.5" fill="#f0f0ff"/>
<rect x="861.8" y="241.7" width="40.8" height="8.5" fill="#e4e4ff"/>
<rect x="861.8" y="249.6" width="40.8" height="8.5" fill="#d8d8ff"/>
<rect x="861.8" y="257.5" width="40.8" height="8.5" fill="#ccccff"/>
<rect x="861.8" y="265.4" width="40.8" height="8.5" fill="#c0c0ff"/>
<rect x="861.8" y="273.3" width="40.8" height="8.5" fill="#b0b0fc"/>
<rect x="861.8" y="281.2" width="40.8" height="8.5" fill="#a4a4ee"/>
<rect x="861.8" y="289.1" width="40.8" height="8.5" fill="#9494e2"/>
<rect x="861.8" y="297.1" width="40.8" height="8.5" fill="#7c7cd4"/>
<rect x="861.8" y="305" width="40.8" height="8.5" fill="#6464c8"/>
<rect x="861.8" y="312.9" width="40.8" height="8.5" fill="#4c4cb8"/>
<rect x="861.8" y="320.8" width="40.8" height="8.5" fill="#3434a8"/>
<rect x="861.8" y="328.7" width="40.8" height="8.5" fill="#1c1c98"/>
<rect x="861.8" y="336.6" width="40.8" height="8.5" fill="#00008f"/>
<rect x="861.8" y="344.5" width="40.8" height="8.5" fill="#000087"/>
<rect x="861.8" y="352.4" width="40.8" height="8.5" fill="#00007f"/>
<rect x="861.8" y="99.4" width="40.8" height="260.9" fill="none" stroke="#000" stroke-width="1.3"/>
<path d="M917.3 107.2L917.3 92.8L915.9 92.8C915.6 94.3 914.3 95.1 911.7 95.2L911.7 96.5L915.4 96.5L915.4 107.2Z" fill="#000"/>
<text transform="translate(909.6,172.4) scale(1,1.075)" class="t" style="font-size:18.7px">0.9</text>
<text transform="translate(909.6,237.7) scale(1,1.075)" class="t" style="font-size:18.7px">0.8</text>
<text transform="translate(909.6,302.9) scale(1,1.075)" class="t" style="font-size:18.7px">0.7</text>
<text transform="translate(909.6,368.1) scale(1,1.075)" class="t" style="font-size:18.7px">0.6</text>
<path d="M861.8 164.6h2.5M902.6 164.6h-2.5M861.8 229.8h2.5M902.6 229.8h-2.5M861.8 295.1h2.5M902.6 295.1h-2.5" stroke="#000" stroke-width="1.1" fill="none"/>
</g>
<g transform="translate(0,329.3)">
<text transform="translate(688.2,82.6) scale(1,0.98)" text-anchor="middle" class="t" style="font-size:18.95px">avg dt (sec)</text>
<clipPath id="mc1"><rect x="553.3" y="99.5" width="271.6" height="259.5"/></clipPath>
<g clip-path="url(#mc1)" fill="none" stroke="#000" stroke-width="1.05" stroke-linejoin="round">
<polyline points="559.5,99.5 562.2,101.8 565,104.5 567.3,107.8 566.4,110.5 568.2,113.3 572.4,116.1 577,118.4 581.6,119.8 586.3,122.1 590,124.4 592.7,126.7 595,130.9 596.9,135 598.3,138.7 599.6,141.7 601.7,143.1 603.7,146.4 602.5,149.8 599.6,152.1 595.5,152.1 591.8,150.7 587.2,148.9 582.6,147 579.8,144.7 576.1,144.3 571.5,142.4 569.6,141 570.1,138.3 572.4,136.9 570,138 567.8,138.7 564.1,136.9 562.2,134.1 562.7,132.3 565,131.3 566.9,130.9 565,130 562.2,129 559.9,130.4 556.7,130.9 553.5,130.9"/>
<polyline points="571.4,99.9 574.3,102.8 578.7,105.7 582.3,106 585.1,104.2 586.6,101.7 588.4,100.2 589.1,102.8 591.6,103.8 593.8,107.8 596.7,109.6 595.6,113.6 596.7,116.1 598.8,117.5 601,114.3 604.6,110.7 606,108.5 607.1,109.3 607.1,114.3 606,119.4 607.5,123 611.8,124 616.9,123 620.5,124 619.7,125.5 614.7,125.5 611.1,127.3 611.8,128.7 614.7,129.4 616.9,131.6 617.6,135.2 619.7,138.8 624.8,138.8 628.4,140.6 625.5,141 624.8,143.9 623.3,145.8 621.6,147.5 622.1,149.2 625.6,151.5 627.3,155 629.1,160.8 628.5,164.2 627.9,167.7 627.3,170 626.8,167.4 624.4,166.8 622.1,168.3 620.4,171.8 616.9,175.2 614,177.5 614.6,179.3 613.5,181.6 611.5,182.1 611.5,177 613.5,172.3 616.4,168.3 619.2,164.8 619.8,161.4 617.5,158.5 614,159.1 610,158.2 607.1,156.7 600.8,157 595,156.5 592.7,156.7 586.3,154.4 581.6,152.6 577,150.3 574.2,150.7 572.4,156.3 572.9,161.8 575.2,166.4 578.9,172.9 580.7,175.5 582.1,181.1 583.5,187.6 585.3,194 588.1,192.6 589.5,194.9 588.1,198.6 587.6,201.4 590.9,203.3 592.3,206 592.3,209.7 590,212 588.1,210.6 587.6,207 587.6,210 588.1,213.4 590,216.6 594.6,217.1 600.1,216.6 603.8,219 606.6,220.8 602.9,220.8 597.3,221.3 591.8,221.3 590.4,223.6 590,229.1 590.4,234.7 591.2,238 591.7,240 590.3,245.6 590.3,258.3 588.9,264 588.9,282.3 586.8,296.3 584.6,304.8 585.4,309 582.5,311.8 579.7,318.9 578.3,327.3 579.7,335.8 580.4,344.2 583.2,351.3 584.6,359"/>
</g>
<g stroke="#999" stroke-width="1.2" stroke-linejoin="round">
<path d="M636.3 195.2L643.7 207.6L628.9 207.6Z" fill="#fce8e8"/>
<path d="M644.5 195.2L651.9 207.6L637.1 207.6Z" fill="#fcecec"/>
<path d="M638.3 190.7L645.7 203L630.9 203Z" fill="#f4f4ff"/>
<path d="M642.5 191.8L649.9 204.2L635.1 204.2Z" fill="#e8e8f8"/>
<path d="M638.9 193.2L646.3 205.5L631.5 205.5Z" fill="#ffffff"/>
<path d="M635.5 191.3L642.9 203.7L628.1 203.7Z" fill="#e8e8fc"/>
<path d="M634.4 187.7L641.8 200L627 200Z" fill="#ececfc"/>
<path d="M627.1 210.3L634.5 222.7L619.7 222.7Z" fill="#ffffff"/>
<path d="M629.6 213L637 225.3L622.2 225.3Z" fill="#dcdcf8"/>
<path d="M640.5 240.8L647.9 253.2L633.1 253.2Z" fill="#f4f4ff"/>
<path d="M638.6 237.2L646 249.5L631.2 249.5Z" fill="#ffffff"/>
<path d="M641.8 238.2L649.2 250.6L634.4 250.6Z" fill="#ffffff"/>
<path d="M641 238.7L648.4 251L633.6 251Z" fill="#ffffff"/>
<path d="M640.2 239.2L647.6 251.5L632.8 251.5Z" fill="#fcfcff"/>
<path d="M634.6 276.1L642 288.4L627.2 288.4Z" fill="#fce8e8"/>
<path d="M641.6 275L649 287.3L634.2 287.3Z" fill="#ffffff"/>
<path d="M637.6 281.4L645 293.8L630.2 293.8Z" fill="#e4e4fc"/>
<path d="M638.3 282.1L645.7 294.4L630.9 294.4Z" fill="#e0e0fc"/>
<path d="M649.2 288.2L656.6 300.6L641.8 300.6Z" fill="#dcdcf8"/>
<path d="M654 291.2L661.4 303.6L646.6 303.6Z" fill="#e4e4fc"/>
<path d="M651.5 292.6L658.9 304.9L644.1 304.9Z" fill="#e8e8fc"/>
<path d="M648.9 294.2L656.3 306.6L641.5 306.6Z" fill="#e0e0f8"/>
<path d="M653.6 296.5L661 308.8L646.2 308.8Z" fill="#dcdcf8"/>
<path d="M604 264.8L611.4 277.1L596.6 277.1Z" fill="#dcdcf8"/>
<path d="M691.4 206.8L698.8 219.2L684 219.2Z" fill="#ffe0e0"/>
<path d="M720.5 161.8L727.9 174.2L713.1 174.2Z" fill="#ffc4c4"/>
<path d="M747.5 146.8L754.9 159.2L740.1 159.2Z" fill="#ffd0d0"/>
<path d="M743.2 256L750.6 268.2L735.8 268.2Z" fill="#ffe0e0"/>
<path d="M773.6 247.8L781 260.1L766.2 260.1Z" fill="#ffd0d0"/>
</g>
<rect x="553.3" y="99.5" width="271.6" height="259.5" fill="none" stroke="#000" stroke-width="1.3"/>
<path d="M553.3 99.5h2.5M824.9 99.5h-2.5M553.3 163.3h2.5M824.9 163.3h-2.5M553.3 227.1h2.5M824.9 227.1h-2.5M553.3 290.9h2.5M824.9 290.9h-2.5M553.3 354.7h2.5M824.9 354.7h-2.5M565 359v-2.5M565 99.5v2.5M681.1 359v-2.5M681.1 99.5v2.5M797.2 359v-2.5M797.2 99.5v2.5" stroke="#000" stroke-width="1.1" fill="none"/>
<text transform="translate(545.2,107.8) scale(1,1.075)" text-anchor="end" class="t" style="font-size:18.7px">50</text>
<text transform="translate(545.2,171.6) scale(1,1.075)" text-anchor="end" class="t" style="font-size:18.7px">48</text>
<text transform="translate(545.2,235.4) scale(1,1.075)" text-anchor="end" class="t" style="font-size:18.7px">46</text>
<text transform="translate(545.2,299.2) scale(1,1.075)" text-anchor="end" class="t" style="font-size:18.7px">44</text>
<text transform="translate(545.2,363) scale(1,1.075)" text-anchor="end" class="t" style="font-size:18.7px">42</text>
<text transform="translate(564.4,387.8) scale(1,1.075)" text-anchor="middle" class="t" style="font-size:18.7px">235</text>
<text transform="translate(680.5,387.8) scale(1,1.075)" text-anchor="middle" class="t" style="font-size:18.7px">240</text>
<text transform="translate(796.6,387.8) scale(1,1.075)" text-anchor="middle" class="t" style="font-size:18.7px">245</text>
<path d="M808.7 152v154.6M803.5 152h11M803.5 306.6h11" stroke="#222" stroke-width="1.1" fill="none"/>
<text transform="translate(844.2,250.9) rotate(-90) scale(1,1.04)" text-anchor="middle" class="t" style="font-size:19.1px">540 km</text>
<rect x="861.8" y="99.4" width="40.8" height="8.5" fill="#7f0000"/>
<rect x="861.8" y="107.3" width="40.8" height="8.5" fill="#8f0000"/>
<rect x="861.8" y="115.2" width="40.8" height="8.5" fill="#9e0000"/>
<rect x="861.8" y="123.1" width="40.8" height="8.5" fill="#a81c1c"/>
<rect x="861.8" y="131" width="40.8" height="8.5" fill="#b03434"/>
<rect x="861.8" y="138.9" width="40.8" height="8.5" fill="#bb4c4c"/>
<rect x="861.8" y="146.8" width="40.8" height="8.5" fill="#cc6464"/>
<rect x="861.8" y="154.7" width="40.8" height="8.5" fill="#d87c7c"/>
<rect x="861.8" y="162.6" width="40.8" height="8.5" fill="#e29494"/>
<rect x="861.8" y="170.6" width="40.8" height="8.5" fill="#eea4a4"/>
<rect x="861.8" y="178.5" width="40.8" height="8.5" fill="#ffb0b0"/>
<rect x="861.8" y="186.4" width="40.8" height="8.5" fill="#ffbcbc"/>
<rect x="861.8" y="194.3" width="40.8" height="8.5" fill="#ffc8c8"/>
<rect x="861.8" y="202.2" width="40.8" height="8.5" fill="#ffd4d4"/>
<rect x="861.8" y="210.1" width="40.8" height="8.5" fill="#ffe0e0"/>
<rect x="861.8" y="218" width="40.8" height="8.5" fill="#ffeeee"/>
<rect x="861.8" y="225.9" width="40.8" height="8.5" fill="#ffffff"/>
<rect x="861.8" y="233.8" width="40.8" height="8.5" fill="#f0f0ff"/>
<rect x="861.8" y="241.7" width="40.8" height="8.5" fill="#e4e4ff"/>
<rect x="861.8" y="249.6" width="40.8" height="8.5" fill="#d8d8ff"/>
<rect x="861.8" y="257.5" width="40.8" height="8.5" fill="#ccccff"/>
<rect x="861.8" y="265.4" width="40.8" height="8.5" fill="#c0c0ff"/>
<rect x="861.8" y="273.3" width="40.8" height="8.5" fill="#b0b0fc"/>
<rect x="861.8" y="281.2" width="40.8" height="8.5" fill="#a4a4ee"/>
<rect x="861.8" y="289.1" width="40.8" height="8.5" fill="#9494e2"/>
<rect x="861.8" y="297.1" width="40.8" height="8.5" fill="#7c7cd4"/>
<rect x="861.8" y="305" width="40.8" height="8.5" fill="#6464c8"/>
<rect x="861.8" y="312.9" width="40.8" height="8.5" fill="#4c4cb8"/>
<rect x="861.8" y="320.8" width="40.8" height="8.5" fill="#3434a8"/>
<rect x="861.8" y="328.7" width="40.8" height="8.5" fill="#1c1c98"/>
<rect x="861.8" y="336.6" width="40.8" height="8.5" fill="#00008f"/>
<rect x="861.8" y="344.5" width="40.8" height="8.5" fill="#000087"/>
<rect x="861.8" y="352.4" width="40.8" height="8.5" fill="#00007f"/>
<rect x="861.8" y="99.4" width="40.8" height="260.9" fill="none" stroke="#000" stroke-width="1.3"/>
<text transform="translate(909.6,107.2) scale(1,1.075)" class="t" style="font-size:18.7px">&gt;3</text>
<text transform="translate(909.6,150.7) scale(1,1.075)" class="t" style="font-size:18.7px">2</text>
<path d="M917.3 194.2L917.3 179.8L915.9 179.8C915.6 181.3 914.3 182.1 911.7 182.2L911.7 183.5L915.4 183.5L915.4 194.2Z" fill="#000"/>
<text transform="translate(909.6,237.7) scale(1,1.075)" class="t" style="font-size:18.7px">0</text>
<text transform="translate(909.1,281.1) scale(1,1.075)" class="t" style="font-size:18.7px">-</text><path d="M923 281.1L923 266.7L921.6 266.7C921.3 268.3 920 269.1 917.4 269.2L917.4 270.5L921.1 270.5L921.1 281.1Z" fill="#000"/>
<text transform="translate(909.1,324.6) scale(1,1.075)" class="t" style="font-size:18.7px">-2</text>
<text transform="translate(909.6,368.1) scale(1,1.075)" class="t" style="font-size:18.7px">&lt;-3</text>
<path d="M861.8 142.9h2.5M902.6 142.9h-2.5M861.8 186.4h2.5M902.6 186.4h-2.5M861.8 229.8h2.5M902.6 229.8h-2.5M861.8 273.3h2.5M902.6 273.3h-2.5M861.8 316.8h2.5M902.6 316.8h-2.5" stroke="#000" stroke-width="1.1" fill="none"/>
</g>
<text transform="translate(539.2,779.2) scale(1,1.03)" class="t" style="font-size:18.7px">Backazimuth</text>
<text transform="translate(539.2,805.1) scale(1,1.03)" class="t" style="font-size:18.7px" xml:space="preserve">to quake:  296</text>
<line x1="739.3" y1="750" x2="803.6" y2="790" stroke="#111" stroke-width="1.25"/>
<path d="M803.6 778.1L815.4 797.8L791.8 797.8Z" fill="#ff0000"/>
<defs><radialGradient id="nsfg" cx="0.42" cy="0.38" r="0.65"><stop offset="0" stop-color="#6aa8f0"/><stop offset="0.55" stop-color="#2f68c8"/><stop offset="1" stop-color="#173c8c"/></radialGradient></defs>
<path d="M906.3 829.5L902.3 831.1L902.3 827.9ZM905.5 833.7L901.2 833.6L902.4 830.7ZM903.1 837.3L899.2 835.6L901.4 833.4ZM899.5 839.7L896.5 836.6L899.4 835.4ZM895.3 840.5L893.7 836.5L896.9 836.5ZM891.1 839.7L891.2 835.4L894.1 836.6ZM887.5 837.3L889.2 833.4L891.4 835.6ZM885.1 833.7L888.2 830.7L889.4 833.6ZM884.3 829.5L888.3 827.9L888.3 831.1ZM885.1 825.3L889.4 825.4L888.2 828.3ZM887.5 821.7L891.4 823.4L889.2 825.6ZM891.1 819.3L894.1 822.4L891.2 823.6ZM895.3 818.5L896.9 822.5L893.7 822.5ZM899.5 819.3L899.4 823.6L896.5 822.4ZM903.1 821.7L901.4 825.6L899.2 823.4ZM905.5 825.3L902.4 828.3L901.2 825.4Z" fill="#e2b548"/>
<circle cx="895.3" cy="829.5" r="8.0" fill="url(#nsfg)"/>
<text x="895.6" y="832.3" text-anchor="middle" font-family="Liberation Serif" font-size="7.5px" fill="#fff" textLength="12" lengthAdjust="spacingAndGlyphs">NSF</text>
<line x1="908.7" y1="817.7" x2="908.7" y2="841.3" stroke="#444" stroke-width="0.9"/>
<text x="911.8" y="833.1" font-family="Liberation Sans" font-weight="bold" font-size="10px" fill="#5c6e4c" textLength="25" lengthAdjust="spacingAndGlyphs">SAGE</text>
<text x="940" y="833.1" font-family="Liberation Serif" font-size="10.5px" fill="#5b3fa0" textLength="15.4" lengthAdjust="spacingAndGlyphs">IRIS</text>
<path d="M946.5 823.2h4.5M948.8 821.6v3.4" stroke="#9a8cc0" stroke-width="0.6"/>
<rect x="912" y="835.4" width="24.5" height="1.1" fill="#c2c9bb"/>
</svg></body></html>
